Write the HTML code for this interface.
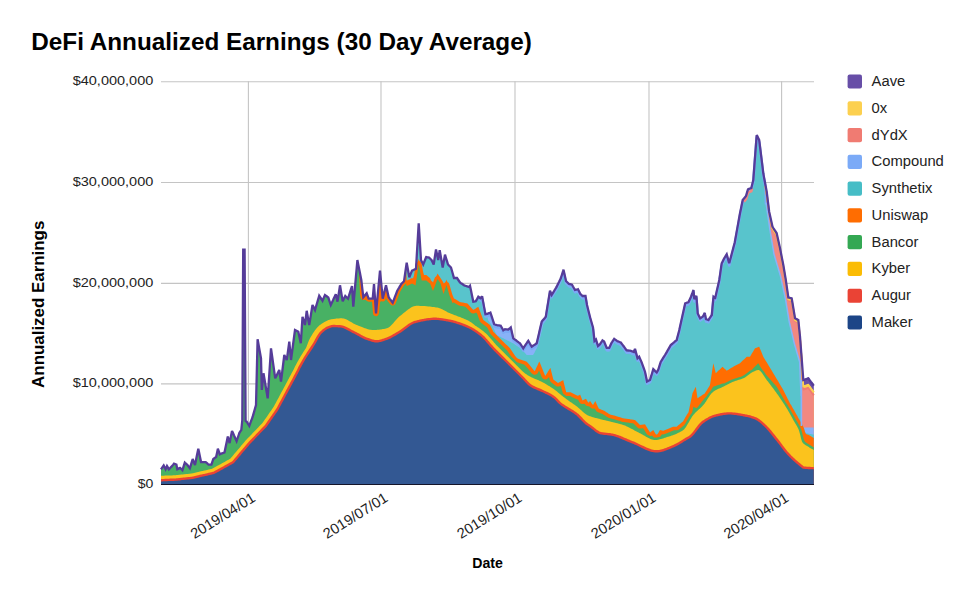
<!DOCTYPE html>
<html><head><meta charset="utf-8"><style>
html,body{margin:0;padding:0;background:#fff;width:973px;height:600px;overflow:hidden}
svg{display:block}
text{font-family:"Liberation Sans",sans-serif}
.ax{font-size:13.5px;fill:#222}
.xl{font-size:14.6px;fill:#222}
.leg{font-size:13.8px;fill:#222}
.title{font-size:24px;font-weight:bold;fill:#000}
.axt{font-size:14px;font-weight:bold;fill:#000}
.axt2{font-size:16.4px;font-weight:bold;fill:#000}
</style></head><body>
<svg width="973" height="600" viewBox="0 0 973 600">
<line x1="161" y1="81.7" x2="814" y2="81.7" stroke="#c4c4c4" stroke-width="1.1"/>
<line x1="161" y1="182.5" x2="814" y2="182.5" stroke="#c4c4c4" stroke-width="1.1"/>
<line x1="161" y1="283.4" x2="814" y2="283.4" stroke="#c4c4c4" stroke-width="1.1"/>
<line x1="161" y1="383.9" x2="814" y2="383.9" stroke="#c4c4c4" stroke-width="1.1"/>
<line x1="248.4" y1="81.2" x2="248.4" y2="484" stroke="#c4c4c4" stroke-width="1.1"/>
<line x1="381.0" y1="81.2" x2="381.0" y2="484" stroke="#c4c4c4" stroke-width="1.1"/>
<line x1="515.0" y1="81.2" x2="515.0" y2="484" stroke="#c4c4c4" stroke-width="1.1"/>
<line x1="649.0" y1="81.2" x2="649.0" y2="484" stroke="#c4c4c4" stroke-width="1.1"/>
<line x1="781.6" y1="81.2" x2="781.6" y2="484" stroke="#c4c4c4" stroke-width="1.1"/>
<polygon points="161.0,484.0 161.0,469.3 162.0,467.9 163.0,466.5 163.7,465.5 164.0,466.1 165.0,468.1 165.6,469.3 166.0,468.4 167.0,466.0 168.0,467.7 168.9,469.3 169.0,469.2 170.0,468.2 171.0,467.1 172.0,466.1 172.1,466.0 173.0,464.9 174.0,463.6 175.0,464.0 175.9,464.4 176.0,464.4 176.4,464.6 177.0,467.7 177.3,469.3 178.0,468.9 179.0,468.4 180.0,467.9 180.1,467.9 181.0,468.8 182.0,469.8 182.4,470.2 183.0,468.3 184.0,465.2 184.8,462.7 185.0,462.9 186.0,463.7 187.0,464.5 187.1,464.6 188.0,465.8 189.0,467.1 189.9,468.3 190.0,468.0 191.0,464.6 192.0,461.3 192.7,459.0 193.0,459.8 194.0,462.4 195.0,465.0 196.0,460.1 197.0,455.1 198.0,450.2 198.3,448.7 199.0,452.1 200.0,456.9 201.0,461.7 201.1,462.2 202.0,462.2 203.0,462.2 204.0,462.2 205.0,462.2 205.8,462.2 206.0,462.4 207.0,463.2 208.0,464.1 208.6,464.6 209.0,464.6 210.0,464.6 211.0,464.6 211.4,464.6 212.0,462.8 213.0,459.9 213.3,459.0 214.0,458.5 214.2,458.4 215.0,457.8 216.0,457.2 216.1,457.1 217.0,452.9 217.9,448.7 218.0,449.0 219.0,451.9 219.8,454.3 220.0,454.2 221.0,453.8 222.0,453.4 223.0,453.0 224.0,452.6 224.5,452.4 225.0,450.0 226.0,445.2 227.0,440.4 227.8,436.5 228.0,437.2 229.0,440.9 229.6,443.1 230.0,441.1 231.0,436.0 232.0,430.9 233.0,433.1 233.8,434.9 234.0,435.4 235.0,437.6 236.0,439.9 236.6,441.2 237.0,440.0 238.0,437.0 239.0,434.0 239.4,432.8 240.0,431.9 241.0,430.4 241.3,430.0 242.0,423.0 242.3,420.0 243.0,287.5 243.2,249.6 244.0,249.6 244.6,249.6 245.0,318.2 245.6,421.0 246.0,421.3 246.7,421.7 247.0,422.2 248.0,423.8 249.0,425.3 249.3,425.8 250.0,423.9 251.0,421.2 252.0,418.6 252.7,416.7 253.0,415.6 254.0,412.1 255.0,408.5 256.0,405.0 257.0,363.9 257.6,339.2 258.0,341.4 259.0,347.1 260.0,352.7 261.0,358.3 261.8,390.0 262.0,388.0 263.0,378.2 263.5,373.3 264.0,376.3 265.0,382.2 266.0,388.2 266.7,392.3 267.0,394.1 267.7,398.3 268.0,393.8 269.0,378.6 270.0,363.5 271.0,348.3 272.0,355.4 272.5,359.0 273.0,362.6 274.0,369.7 275.0,376.9 275.2,378.3 276.0,376.7 277.0,374.7 278.0,372.6 278.3,372.0 279.0,370.6 279.3,370.0 280.0,374.8 281.0,381.7 282.0,373.6 283.0,365.5 284.0,357.4 284.3,355.0 285.0,356.4 286.0,358.4 286.8,360.0 287.0,358.5 288.0,351.2 289.0,343.9 289.3,341.7 290.0,349.2 291.0,360.0 291.7,354.8 292.0,352.5 293.0,345.0 294.0,337.5 295.0,330.0 296.0,330.5 297.0,331.0 298.0,331.5 298.3,331.7 299.0,334.9 300.0,339.6 300.8,343.3 301.0,340.2 301.7,329.2 302.0,324.5 302.5,316.7 303.0,318.4 304.0,321.7 305.0,325.0 306.0,316.6 306.7,310.8 307.0,312.5 308.0,318.2 309.0,323.9 309.2,325.0 310.0,320.2 311.0,314.1 312.0,308.0 312.5,305.0 313.0,306.0 314.0,308.0 314.7,309.4 315.0,310.0 316.0,306.6 317.0,303.2 318.0,299.9 319.0,296.5 319.2,295.8 320.0,297.0 321.0,298.5 321.7,299.6 322.0,300.0 322.5,300.8 323.0,299.6 324.0,297.3 325.0,295.0 326.0,295.8 327.0,296.5 328.0,297.3 328.3,297.5 328.7,298.7 329.0,299.6 330.0,302.6 330.8,305.0 331.0,304.6 331.7,303.1 332.0,302.4 333.0,300.2 333.3,299.6 334.0,298.1 335.0,295.9 335.8,294.2 336.0,295.1 337.0,299.5 337.5,301.7 338.0,298.4 339.0,291.9 340.0,285.3 341.0,291.2 341.7,295.4 342.0,297.2 342.7,301.3 343.0,300.7 344.0,298.6 345.0,296.6 345.3,296.0 346.0,296.7 347.0,297.7 348.0,298.7 349.0,295.5 350.0,292.4 351.0,289.2 352.0,286.0 353.0,301.9 353.3,306.7 354.0,298.7 355.0,287.3 356.0,275.9 356.7,268.0 357.0,264.6 357.4,260.0 358.0,263.1 359.0,268.2 360.0,273.3 361.0,278.5 361.3,280.0 362.0,286.1 363.0,294.7 363.3,297.3 364.0,296.5 365.0,295.3 366.0,294.1 366.7,293.3 367.0,294.1 368.0,296.8 368.7,298.7 369.0,298.7 370.0,298.7 371.0,298.7 372.0,298.7 372.7,298.7 373.0,295.3 373.3,291.9 374.0,284.0 375.0,298.6 376.0,313.3 376.7,305.8 377.0,302.6 378.0,292.0 379.0,281.4 380.0,270.7 381.0,281.1 382.0,291.4 382.7,298.7 383.0,297.5 384.0,293.4 385.0,289.4 386.0,285.3 386.7,288.4 387.0,289.7 388.0,294.2 388.7,297.3 389.0,297.7 390.0,299.1 391.0,300.4 392.0,301.8 392.7,302.7 393.0,301.9 394.0,299.3 395.0,296.7 396.0,294.1 397.0,291.5 397.3,290.7 398.0,289.5 399.0,287.9 400.0,286.2 401.0,284.5 401.3,284.0 402.0,283.3 403.0,282.3 404.0,281.3 405.0,274.4 406.0,267.5 406.7,262.7 407.0,264.4 408.0,270.0 409.0,275.6 409.3,277.3 410.0,275.6 411.0,273.1 412.0,270.7 413.0,270.2 414.0,269.7 415.0,269.2 415.5,268.9 416.0,268.7 416.7,256.9 417.0,251.8 418.0,235.0 418.7,223.2 419.0,228.0 420.0,244.0 421.0,260.0 421.7,261.4 422.0,262.0 423.0,264.1 423.2,264.5 424.0,262.5 425.0,260.0 426.0,257.5 426.2,257.0 427.0,257.2 428.0,257.4 429.0,257.7 429.2,257.7 430.0,258.5 431.0,259.5 431.5,260.0 432.0,261.0 433.0,263.1 433.7,264.5 434.0,262.5 435.0,256.0 436.0,249.5 436.7,252.8 437.0,254.3 437.5,256.7 438.0,259.0 438.2,260.0 439.0,254.8 439.7,250.2 440.0,251.9 440.5,254.8 441.0,257.7 442.0,263.5 442.7,267.5 443.0,265.8 443.5,263.0 444.0,260.3 445.0,254.7 446.0,258.0 446.5,259.6 447.0,261.2 448.0,264.5 448.3,264.8 449.0,265.5 449.5,266.0 450.0,266.5 451.0,267.5 452.0,271.0 452.5,272.8 453.0,274.5 453.3,275.6 454.0,278.0 455.0,278.0 456.0,278.0 457.0,278.0 458.0,279.5 459.0,281.0 460.0,282.5 461.0,283.2 462.0,283.8 463.0,284.5 464.0,285.2 464.5,285.5 465.0,285.7 466.0,286.0 466.7,286.2 467.0,286.3 467.5,286.5 468.0,286.7 469.0,287.0 470.0,285.8 471.0,290.6 471.7,294.0 472.0,295.4 473.0,300.3 473.3,301.7 474.0,301.6 475.0,301.4 475.8,301.2 476.0,300.9 477.0,299.1 478.0,297.2 478.3,296.7 479.0,297.2 480.0,298.0 480.4,298.3 481.0,297.6 482.0,296.4 482.1,296.2 483.0,301.1 483.3,302.8 484.0,306.6 485.0,312.0 485.4,314.2 486.0,314.1 487.0,313.9 487.5,313.8 488.0,313.5 489.0,313.1 490.0,312.7 490.4,312.5 491.0,314.3 492.0,317.4 493.0,320.5 493.3,321.4 494.0,323.6 494.2,324.2 495.0,324.5 496.0,324.8 496.7,325.0 497.0,325.1 498.0,325.3 499.0,325.4 500.0,325.6 500.8,325.8 501.0,326.2 502.0,328.0 503.0,329.8 503.3,330.4 504.0,329.9 505.0,329.2 506.0,329.3 506.7,329.4 507.0,329.4 508.0,329.6 508.3,329.6 509.0,329.0 510.0,328.2 510.8,327.5 511.0,328.4 512.0,332.8 512.5,335.0 513.0,337.1 513.3,338.3 514.0,338.8 515.0,339.6 516.0,340.3 516.7,340.8 517.0,341.1 518.0,341.8 519.0,342.6 520.0,343.3 521.0,344.8 521.7,345.9 522.0,346.3 523.0,347.8 523.3,348.3 524.0,347.2 525.0,345.7 526.0,344.2 526.7,343.2 527.0,342.7 528.0,341.2 528.3,340.8 529.0,342.0 530.0,343.8 531.0,345.5 531.7,346.7 532.0,346.5 533.0,345.8 534.0,345.1 534.7,344.7 535.0,344.5 536.0,343.8 536.7,343.3 537.0,342.0 538.0,337.7 539.0,333.4 539.3,332.1 540.0,329.0 541.0,324.7 541.7,321.7 542.0,321.3 543.0,320.1 544.0,318.9 545.0,317.7 545.2,317.4 545.8,316.7 546.0,315.5 547.0,309.3 548.0,303.1 549.0,297.0 550.0,290.8 550.4,291.8 551.0,293.3 551.7,295.0 552.0,294.5 553.0,292.8 553.3,292.3 554.0,291.2 555.0,289.5 556.0,287.9 556.7,286.7 557.0,286.1 558.0,284.0 559.0,282.0 559.2,281.6 560.0,279.9 560.8,278.3 561.0,277.7 562.0,274.5 563.0,271.3 563.2,270.7 563.5,269.7 564.0,272.0 565.0,276.5 566.0,281.0 566.2,281.2 567.0,282.0 568.0,283.0 569.0,284.0 570.0,284.2 570.8,284.4 571.0,284.5 572.0,284.7 573.0,286.5 574.0,288.2 575.0,290.0 576.0,289.7 576.6,289.6 577.0,289.5 577.8,289.3 578.0,289.2 579.0,291.2 580.0,293.3 580.1,293.5 580.2,293.7 581.0,294.5 582.0,295.5 582.5,296.0 583.0,296.0 584.0,296.0 584.8,296.0 585.0,296.0 585.5,296.0 586.0,299.0 587.0,305.0 588.0,309.0 588.3,310.2 589.0,313.0 590.0,317.0 590.1,317.4 591.0,320.5 592.0,324.0 593.0,327.5 594.0,336.5 594.5,341.0 595.0,340.5 595.3,340.2 596.0,339.5 597.0,342.8 598.0,346.0 598.8,345.3 599.0,345.1 600.0,344.2 601.0,342.7 602.0,341.2 602.5,340.4 603.0,340.8 604.0,341.5 604.2,341.7 604.6,342.7 605.0,343.7 606.0,346.2 606.7,347.9 607.0,347.9 608.0,347.9 609.0,347.9 609.2,347.9 610.0,346.2 611.0,344.0 611.7,342.5 612.0,342.1 613.0,340.6 614.0,339.1 614.2,338.8 615.0,339.4 616.0,340.1 617.0,340.9 617.5,341.2 618.0,341.4 619.0,341.8 620.0,342.2 620.8,342.5 621.0,342.8 622.0,344.1 623.0,345.4 623.3,345.8 624.0,346.7 625.0,348.1 626.0,349.5 626.7,350.4 627.0,350.4 628.0,350.5 629.0,350.6 630.0,350.7 630.8,350.8 631.0,350.9 631.7,351.2 632.0,351.3 633.0,351.8 633.8,352.1 634.0,351.4 635.0,348.8 636.0,352.6 637.0,356.4 637.5,358.3 638.0,357.8 639.0,356.9 639.2,356.7 640.0,358.6 641.0,360.9 641.7,362.5 642.0,363.3 643.0,366.1 644.0,368.9 645.0,371.7 646.0,376.6 647.0,381.5 648.0,381.0 649.0,380.5 650.0,380.0 651.0,376.7 652.0,373.5 653.0,370.2 653.3,369.2 654.0,369.9 655.0,370.9 656.0,371.8 656.7,372.5 657.0,372.0 658.0,370.1 658.3,369.6 659.0,367.4 660.0,364.2 660.8,361.7 661.0,361.4 662.0,359.8 663.0,358.2 663.3,357.7 664.0,356.6 665.0,355.0 666.0,353.3 667.0,351.6 668.0,349.8 668.3,349.3 669.0,348.1 670.0,346.4 670.8,345.0 671.0,344.8 672.0,344.0 673.0,343.1 673.3,342.9 674.0,342.3 675.0,341.4 676.0,340.6 676.7,340.0 677.0,338.8 678.0,335.0 679.0,331.2 679.3,330.0 680.0,326.8 681.0,322.3 682.0,317.8 683.0,313.3 683.3,311.9 684.0,308.7 685.0,304.2 685.2,303.3 686.0,303.0 686.7,302.8 687.0,302.6 688.0,302.3 688.3,302.2 688.5,302.1 689.0,301.0 690.0,298.9 691.0,296.7 692.0,294.0 692.5,292.7 693.0,291.3 693.3,290.5 693.5,290.0 694.0,295.8 694.3,299.2 695.0,298.1 695.8,296.8 696.0,296.4 696.4,295.8 696.7,299.8 697.0,303.9 697.5,310.6 697.7,313.3 698.0,313.9 699.0,315.9 700.0,317.9 700.2,318.3 701.0,317.8 702.0,317.1 702.7,316.7 703.0,316.1 703.3,315.6 703.8,314.7 704.0,314.3 704.8,312.9 705.0,314.2 706.0,319.2 707.0,319.5 708.0,319.8 708.5,320.0 709.0,319.2 710.0,317.7 711.0,316.2 711.8,315.0 712.0,312.8 713.0,302.1 713.3,298.9 713.5,296.7 714.0,297.1 715.0,297.8 715.2,297.9 715.8,295.3 716.0,294.4 716.6,291.8 717.0,290.0 718.0,285.7 719.0,281.3 719.3,280.0 720.0,275.1 721.0,268.2 721.7,263.3 722.0,262.7 722.5,261.7 723.0,260.7 723.3,260.1 724.0,258.7 724.2,258.3 725.0,257.0 726.0,255.3 726.7,254.2 727.0,255.3 728.0,258.9 729.0,262.6 729.2,263.3 729.4,262.6 730.0,260.3 731.0,256.6 732.0,252.8 733.0,249.1 733.3,247.9 734.0,245.3 734.7,242.7 735.0,241.0 736.0,235.5 737.0,229.9 738.0,224.4 739.0,218.8 740.0,213.3 741.0,208.4 742.0,203.4 742.7,200.0 743.0,199.6 743.3,199.3 744.0,198.4 745.0,197.2 746.0,196.0 746.7,193.7 747.0,192.7 748.0,189.3 749.0,188.9 750.0,188.5 751.0,188.1 751.3,188.0 752.0,185.2 753.0,181.2 753.3,180.0 754.0,170.7 755.0,157.5 756.0,144.3 756.7,135.0 757.0,135.6 758.0,137.6 758.3,138.2 759.0,139.6 759.2,140.0 760.0,146.5 761.0,154.6 762.0,162.7 763.0,170.9 763.3,173.3 764.0,177.1 764.2,178.2 765.0,182.5 765.5,185.2 766.0,187.9 766.7,191.7 767.0,194.1 768.0,202.3 769.0,210.4 769.2,212.0 769.5,213.3 770.0,215.6 771.0,220.0 772.0,224.5 772.5,226.7 773.0,227.5 773.3,228.0 774.0,229.1 775.0,230.6 775.2,230.9 776.0,232.2 776.7,233.3 777.0,234.7 778.0,239.2 779.0,243.8 780.0,248.3 780.5,250.8 781.0,253.4 782.0,258.4 783.0,263.5 783.3,265.0 784.0,269.2 785.0,275.2 785.5,278.2 785.8,280.0 786.0,281.4 786.7,286.3 787.0,288.4 787.5,291.9 788.0,295.4 788.3,297.5 789.0,297.7 789.2,297.7 790.0,297.9 791.0,298.1 791.7,298.3 792.0,300.1 793.0,306.2 793.3,308.0 794.0,312.2 794.5,315.3 795.0,318.3 796.0,318.8 796.7,319.2 797.0,319.3 797.5,319.6 798.0,319.8 798.3,320.0 798.8,324.9 799.0,326.9 799.7,333.8 800.0,336.7 800.5,343.3 801.0,349.8 801.3,353.8 801.5,356.4 802.0,362.9 802.5,369.5 803.0,376.1 803.3,380.0 804.0,379.8 805.0,379.5 806.0,379.2 806.7,379.0 807.0,378.9 807.5,378.6 808.0,378.4 808.3,378.3 808.8,379.0 809.0,379.3 810.0,380.6 811.0,382.0 812.0,383.3 813.0,384.7 813.8,385.8 813.8,484.0" fill="#674ea7"/>
<polygon points="161.0,484.0 161.0,469.3 162.0,467.9 163.0,466.5 163.7,465.5 164.0,466.1 165.0,468.1 165.6,469.3 166.0,468.4 167.0,466.0 168.0,467.7 168.9,469.3 169.0,469.2 170.0,468.2 171.0,467.1 172.0,466.1 172.1,466.0 173.0,464.9 174.0,463.6 175.0,464.0 175.9,464.4 176.0,464.4 176.4,464.6 177.0,467.7 177.3,469.3 178.0,468.9 179.0,468.4 180.0,467.9 180.1,467.9 181.0,468.8 182.0,469.8 182.4,470.2 183.0,468.3 184.0,465.2 184.8,462.7 185.0,462.9 186.0,463.7 187.0,464.5 187.1,464.6 188.0,465.8 189.0,467.1 189.9,468.3 190.0,468.0 191.0,464.6 192.0,461.3 192.7,459.0 193.0,459.8 194.0,462.4 195.0,465.0 196.0,460.1 197.0,455.1 198.0,450.2 198.3,448.7 199.0,452.1 200.0,456.9 201.0,461.7 201.1,462.2 202.0,462.2 203.0,462.2 204.0,462.2 205.0,462.2 205.8,462.2 206.0,462.4 207.0,463.2 208.0,464.1 208.6,464.6 209.0,464.6 210.0,464.6 211.0,464.6 211.4,464.6 212.0,462.8 213.0,459.9 213.3,459.0 214.0,458.5 214.2,458.4 215.0,457.8 216.0,457.2 216.1,457.1 217.0,452.9 217.9,448.7 218.0,449.0 219.0,451.9 219.8,454.3 220.0,454.2 221.0,453.8 222.0,453.4 223.0,453.0 224.0,452.6 224.5,452.4 225.0,450.0 226.0,445.2 227.0,440.4 227.8,436.5 228.0,437.2 229.0,440.9 229.6,443.1 230.0,441.1 231.0,436.0 232.0,430.9 233.0,433.1 233.8,434.9 234.0,435.4 235.0,437.6 236.0,439.9 236.6,441.2 237.0,440.0 238.0,437.0 239.0,434.0 239.4,432.8 240.0,431.9 241.0,430.4 241.3,430.0 242.0,423.0 242.3,420.0 243.0,287.5 243.2,249.6 244.0,249.6 244.6,249.6 245.0,318.2 245.6,421.0 246.0,421.3 246.7,421.7 247.0,422.2 248.0,423.8 249.0,425.3 249.3,425.8 250.0,423.9 251.0,421.2 252.0,418.6 252.7,416.7 253.0,415.6 254.0,412.1 255.0,408.5 256.0,405.0 257.0,363.9 257.6,339.2 258.0,341.4 259.0,347.1 260.0,352.7 261.0,358.3 261.8,390.0 262.0,388.0 263.0,378.2 263.5,373.3 264.0,376.3 265.0,382.2 266.0,388.2 266.7,392.3 267.0,394.1 267.7,398.3 268.0,393.8 269.0,378.6 270.0,363.5 271.0,348.3 272.0,355.4 272.5,359.0 273.0,362.6 274.0,369.7 275.0,376.9 275.2,378.3 276.0,376.7 277.0,374.7 278.0,372.6 278.3,372.0 279.0,370.6 279.3,370.0 280.0,374.8 281.0,381.7 282.0,373.6 283.0,365.5 284.0,357.4 284.3,355.0 285.0,356.4 286.0,358.4 286.8,360.0 287.0,358.5 288.0,351.2 289.0,343.9 289.3,341.7 290.0,349.2 291.0,360.0 291.7,354.8 292.0,352.5 293.0,345.0 294.0,337.5 295.0,330.0 296.0,330.5 297.0,331.0 298.0,331.5 298.3,331.7 299.0,334.9 300.0,339.6 300.8,343.3 301.0,340.2 301.7,329.2 302.0,324.5 302.5,316.7 303.0,318.4 304.0,321.7 305.0,325.0 306.0,316.6 306.7,310.8 307.0,312.5 308.0,318.2 309.0,323.9 309.2,325.0 310.0,320.2 311.0,314.1 312.0,308.0 312.5,305.0 313.0,306.0 314.0,308.0 314.7,309.4 315.0,310.0 316.0,306.6 317.0,303.2 318.0,299.9 319.0,296.5 319.2,295.8 320.0,297.0 321.0,298.5 321.7,299.6 322.0,300.0 322.5,300.8 323.0,299.6 324.0,297.3 325.0,295.0 326.0,295.8 327.0,296.5 328.0,297.3 328.3,297.5 328.7,298.7 329.0,299.6 330.0,302.6 330.8,305.0 331.0,304.6 331.7,303.1 332.0,302.4 333.0,300.2 333.3,299.6 334.0,298.1 335.0,295.9 335.8,294.2 336.0,295.1 337.0,299.5 337.5,301.7 338.0,298.4 339.0,291.9 340.0,285.3 341.0,291.2 341.7,295.4 342.0,297.2 342.7,301.3 343.0,300.7 344.0,298.6 345.0,296.6 345.3,296.0 346.0,296.7 347.0,297.7 348.0,298.7 349.0,295.5 350.0,292.4 351.0,289.2 352.0,286.0 353.0,301.9 353.3,306.7 354.0,298.7 355.0,287.3 356.0,275.9 356.7,268.0 357.0,264.6 357.4,260.0 358.0,263.1 359.0,268.2 360.0,274.1 361.0,279.3 361.3,280.8 362.0,286.9 363.0,295.5 363.3,298.1 364.0,297.3 365.0,296.1 366.0,294.9 366.7,294.1 367.0,294.9 368.0,297.6 368.7,299.5 369.0,299.5 370.0,299.5 371.0,299.5 372.0,299.5 372.7,299.5 373.0,296.1 373.3,292.7 374.0,284.8 375.0,299.4 376.0,314.1 376.7,306.6 377.0,303.4 378.0,292.8 379.0,282.2 380.0,271.5 381.0,281.9 382.0,292.2 382.7,299.5 383.0,298.3 384.0,294.2 385.0,290.2 386.0,286.1 386.7,289.2 387.0,290.5 388.0,295.0 388.7,298.1 389.0,298.5 390.0,299.9 391.0,301.2 392.0,302.6 392.7,303.5 393.0,302.7 394.0,300.1 395.0,296.7 396.0,294.1 397.0,291.5 397.3,290.7 398.0,289.5 399.0,287.9 400.0,286.2 401.0,284.5 401.3,284.0 402.0,283.3 403.0,282.3 404.0,281.3 405.0,274.4 406.0,267.5 406.7,262.7 407.0,264.4 408.0,270.0 409.0,275.6 409.3,277.3 410.0,275.6 411.0,273.1 412.0,270.7 413.0,270.2 414.0,269.7 415.0,268.7 415.5,265.3 416.0,263.1 416.7,256.9 417.0,251.8 418.0,235.0 418.7,223.2 419.0,228.0 420.0,244.0 421.0,260.0 421.7,261.4 422.0,262.0 423.0,264.1 423.2,264.5 424.0,262.5 425.0,260.0 426.0,257.5 426.2,257.0 427.0,257.2 428.0,257.4 429.0,257.7 429.2,257.7 430.0,258.5 431.0,259.5 431.5,260.0 432.0,261.0 433.0,263.1 433.7,264.5 434.0,262.5 435.0,256.0 436.0,249.5 436.7,252.8 437.0,254.3 437.5,256.7 438.0,259.0 438.2,260.0 439.0,254.8 439.7,250.2 440.0,251.9 440.5,254.8 441.0,257.7 442.0,263.5 442.7,267.5 443.0,265.8 443.5,263.0 444.0,260.3 445.0,254.7 446.0,258.0 446.5,259.6 447.0,261.2 448.0,264.5 448.3,264.8 449.0,265.5 449.5,266.0 450.0,266.5 451.0,267.5 452.0,271.0 452.5,272.8 453.0,274.5 453.3,275.6 454.0,278.0 455.0,278.0 456.0,278.0 457.0,278.0 458.0,279.5 459.0,281.0 460.0,282.5 461.0,283.2 462.0,283.8 463.0,284.5 464.0,285.2 464.5,285.5 465.0,285.7 466.0,286.0 466.7,286.2 467.0,286.3 467.5,286.5 468.0,286.7 469.0,287.0 470.0,285.8 471.0,290.6 471.7,294.0 472.0,295.4 473.0,300.3 473.3,301.7 474.0,301.6 475.0,301.4 475.8,301.2 476.0,300.9 477.0,299.1 478.0,297.2 478.3,296.7 479.0,297.2 480.0,298.0 480.4,298.3 481.0,297.6 482.0,296.4 482.1,296.2 483.0,301.1 483.3,302.8 484.0,306.6 485.0,312.0 485.4,314.2 486.0,314.1 487.0,313.9 487.5,313.8 488.0,313.5 489.0,313.1 490.0,312.7 490.4,312.5 491.0,314.3 492.0,317.4 493.0,320.5 493.3,321.4 494.0,323.6 494.2,324.2 495.0,324.5 496.0,324.8 496.7,325.0 497.0,325.1 498.0,325.3 499.0,325.4 500.0,325.6 500.8,325.8 501.0,326.2 502.0,328.0 503.0,329.8 503.3,330.4 504.0,329.9 505.0,329.2 506.0,329.3 506.7,329.4 507.0,329.4 508.0,329.6 508.3,329.6 509.0,329.0 510.0,328.2 510.8,327.5 511.0,328.4 512.0,332.8 512.5,335.0 513.0,337.1 513.3,338.3 514.0,338.8 515.0,339.6 516.0,340.3 516.7,340.8 517.0,341.1 518.0,341.8 519.0,342.6 520.0,343.3 521.0,344.8 521.7,345.9 522.0,346.3 523.0,347.8 523.3,348.3 524.0,347.2 525.0,345.7 526.0,344.2 526.7,343.2 527.0,342.7 528.0,341.2 528.3,340.8 529.0,342.0 530.0,343.8 531.0,345.5 531.7,346.7 532.0,346.5 533.0,345.8 534.0,345.1 534.7,344.7 535.0,344.5 536.0,343.8 536.7,343.3 537.0,342.0 538.0,337.7 539.0,333.4 539.3,332.1 540.0,329.0 541.0,324.7 541.7,321.7 542.0,321.3 543.0,320.1 544.0,318.9 545.0,317.7 545.2,317.4 545.8,316.7 546.0,315.5 547.0,309.3 548.0,303.1 549.0,297.0 550.0,290.8 550.4,291.8 551.0,293.3 551.7,295.0 552.0,294.5 553.0,292.8 553.3,292.3 554.0,291.2 555.0,289.5 556.0,287.9 556.7,286.7 557.0,286.1 558.0,284.0 559.0,282.0 559.2,281.6 560.0,279.9 560.8,278.3 561.0,277.7 562.0,274.5 563.0,271.3 563.2,270.7 563.5,269.7 564.0,272.0 565.0,276.5 566.0,281.0 566.2,281.2 567.0,282.0 568.0,283.0 569.0,284.0 570.0,284.2 570.8,284.4 571.0,284.5 572.0,284.7 573.0,286.5 574.0,288.2 575.0,290.0 576.0,289.7 576.6,289.6 577.0,289.5 577.8,289.3 578.0,289.2 579.0,291.2 580.0,293.3 580.1,293.5 580.2,293.7 581.0,294.5 582.0,295.5 582.5,296.0 583.0,296.0 584.0,296.0 584.8,296.0 585.0,296.0 585.5,296.0 586.0,299.0 587.0,305.0 588.0,309.0 588.3,310.2 589.0,313.0 590.0,317.0 590.1,317.4 591.0,320.5 592.0,324.0 593.0,327.5 594.0,336.5 594.5,341.0 595.0,340.5 595.3,340.2 596.0,339.5 597.0,342.8 598.0,346.0 598.8,345.3 599.0,345.1 600.0,344.2 601.0,342.7 602.0,341.2 602.5,340.4 603.0,340.8 604.0,341.5 604.2,341.7 604.6,342.7 605.0,343.7 606.0,346.2 606.7,347.9 607.0,347.9 608.0,347.9 609.0,347.9 609.2,347.9 610.0,346.2 611.0,344.0 611.7,342.5 612.0,342.1 613.0,340.6 614.0,339.1 614.2,338.8 615.0,339.4 616.0,340.1 617.0,340.9 617.5,341.2 618.0,341.4 619.0,341.8 620.0,342.2 620.8,342.5 621.0,342.8 622.0,344.1 623.0,345.4 623.3,345.8 624.0,346.7 625.0,348.1 626.0,349.5 626.7,350.4 627.0,350.4 628.0,350.5 629.0,350.6 630.0,350.7 630.8,350.8 631.0,350.9 631.7,351.2 632.0,351.3 633.0,351.8 633.8,352.1 634.0,351.4 635.0,348.8 636.0,352.6 637.0,356.4 637.5,358.3 638.0,357.8 639.0,356.9 639.2,356.7 640.0,358.6 641.0,360.9 641.7,362.5 642.0,363.3 643.0,366.1 644.0,368.9 645.0,371.7 646.0,376.6 647.0,381.5 648.0,381.0 649.0,380.5 650.0,380.0 651.0,376.7 652.0,373.5 653.0,370.2 653.3,369.2 654.0,369.9 655.0,370.9 656.0,371.8 656.7,372.5 657.0,372.0 658.0,370.1 658.3,369.6 659.0,367.4 660.0,364.2 660.8,361.7 661.0,361.4 662.0,359.8 663.0,358.2 663.3,357.7 664.0,356.6 665.0,355.0 666.0,353.3 667.0,351.6 668.0,349.8 668.3,349.3 669.0,348.1 670.0,346.4 670.8,345.0 671.0,344.8 672.0,344.0 673.0,343.1 673.3,342.9 674.0,342.3 675.0,341.4 676.0,340.6 676.7,340.0 677.0,338.8 678.0,335.0 679.0,331.2 679.3,330.0 680.0,326.8 681.0,322.3 682.0,317.8 683.0,313.3 683.3,311.9 684.0,308.7 685.0,304.2 685.2,303.3 686.0,303.0 686.7,302.8 687.0,302.6 688.0,302.3 688.3,302.2 688.5,302.1 689.0,301.0 690.0,298.9 691.0,296.7 692.0,294.0 692.5,292.7 693.0,291.3 693.3,290.5 693.5,290.0 694.0,295.8 694.3,299.2 695.0,298.1 695.8,296.8 696.0,296.4 696.4,295.8 696.7,299.8 697.0,303.9 697.5,310.6 697.7,313.3 698.0,313.9 699.0,315.9 700.0,317.9 700.2,318.3 701.0,317.8 702.0,317.1 702.7,316.7 703.0,316.1 703.3,315.6 703.8,314.7 704.0,314.3 704.8,312.9 705.0,314.2 706.0,319.2 707.0,319.5 708.0,319.8 708.5,320.0 709.0,319.2 710.0,317.7 711.0,316.2 711.8,315.0 712.0,312.8 713.0,302.1 713.3,298.9 713.5,296.7 714.0,297.1 715.0,297.8 715.2,297.9 715.8,295.3 716.0,294.4 716.6,291.8 717.0,290.0 718.0,285.7 719.0,281.3 719.3,280.0 720.0,275.1 721.0,268.2 721.7,263.3 722.0,262.7 722.5,261.7 723.0,260.7 723.3,260.1 724.0,258.7 724.2,258.3 725.0,257.0 726.0,255.3 726.7,254.2 727.0,255.3 728.0,258.9 729.0,262.6 729.2,263.3 729.4,262.6 730.0,260.3 731.0,256.6 732.0,252.8 733.0,249.1 733.3,247.9 734.0,245.3 734.7,242.7 735.0,241.0 736.0,235.5 737.0,229.9 738.0,224.4 739.0,218.8 740.0,213.3 741.0,208.4 742.0,203.4 742.7,200.0 743.0,199.6 743.3,199.3 744.0,198.4 745.0,197.2 746.0,196.0 746.7,193.7 747.0,192.7 748.0,189.3 749.0,188.9 750.0,188.5 751.0,188.1 751.3,188.0 752.0,185.2 753.0,181.2 753.3,180.0 754.0,170.7 755.0,157.5 756.0,144.3 756.7,135.0 757.0,135.6 758.0,137.6 758.3,138.2 759.0,139.6 759.2,140.0 760.0,146.5 761.0,154.6 762.0,162.7 763.0,170.9 763.3,173.3 764.0,177.1 764.2,178.2 765.0,182.5 765.5,185.2 766.0,188.7 766.7,192.5 767.0,194.9 768.0,203.1 769.0,211.2 769.2,212.8 769.5,214.1 770.0,216.4 771.0,220.8 772.0,225.3 772.5,227.5 773.0,228.3 773.3,228.8 774.0,229.9 775.0,231.4 775.2,231.7 776.0,233.0 776.7,234.1 777.0,235.5 778.0,240.0 779.0,244.6 780.0,249.1 780.5,251.6 781.0,254.2 782.0,259.2 783.0,264.3 783.3,265.8 784.0,270.0 785.0,276.0 785.5,279.0 785.8,280.8 786.0,282.2 786.7,287.1 787.0,289.2 787.5,292.7 788.0,296.2 788.3,298.3 789.0,298.5 789.2,298.5 790.0,298.7 791.0,298.9 791.7,299.1 792.0,300.9 793.0,307.0 793.3,308.8 794.0,313.0 794.5,316.1 795.0,319.1 796.0,319.6 796.7,320.0 797.0,320.1 797.5,320.4 798.0,320.6 798.3,320.8 798.8,325.7 799.0,327.7 799.7,334.6 800.0,337.5 800.5,344.1 801.0,350.6 801.3,354.6 801.5,357.2 802.0,368.4 802.5,375.0 803.0,381.6 803.3,385.5 804.0,385.3 805.0,385.0 806.0,384.7 806.7,384.5 807.0,384.4 807.5,384.1 808.0,383.9 808.3,383.8 808.8,384.5 809.0,384.8 810.0,386.1 811.0,387.5 812.0,388.8 813.0,390.2 813.8,391.3 813.8,484.0" fill="#fcd04f"/>
<polygon points="161.0,484.0 161.0,469.3 162.0,467.9 163.0,466.5 163.7,465.5 164.0,466.1 165.0,468.1 165.6,469.3 166.0,468.4 167.0,466.0 168.0,467.7 168.9,469.3 169.0,469.2 170.0,468.2 171.0,467.1 172.0,466.1 172.1,466.0 173.0,464.9 174.0,463.6 175.0,464.0 175.9,464.4 176.0,464.4 176.4,464.6 177.0,467.7 177.3,469.3 178.0,468.9 179.0,468.4 180.0,467.9 180.1,467.9 181.0,468.8 182.0,469.8 182.4,470.2 183.0,468.3 184.0,465.2 184.8,462.7 185.0,462.9 186.0,463.7 187.0,464.5 187.1,464.6 188.0,465.8 189.0,467.1 189.9,468.3 190.0,468.0 191.0,464.6 192.0,461.3 192.7,459.0 193.0,459.8 194.0,462.4 195.0,465.0 196.0,460.1 197.0,455.1 198.0,450.2 198.3,448.7 199.0,452.1 200.0,456.9 201.0,461.7 201.1,462.2 202.0,462.2 203.0,462.2 204.0,462.2 205.0,462.2 205.8,462.2 206.0,462.4 207.0,463.2 208.0,464.1 208.6,464.6 209.0,464.6 210.0,464.6 211.0,464.6 211.4,464.6 212.0,462.8 213.0,459.9 213.3,459.0 214.0,458.5 214.2,458.4 215.0,457.8 216.0,457.2 216.1,457.1 217.0,452.9 217.9,448.7 218.0,449.0 219.0,451.9 219.8,454.3 220.0,454.2 221.0,453.8 222.0,453.4 223.0,453.0 224.0,452.6 224.5,452.4 225.0,450.0 226.0,445.2 227.0,440.4 227.8,436.5 228.0,437.2 229.0,440.9 229.6,443.1 230.0,441.1 231.0,436.0 232.0,430.9 233.0,433.1 233.8,434.9 234.0,435.4 235.0,437.6 236.0,439.9 236.6,441.2 237.0,440.0 238.0,437.0 239.0,434.0 239.4,432.8 240.0,431.9 241.0,430.4 241.3,430.0 242.0,423.0 242.3,420.0 243.0,287.5 243.2,249.6 244.0,249.6 244.6,249.6 245.0,318.2 245.6,421.0 246.0,421.3 246.7,421.7 247.0,422.2 248.0,423.8 249.0,425.3 249.3,425.8 250.0,423.9 251.0,421.2 252.0,418.6 252.7,416.7 253.0,415.6 254.0,412.1 255.0,408.5 256.0,405.0 257.0,363.9 257.6,339.2 258.0,341.4 259.0,347.1 260.0,352.7 261.0,358.3 261.8,390.0 262.0,388.0 263.0,378.2 263.5,373.3 264.0,376.3 265.0,382.2 266.0,388.2 266.7,392.3 267.0,394.1 267.7,398.3 268.0,393.8 269.0,378.6 270.0,363.5 271.0,348.3 272.0,355.4 272.5,359.0 273.0,362.6 274.0,369.7 275.0,376.9 275.2,378.3 276.0,376.7 277.0,374.7 278.0,372.6 278.3,372.0 279.0,370.6 279.3,370.0 280.0,374.8 281.0,381.7 282.0,373.6 283.0,365.5 284.0,357.4 284.3,355.0 285.0,356.4 286.0,358.4 286.8,360.0 287.0,358.5 288.0,351.2 289.0,343.9 289.3,341.7 290.0,349.2 291.0,360.0 291.7,354.8 292.0,352.5 293.0,345.0 294.0,337.5 295.0,330.0 296.0,330.5 297.0,331.0 298.0,331.5 298.3,331.7 299.0,334.9 300.0,339.6 300.8,343.3 301.0,340.2 301.7,329.2 302.0,324.5 302.5,316.7 303.0,318.4 304.0,321.7 305.0,325.0 306.0,316.6 306.7,310.8 307.0,312.5 308.0,318.2 309.0,323.9 309.2,325.0 310.0,320.2 311.0,314.1 312.0,308.0 312.5,305.0 313.0,306.0 314.0,308.0 314.7,309.4 315.0,310.0 316.0,306.6 317.0,303.2 318.0,299.9 319.0,296.5 319.2,295.8 320.0,297.0 321.0,298.5 321.7,299.6 322.0,300.0 322.5,300.8 323.0,299.6 324.0,297.3 325.0,295.0 326.0,295.8 327.0,296.5 328.0,297.3 328.3,297.5 328.7,298.7 329.0,299.6 330.0,302.6 330.8,305.0 331.0,304.6 331.7,303.1 332.0,302.4 333.0,300.2 333.3,299.6 334.0,298.1 335.0,295.9 335.8,294.2 336.0,295.1 337.0,299.5 337.5,301.7 338.0,298.4 339.0,291.9 340.0,285.3 341.0,291.2 341.7,295.4 342.0,297.2 342.7,301.3 343.0,300.7 344.0,298.6 345.0,296.6 345.3,296.0 346.0,296.7 347.0,297.7 348.0,298.7 349.0,295.5 350.0,292.4 351.0,289.2 352.0,286.0 353.0,301.9 353.3,306.7 354.0,298.7 355.0,287.3 356.0,275.9 356.7,268.0 357.0,264.6 357.4,260.0 358.0,263.1 359.0,268.2 360.0,274.1 361.0,279.3 361.3,280.8 362.0,286.9 363.0,295.5 363.3,298.1 364.0,297.3 365.0,296.1 366.0,294.9 366.7,294.1 367.0,294.9 368.0,297.6 368.7,299.5 369.0,299.5 370.0,299.5 371.0,299.5 372.0,299.5 372.7,299.5 373.0,296.1 373.3,292.7 374.0,284.8 375.0,299.4 376.0,314.1 376.7,306.6 377.0,303.4 378.0,292.8 379.0,282.2 380.0,271.5 381.0,281.9 382.0,292.2 382.7,299.5 383.0,298.3 384.0,294.2 385.0,290.2 386.0,286.1 386.7,289.2 387.0,290.5 388.0,295.0 388.7,298.1 389.0,298.5 390.0,299.9 391.0,301.2 392.0,302.6 392.7,303.5 393.0,302.7 394.0,300.1 395.0,296.7 396.0,294.1 397.0,291.5 397.3,290.7 398.0,289.5 399.0,287.9 400.0,286.2 401.0,284.5 401.3,284.0 402.0,283.3 403.0,282.3 404.0,281.3 405.0,274.4 406.0,267.5 406.7,262.7 407.0,264.4 408.0,270.0 409.0,275.6 409.3,277.3 410.0,275.6 411.0,273.1 412.0,270.7 413.0,270.2 414.0,269.7 415.0,268.7 415.5,265.3 416.0,263.1 416.7,256.9 417.0,251.8 418.0,235.0 418.7,223.2 419.0,228.0 420.0,244.0 421.0,260.0 421.7,261.4 422.0,262.0 423.0,264.1 423.2,264.5 424.0,262.5 425.0,260.0 426.0,257.5 426.2,257.0 427.0,257.2 428.0,257.4 429.0,257.7 429.2,257.7 430.0,258.5 431.0,259.5 431.5,260.0 432.0,261.0 433.0,263.1 433.7,264.5 434.0,262.5 435.0,256.0 436.0,249.5 436.7,252.8 437.0,254.3 437.5,256.7 438.0,259.0 438.2,260.0 439.0,254.8 439.7,250.2 440.0,251.9 440.5,254.8 441.0,257.7 442.0,263.5 442.7,267.5 443.0,265.8 443.5,263.0 444.0,260.3 445.0,254.7 446.0,258.0 446.5,259.6 447.0,261.2 448.0,264.5 448.3,264.8 449.0,265.5 449.5,266.0 450.0,266.5 451.0,267.5 452.0,271.0 452.5,272.8 453.0,274.5 453.3,275.6 454.0,278.0 455.0,278.0 456.0,278.0 457.0,278.0 458.0,279.5 459.0,281.0 460.0,282.5 461.0,283.2 462.0,283.8 463.0,284.5 464.0,285.2 464.5,285.5 465.0,285.7 466.0,286.0 466.7,286.2 467.0,286.3 467.5,286.5 468.0,286.7 469.0,287.0 470.0,285.8 471.0,290.6 471.7,294.0 472.0,295.4 473.0,300.3 473.3,301.7 474.0,301.6 475.0,301.4 475.8,301.2 476.0,300.9 477.0,299.1 478.0,297.2 478.3,296.7 479.0,297.2 480.0,298.0 480.4,298.3 481.0,297.6 482.0,296.4 482.1,296.2 483.0,301.1 483.3,302.8 484.0,306.6 485.0,312.0 485.4,314.2 486.0,314.1 487.0,313.9 487.5,313.8 488.0,313.5 489.0,313.1 490.0,312.7 490.4,312.5 491.0,314.3 492.0,317.4 493.0,320.5 493.3,321.4 494.0,323.6 494.2,324.2 495.0,324.5 496.0,324.8 496.7,325.0 497.0,325.1 498.0,325.3 499.0,325.4 500.0,325.6 500.8,325.8 501.0,326.2 502.0,328.0 503.0,329.8 503.3,330.4 504.0,329.9 505.0,329.2 506.0,329.3 506.7,329.4 507.0,329.4 508.0,329.6 508.3,329.6 509.0,329.0 510.0,328.2 510.8,327.5 511.0,328.4 512.0,332.8 512.5,335.0 513.0,337.1 513.3,338.3 514.0,338.8 515.0,339.6 516.0,340.3 516.7,340.8 517.0,341.1 518.0,341.8 519.0,342.6 520.0,343.3 521.0,344.8 521.7,345.9 522.0,346.3 523.0,347.8 523.3,348.3 524.0,347.2 525.0,345.7 526.0,344.2 526.7,343.2 527.0,342.7 528.0,341.2 528.3,340.8 529.0,342.0 530.0,343.8 531.0,345.5 531.7,346.7 532.0,346.5 533.0,345.8 534.0,345.1 534.7,344.7 535.0,344.5 536.0,343.8 536.7,343.3 537.0,342.0 538.0,337.7 539.0,333.4 539.3,332.1 540.0,329.0 541.0,324.7 541.7,321.7 542.0,321.3 543.0,320.1 544.0,318.9 545.0,317.7 545.2,317.4 545.8,316.7 546.0,315.5 547.0,309.3 548.0,303.1 549.0,297.0 550.0,290.8 550.4,291.8 551.0,293.3 551.7,295.0 552.0,294.5 553.0,292.8 553.3,292.3 554.0,291.2 555.0,289.5 556.0,287.9 556.7,286.7 557.0,286.1 558.0,284.0 559.0,282.0 559.2,281.6 560.0,279.9 560.8,278.3 561.0,277.7 562.0,274.5 563.0,271.3 563.2,270.7 563.5,269.7 564.0,272.0 565.0,276.5 566.0,281.0 566.2,281.2 567.0,282.0 568.0,283.0 569.0,284.0 570.0,284.2 570.8,284.4 571.0,284.5 572.0,284.7 573.0,286.5 574.0,288.2 575.0,290.0 576.0,289.7 576.6,289.6 577.0,289.5 577.8,289.3 578.0,289.2 579.0,291.2 580.0,293.3 580.1,293.5 580.2,293.7 581.0,294.5 582.0,295.5 582.5,296.0 583.0,296.0 584.0,296.0 584.8,296.0 585.0,296.0 585.5,296.0 586.0,299.0 587.0,305.0 588.0,309.0 588.3,310.2 589.0,313.0 590.0,317.0 590.1,317.4 591.0,320.5 592.0,324.0 593.0,327.5 594.0,336.5 594.5,341.0 595.0,340.5 595.3,340.2 596.0,339.5 597.0,342.8 598.0,346.0 598.8,345.3 599.0,345.1 600.0,344.2 601.0,342.7 602.0,341.2 602.5,340.4 603.0,340.8 604.0,341.5 604.2,341.7 604.6,342.7 605.0,343.7 606.0,346.2 606.7,347.9 607.0,347.9 608.0,347.9 609.0,347.9 609.2,347.9 610.0,346.2 611.0,344.0 611.7,342.5 612.0,342.1 613.0,340.6 614.0,339.1 614.2,338.8 615.0,339.4 616.0,340.1 617.0,340.9 617.5,341.2 618.0,341.4 619.0,341.8 620.0,342.2 620.8,342.5 621.0,342.8 622.0,344.1 623.0,345.4 623.3,345.8 624.0,346.7 625.0,348.1 626.0,349.5 626.7,350.4 627.0,350.4 628.0,350.5 629.0,350.6 630.0,350.7 630.8,350.8 631.0,350.9 631.7,351.2 632.0,351.3 633.0,351.8 633.8,352.1 634.0,351.4 635.0,348.8 636.0,352.6 637.0,356.4 637.5,358.3 638.0,357.8 639.0,356.9 639.2,356.7 640.0,358.6 641.0,360.9 641.7,362.5 642.0,363.3 643.0,366.1 644.0,368.9 645.0,371.7 646.0,376.6 647.0,381.5 648.0,381.0 649.0,380.5 650.0,380.0 651.0,376.7 652.0,373.5 653.0,370.2 653.3,369.2 654.0,369.9 655.0,370.9 656.0,371.8 656.7,372.5 657.0,372.0 658.0,370.1 658.3,369.6 659.0,367.4 660.0,364.2 660.8,361.7 661.0,361.4 662.0,359.8 663.0,358.2 663.3,357.7 664.0,356.6 665.0,355.0 666.0,353.3 667.0,351.6 668.0,349.8 668.3,349.3 669.0,348.1 670.0,346.4 670.8,345.0 671.0,344.8 672.0,344.0 673.0,343.1 673.3,342.9 674.0,342.3 675.0,341.4 676.0,340.6 676.7,340.0 677.0,338.8 678.0,335.0 679.0,331.2 679.3,330.0 680.0,326.8 681.0,322.3 682.0,317.8 683.0,313.3 683.3,311.9 684.0,308.7 685.0,304.2 685.2,303.3 686.0,303.0 686.7,302.8 687.0,302.6 688.0,302.3 688.3,302.2 688.5,302.1 689.0,301.0 690.0,298.9 691.0,296.7 692.0,294.0 692.5,292.7 693.0,291.3 693.3,290.5 693.5,290.0 694.0,295.8 694.3,299.2 695.0,298.1 695.8,296.8 696.0,296.4 696.4,295.8 696.7,299.8 697.0,303.9 697.5,310.6 697.7,313.3 698.0,313.9 699.0,315.9 700.0,317.9 700.2,318.3 701.0,317.8 702.0,317.1 702.7,316.7 703.0,316.1 703.3,315.6 703.8,314.7 704.0,314.3 704.8,312.9 705.0,314.2 706.0,319.2 707.0,319.5 708.0,319.8 708.5,320.0 709.0,319.2 710.0,317.7 711.0,316.2 711.8,315.0 712.0,312.8 713.0,302.1 713.3,298.9 713.5,296.7 714.0,297.1 715.0,297.8 715.2,297.9 715.8,295.3 716.0,294.4 716.6,291.8 717.0,290.0 718.0,285.7 719.0,281.3 719.3,280.0 720.0,275.1 721.0,268.2 721.7,263.3 722.0,262.7 722.5,261.7 723.0,260.7 723.3,260.1 724.0,258.7 724.2,258.3 725.0,257.0 726.0,255.3 726.7,254.2 727.0,255.3 728.0,258.9 729.0,262.6 729.2,263.3 729.4,262.6 730.0,260.3 731.0,256.6 732.0,252.8 733.0,249.1 733.3,247.9 734.0,245.3 734.7,242.7 735.0,241.0 736.0,235.5 737.0,229.9 738.0,224.4 739.0,218.8 740.0,213.3 741.0,208.4 742.0,203.4 742.7,200.0 743.0,199.6 743.3,199.3 744.0,198.4 745.0,197.2 746.0,196.0 746.7,193.7 747.0,192.7 748.0,189.3 749.0,188.9 750.0,188.5 751.0,188.1 751.3,188.0 752.0,185.2 753.0,181.2 753.3,180.0 754.0,170.7 755.0,157.5 756.0,144.3 756.7,135.0 757.0,135.6 758.0,137.6 758.3,138.2 759.0,139.6 759.2,140.0 760.0,146.5 761.0,154.6 762.0,162.7 763.0,170.9 763.3,173.3 764.0,177.1 764.2,178.2 765.0,182.5 765.5,185.2 766.0,189.5 766.7,193.3 767.0,195.7 768.0,203.9 769.0,212.0 769.2,213.6 769.5,214.9 770.0,217.2 771.0,221.6 772.0,226.1 772.5,228.3 773.0,229.1 773.3,229.6 774.0,230.7 775.0,232.2 775.2,232.5 776.0,233.8 776.7,234.9 777.0,236.3 778.0,240.8 779.0,245.4 780.0,249.9 780.5,252.4 781.0,255.0 782.0,260.0 783.0,265.1 783.3,266.6 784.0,270.8 785.0,276.8 785.5,279.8 785.8,281.6 786.0,283.0 786.7,287.9 787.0,290.0 787.5,293.5 788.0,297.0 788.3,299.1 789.0,299.3 789.2,299.3 790.0,299.5 791.0,299.7 791.7,299.9 792.0,301.7 793.0,307.8 793.3,309.6 794.0,313.8 794.5,316.9 795.0,319.9 796.0,320.4 796.7,320.8 797.0,320.9 797.5,321.2 798.0,321.4 798.3,321.6 798.8,326.5 799.0,328.5 799.7,335.4 800.0,338.3 800.5,344.9 801.0,351.4 801.3,355.4 801.5,358.0 802.0,371.4 802.5,378.0 803.0,384.6 803.3,388.5 804.0,388.3 805.0,388.0 806.0,387.7 806.7,387.5 807.0,387.4 807.5,387.1 808.0,386.9 808.3,386.8 808.8,387.5 809.0,387.8 810.0,389.1 811.0,390.5 812.0,391.8 813.0,393.2 813.8,394.3 813.8,484.0" fill="#f28880"/>
<polygon points="161.0,484.0 161.0,469.3 162.0,467.9 163.0,466.5 163.7,465.5 164.0,466.1 165.0,468.1 165.6,469.3 166.0,468.4 167.0,466.0 168.0,467.7 168.9,469.3 169.0,469.2 170.0,468.2 171.0,467.1 172.0,466.1 172.1,466.0 173.0,464.9 174.0,463.6 175.0,464.0 175.9,464.4 176.0,464.4 176.4,464.6 177.0,467.7 177.3,469.3 178.0,468.9 179.0,468.4 180.0,467.9 180.1,467.9 181.0,468.8 182.0,469.8 182.4,470.2 183.0,468.3 184.0,465.2 184.8,462.7 185.0,462.9 186.0,463.7 187.0,464.5 187.1,464.6 188.0,465.8 189.0,467.1 189.9,468.3 190.0,468.0 191.0,464.6 192.0,461.3 192.7,459.0 193.0,459.8 194.0,462.4 195.0,465.0 196.0,460.1 197.0,455.1 198.0,450.2 198.3,448.7 199.0,452.1 200.0,456.9 201.0,461.7 201.1,462.2 202.0,462.2 203.0,462.2 204.0,462.2 205.0,462.2 205.8,462.2 206.0,462.4 207.0,463.2 208.0,464.1 208.6,464.6 209.0,464.6 210.0,464.6 211.0,464.6 211.4,464.6 212.0,462.8 213.0,459.9 213.3,459.0 214.0,458.5 214.2,458.4 215.0,457.8 216.0,457.2 216.1,457.1 217.0,452.9 217.9,448.7 218.0,449.0 219.0,451.9 219.8,454.3 220.0,454.2 221.0,453.8 222.0,453.4 223.0,453.0 224.0,452.6 224.5,452.4 225.0,450.0 226.0,445.2 227.0,440.4 227.8,436.5 228.0,437.2 229.0,440.9 229.6,443.1 230.0,441.1 231.0,436.0 232.0,430.9 233.0,433.1 233.8,434.9 234.0,435.4 235.0,437.6 236.0,439.9 236.6,441.2 237.0,440.0 238.0,437.0 239.0,434.0 239.4,432.8 240.0,431.9 241.0,430.4 241.3,430.0 242.0,423.0 242.3,420.0 243.0,287.5 243.2,249.6 244.0,249.6 244.6,249.6 245.0,318.2 245.6,421.0 246.0,421.3 246.7,421.7 247.0,422.2 248.0,423.8 249.0,425.3 249.3,425.8 250.0,423.9 251.0,421.2 252.0,418.6 252.7,416.7 253.0,415.6 254.0,412.1 255.0,408.5 256.0,405.0 257.0,363.9 257.6,339.2 258.0,341.4 259.0,347.1 260.0,352.7 261.0,358.3 261.8,390.0 262.0,388.0 263.0,378.2 263.5,373.3 264.0,376.3 265.0,382.2 266.0,388.2 266.7,392.3 267.0,394.1 267.7,398.3 268.0,393.8 269.0,378.6 270.0,363.5 271.0,348.3 272.0,355.4 272.5,359.0 273.0,362.6 274.0,369.7 275.0,376.9 275.2,378.3 276.0,376.7 277.0,374.7 278.0,372.6 278.3,372.0 279.0,370.6 279.3,370.0 280.0,374.8 281.0,381.7 282.0,373.6 283.0,365.5 284.0,357.4 284.3,355.0 285.0,356.4 286.0,358.4 286.8,360.0 287.0,358.5 288.0,351.2 289.0,343.9 289.3,341.7 290.0,349.2 291.0,360.0 291.7,354.8 292.0,352.5 293.0,345.0 294.0,337.5 295.0,330.0 296.0,330.5 297.0,331.0 298.0,331.5 298.3,331.7 299.0,334.9 300.0,339.6 300.8,343.3 301.0,340.2 301.7,329.2 302.0,324.5 302.5,316.7 303.0,318.4 304.0,321.7 305.0,325.0 306.0,316.6 306.7,310.8 307.0,312.5 308.0,318.2 309.0,323.9 309.2,325.0 310.0,320.2 311.0,314.1 312.0,308.0 312.5,305.0 313.0,306.0 314.0,308.0 314.7,309.4 315.0,310.0 316.0,306.6 317.0,303.2 318.0,299.9 319.0,296.5 319.2,295.8 320.0,297.0 321.0,298.5 321.7,299.6 322.0,300.0 322.5,300.8 323.0,299.6 324.0,297.3 325.0,295.0 326.0,295.8 327.0,296.5 328.0,297.3 328.3,297.5 328.7,298.7 329.0,299.6 330.0,302.6 330.8,305.0 331.0,304.6 331.7,303.1 332.0,302.4 333.0,300.2 333.3,299.6 334.0,298.1 335.0,295.9 335.8,294.2 336.0,295.1 337.0,299.5 337.5,301.7 338.0,298.4 339.0,291.9 340.0,285.3 341.0,291.2 341.7,295.4 342.0,297.2 342.7,301.3 343.0,300.7 344.0,298.6 345.0,296.6 345.3,296.0 346.0,296.7 347.0,297.7 348.0,298.7 349.0,295.5 350.0,292.4 351.0,289.2 352.0,286.0 353.0,301.9 353.3,306.7 354.0,298.7 355.0,287.3 356.0,275.9 356.7,268.0 357.0,264.6 357.4,260.0 358.0,263.1 359.0,268.2 360.0,274.1 361.0,279.3 361.3,280.8 362.0,286.9 363.0,295.5 363.3,298.1 364.0,297.3 365.0,296.1 366.0,294.9 366.7,294.1 367.0,294.9 368.0,297.6 368.7,299.5 369.0,299.5 370.0,299.5 371.0,299.5 372.0,299.5 372.7,299.5 373.0,296.1 373.3,292.7 374.0,284.8 375.0,299.4 376.0,314.1 376.7,306.6 377.0,303.4 378.0,292.8 379.0,282.2 380.0,271.5 381.0,281.9 382.0,292.2 382.7,299.5 383.0,298.3 384.0,294.2 385.0,290.2 386.0,286.1 386.7,289.2 387.0,290.5 388.0,295.0 388.7,298.1 389.0,298.5 390.0,299.9 391.0,301.2 392.0,302.6 392.7,303.5 393.0,302.7 394.0,300.1 395.0,296.7 396.0,294.1 397.0,291.5 397.3,290.7 398.0,289.5 399.0,287.9 400.0,286.2 401.0,284.5 401.3,284.0 402.0,283.3 403.0,282.3 404.0,281.3 405.0,274.4 406.0,267.5 406.7,262.7 407.0,264.4 408.0,270.0 409.0,275.6 409.3,277.3 410.0,275.6 411.0,273.1 412.0,270.7 413.0,270.2 414.0,269.7 415.0,268.7 415.5,265.3 416.0,263.1 416.7,256.9 417.0,251.8 418.0,235.0 418.7,223.2 419.0,228.0 420.0,244.0 421.0,260.0 421.7,261.4 422.0,262.0 423.0,264.1 423.2,264.5 424.0,262.5 425.0,260.0 426.0,257.5 426.2,257.0 427.0,257.2 428.0,257.4 429.0,257.7 429.2,257.7 430.0,258.5 431.0,259.5 431.5,260.0 432.0,261.0 433.0,263.1 433.7,264.5 434.0,262.5 435.0,256.0 436.0,249.5 436.7,252.8 437.0,254.3 437.5,256.7 438.0,259.0 438.2,260.0 439.0,254.8 439.7,250.2 440.0,251.9 440.5,254.8 441.0,257.7 442.0,263.5 442.7,267.5 443.0,265.8 443.5,263.0 444.0,260.3 445.0,254.7 446.0,258.0 446.5,259.6 447.0,261.2 448.0,264.5 448.3,264.8 449.0,265.5 449.5,266.0 450.0,266.5 451.0,267.5 452.0,271.0 452.5,272.8 453.0,274.5 453.3,275.6 454.0,278.0 455.0,278.0 456.0,278.0 457.0,278.0 458.0,279.5 459.0,281.0 460.0,282.5 461.0,283.2 462.0,283.8 463.0,284.5 464.0,285.2 464.5,285.5 465.0,285.7 466.0,286.0 466.7,286.2 467.0,286.3 467.5,286.5 468.0,286.7 469.0,287.0 470.0,285.8 471.0,290.6 471.7,294.0 472.0,295.4 473.0,300.3 473.3,301.7 474.0,301.6 475.0,301.4 475.8,301.2 476.0,300.9 477.0,299.1 478.0,297.2 478.3,296.7 479.0,297.2 480.0,298.0 480.4,298.3 481.0,297.6 482.0,296.4 482.1,296.2 483.0,301.1 483.3,302.8 484.0,306.6 485.0,312.0 485.4,314.2 486.0,314.1 487.0,313.9 487.5,313.8 488.0,313.5 489.0,313.1 490.0,312.7 490.4,312.5 491.0,314.3 492.0,317.4 493.0,320.5 493.3,321.4 494.0,323.6 494.2,324.2 495.0,324.5 496.0,324.8 496.7,325.0 497.0,325.1 498.0,325.3 499.0,325.4 500.0,325.6 500.8,325.8 501.0,326.2 502.0,328.0 503.0,329.8 503.3,330.4 504.0,329.9 505.0,329.2 506.0,329.3 506.7,329.4 507.0,329.4 508.0,329.6 508.3,329.6 509.0,329.0 510.0,328.2 510.8,327.5 511.0,328.4 512.0,332.8 512.5,335.0 513.0,337.1 513.3,338.3 514.0,338.8 515.0,339.6 516.0,340.3 516.7,340.8 517.0,341.1 518.0,341.8 519.0,342.6 520.0,343.3 521.0,344.8 521.7,345.9 522.0,346.3 523.0,347.8 523.3,348.3 524.0,347.2 525.0,345.7 526.0,344.2 526.7,343.2 527.0,342.7 528.0,341.2 528.3,340.8 529.0,342.0 530.0,343.8 531.0,345.5 531.7,346.7 532.0,346.5 533.0,345.8 534.0,345.1 534.7,344.7 535.0,344.5 536.0,343.8 536.7,343.3 537.0,342.0 538.0,337.7 539.0,333.4 539.3,332.1 540.0,329.0 541.0,324.7 541.7,321.7 542.0,321.3 543.0,320.1 544.0,318.9 545.0,317.7 545.2,317.4 545.8,316.7 546.0,315.5 547.0,309.3 548.0,303.1 549.0,297.0 550.0,290.8 550.4,291.8 551.0,293.3 551.7,295.0 552.0,294.5 553.0,292.8 553.3,292.3 554.0,291.2 555.0,289.5 556.0,287.9 556.7,286.7 557.0,286.1 558.0,284.0 559.0,282.0 559.2,281.6 560.0,279.9 560.8,278.3 561.0,277.7 562.0,274.5 563.0,271.3 563.2,270.7 563.5,269.7 564.0,272.0 565.0,276.5 566.0,281.0 566.2,281.2 567.0,282.0 568.0,283.0 569.0,284.0 570.0,284.2 570.8,284.4 571.0,284.5 572.0,284.7 573.0,286.5 574.0,288.2 575.0,290.0 576.0,289.7 576.6,289.6 577.0,289.5 577.8,289.3 578.0,289.2 579.0,291.2 580.0,293.3 580.1,293.5 580.2,293.7 581.0,294.5 582.0,295.5 582.5,296.0 583.0,296.0 584.0,296.0 584.8,296.0 585.0,296.0 585.5,296.0 586.0,299.0 587.0,305.0 588.0,309.0 588.3,310.2 589.0,313.0 590.0,317.0 590.1,317.4 591.0,320.5 592.0,324.0 593.0,327.5 594.0,336.5 594.5,341.0 595.0,340.5 595.3,340.2 596.0,339.5 597.0,342.8 598.0,346.0 598.8,345.3 599.0,345.1 600.0,344.2 601.0,342.7 602.0,341.2 602.5,340.4 603.0,340.8 604.0,341.5 604.2,341.7 604.6,342.7 605.0,343.7 606.0,346.2 606.7,347.9 607.0,347.9 608.0,347.9 609.0,347.9 609.2,347.9 610.0,346.2 611.0,344.0 611.7,342.5 612.0,342.1 613.0,340.6 614.0,339.1 614.2,338.8 615.0,339.4 616.0,340.1 617.0,340.9 617.5,341.2 618.0,341.4 619.0,341.8 620.0,342.2 620.8,342.5 621.0,342.8 622.0,344.1 623.0,345.4 623.3,345.8 624.0,346.7 625.0,348.1 626.0,349.5 626.7,350.4 627.0,350.4 628.0,350.5 629.0,350.6 630.0,350.7 630.8,350.8 631.0,350.9 631.7,351.2 632.0,351.3 633.0,351.8 633.8,352.1 634.0,351.4 635.0,348.8 636.0,352.6 637.0,356.4 637.5,358.3 638.0,357.8 639.0,356.9 639.2,356.7 640.0,358.6 641.0,360.9 641.7,362.5 642.0,363.3 643.0,366.1 644.0,368.9 645.0,371.7 646.0,376.6 647.0,381.5 648.0,381.0 649.0,380.5 650.0,380.0 651.0,376.7 652.0,373.5 653.0,370.2 653.3,369.2 654.0,369.9 655.0,370.9 656.0,371.8 656.7,372.5 657.0,372.0 658.0,370.1 658.3,369.6 659.0,367.4 660.0,364.2 660.8,361.7 661.0,361.4 662.0,359.8 663.0,358.2 663.3,357.7 664.0,356.6 665.0,355.0 666.0,353.3 667.0,351.6 668.0,349.8 668.3,349.3 669.0,348.1 670.0,346.4 670.8,345.0 671.0,344.8 672.0,344.0 673.0,343.1 673.3,342.9 674.0,342.3 675.0,341.4 676.0,340.6 676.7,340.0 677.0,338.8 678.0,335.0 679.0,331.2 679.3,330.0 680.0,326.8 681.0,322.3 682.0,317.8 683.0,313.3 683.3,311.9 684.0,308.7 685.0,304.2 685.2,303.3 686.0,303.0 686.7,302.8 687.0,302.6 688.0,302.3 688.3,302.2 688.5,302.1 689.0,301.0 690.0,298.9 691.0,296.7 692.0,294.0 692.5,292.7 693.0,291.3 693.3,290.5 693.5,290.0 694.0,295.8 694.3,299.2 695.0,298.1 695.8,296.8 696.0,296.4 696.4,295.8 696.7,299.8 697.0,303.9 697.5,310.6 697.7,313.3 698.0,313.9 699.0,315.9 700.0,317.9 700.2,318.3 701.0,317.8 702.0,317.1 702.7,316.7 703.0,316.1 703.3,315.6 703.8,314.7 704.0,314.3 704.8,312.9 705.0,314.2 706.0,319.2 707.0,319.5 708.0,319.8 708.5,320.0 709.0,319.2 710.0,317.7 711.0,316.2 711.8,315.0 712.0,312.8 713.0,302.1 713.3,298.9 713.5,296.7 714.0,297.1 715.0,297.8 715.2,297.9 715.8,295.3 716.0,294.4 716.6,291.8 717.0,290.0 718.0,285.7 719.0,281.3 719.3,280.0 720.0,275.1 721.0,268.2 721.7,263.3 722.0,262.7 722.5,261.7 723.0,260.7 723.3,260.1 724.0,258.7 724.2,258.3 725.0,257.0 726.0,255.3 726.7,254.2 727.0,255.3 728.0,258.9 729.0,262.6 729.2,263.3 729.4,262.6 730.0,260.3 731.0,256.6 732.0,252.8 733.0,249.1 733.3,247.9 734.0,245.3 734.7,242.7 735.0,241.0 736.0,235.5 737.0,229.9 738.0,224.4 739.0,218.8 740.0,213.3 741.0,208.4 742.0,203.4 742.7,200.0 743.0,199.6 743.3,199.3 744.0,198.4 745.0,197.2 746.0,196.0 746.7,193.7 747.0,192.7 748.0,189.3 749.0,188.9 750.0,188.5 751.0,188.1 751.3,188.0 752.0,185.2 753.0,181.2 753.3,180.0 754.0,170.7 755.0,157.5 756.0,144.3 756.7,135.0 757.0,135.6 758.0,137.6 758.3,138.2 759.0,139.6 759.2,140.0 760.0,146.5 761.0,154.6 762.0,162.7 763.0,170.9 763.3,173.3 764.0,177.1 764.2,178.2 765.0,182.5 765.5,185.2 766.0,202.3 766.7,207.2 767.0,209.3 768.0,216.3 769.0,223.3 769.2,224.7 769.5,226.8 770.0,229.8 771.0,235.8 772.0,241.8 772.5,244.8 773.0,247.8 773.3,249.6 774.0,253.8 775.0,257.2 775.2,257.9 776.0,260.6 776.7,262.9 777.0,264.0 778.0,267.3 779.0,270.7 780.0,274.1 780.5,275.8 781.0,278.1 782.0,282.7 783.0,287.3 783.3,288.7 784.0,291.9 785.0,296.5 785.5,298.8 785.8,300.6 786.0,301.8 786.7,306.1 787.0,307.9 787.5,311.0 788.0,314.0 788.3,315.8 789.0,320.1 789.2,321.3 790.0,324.7 791.0,328.9 791.7,331.9 792.0,333.2 793.0,337.4 793.3,338.7 794.0,341.7 794.5,343.8 795.0,345.5 796.0,349.0 796.7,351.4 797.0,352.5 797.5,354.2 798.0,355.9 798.3,357.0 798.8,358.7 799.0,359.4 799.7,361.8 800.0,369.7 800.5,382.8 801.0,390.8 801.3,395.6 801.5,398.8 802.0,424.2 802.5,425.2 803.0,426.2 803.3,426.8 804.0,427.5 805.0,427.5 806.0,427.5 806.7,427.5 807.0,427.5 807.5,427.5 808.0,427.5 808.3,427.5 808.8,427.5 809.0,427.5 810.0,427.5 811.0,427.5 812.0,427.5 813.0,427.5 813.8,427.5 813.8,484.0" fill="#88b2f8"/>
<polygon points="161.0,484.0 161.0,469.3 162.0,467.9 163.0,466.5 163.7,465.5 164.0,466.1 165.0,468.1 165.6,469.3 166.0,468.4 167.0,466.0 168.0,467.7 168.9,469.3 169.0,469.2 170.0,468.2 171.0,467.1 172.0,466.1 172.1,466.0 173.0,464.9 174.0,463.6 175.0,464.0 175.9,464.4 176.0,464.4 176.4,464.6 177.0,467.7 177.3,469.3 178.0,468.9 179.0,468.4 180.0,467.9 180.1,467.9 181.0,468.8 182.0,469.8 182.4,470.2 183.0,468.3 184.0,465.2 184.8,462.7 185.0,462.9 186.0,463.7 187.0,464.5 187.1,464.6 188.0,465.8 189.0,467.1 189.9,468.3 190.0,468.0 191.0,464.6 192.0,461.3 192.7,459.0 193.0,459.8 194.0,462.4 195.0,465.0 196.0,460.1 197.0,455.1 198.0,450.2 198.3,448.7 199.0,452.1 200.0,456.9 201.0,461.7 201.1,462.2 202.0,462.2 203.0,462.2 204.0,462.2 205.0,462.2 205.8,462.2 206.0,462.4 207.0,463.2 208.0,464.1 208.6,464.6 209.0,464.6 210.0,464.6 211.0,464.6 211.4,464.6 212.0,462.8 213.0,459.9 213.3,459.0 214.0,458.5 214.2,458.4 215.0,457.8 216.0,457.2 216.1,457.1 217.0,452.9 217.9,448.7 218.0,449.0 219.0,451.9 219.8,454.3 220.0,454.2 221.0,453.8 222.0,453.4 223.0,453.0 224.0,452.6 224.5,452.4 225.0,450.0 226.0,445.2 227.0,440.4 227.8,436.5 228.0,437.2 229.0,440.9 229.6,443.1 230.0,441.1 231.0,436.0 232.0,430.9 233.0,433.1 233.8,434.9 234.0,435.4 235.0,437.6 236.0,439.9 236.6,441.2 237.0,440.0 238.0,437.0 239.0,434.0 239.4,432.8 240.0,431.9 241.0,430.4 241.3,430.0 242.0,423.0 242.3,420.0 243.0,287.5 243.2,249.6 244.0,249.6 244.6,249.6 245.0,318.2 245.6,421.0 246.0,421.3 246.7,421.7 247.0,422.2 248.0,423.8 249.0,425.3 249.3,425.8 250.0,423.9 251.0,421.2 252.0,418.6 252.7,416.7 253.0,415.6 254.0,412.1 255.0,408.5 256.0,405.0 257.0,363.9 257.6,339.2 258.0,341.4 259.0,347.1 260.0,352.7 261.0,358.3 261.8,390.0 262.0,388.0 263.0,378.2 263.5,373.3 264.0,376.3 265.0,382.2 266.0,388.2 266.7,392.3 267.0,394.1 267.7,398.3 268.0,393.8 269.0,378.6 270.0,363.5 271.0,348.3 272.0,355.4 272.5,359.0 273.0,362.6 274.0,369.7 275.0,376.9 275.2,378.3 276.0,376.7 277.0,374.7 278.0,372.6 278.3,372.0 279.0,370.6 279.3,370.0 280.0,374.8 281.0,381.7 282.0,373.6 283.0,365.5 284.0,357.4 284.3,355.0 285.0,356.4 286.0,358.4 286.8,360.0 287.0,358.5 288.0,351.2 289.0,343.9 289.3,341.7 290.0,349.2 291.0,360.0 291.7,354.8 292.0,352.5 293.0,345.0 294.0,337.5 295.0,330.0 296.0,330.5 297.0,331.0 298.0,331.5 298.3,331.7 299.0,334.9 300.0,339.6 300.8,343.3 301.0,340.2 301.7,329.2 302.0,324.5 302.5,316.7 303.0,318.4 304.0,321.7 305.0,325.0 306.0,316.6 306.7,310.8 307.0,312.5 308.0,318.2 309.0,323.9 309.2,325.0 310.0,320.2 311.0,314.1 312.0,308.0 312.5,305.0 313.0,306.0 314.0,308.0 314.7,309.4 315.0,310.0 316.0,306.6 317.0,303.2 318.0,299.9 319.0,296.5 319.2,295.8 320.0,297.0 321.0,298.5 321.7,299.6 322.0,300.0 322.5,300.8 323.0,299.6 324.0,297.3 325.0,295.0 326.0,295.8 327.0,296.5 328.0,297.3 328.3,297.5 328.7,298.7 329.0,299.6 330.0,302.6 330.8,305.0 331.0,304.6 331.7,303.1 332.0,302.4 333.0,300.2 333.3,299.6 334.0,298.1 335.0,295.9 335.8,294.2 336.0,295.1 337.0,299.5 337.5,301.7 338.0,298.4 339.0,291.9 340.0,285.3 341.0,291.2 341.7,295.4 342.0,297.2 342.7,301.3 343.0,300.7 344.0,298.6 345.0,296.6 345.3,296.0 346.0,296.7 347.0,297.7 348.0,298.7 349.0,295.5 350.0,292.4 351.0,289.2 352.0,286.0 353.0,301.9 353.3,306.7 354.0,298.7 355.0,287.3 356.0,275.9 356.7,268.0 357.0,264.6 357.4,260.0 358.0,263.1 359.0,268.2 360.0,274.1 361.0,279.3 361.3,280.8 362.0,286.9 363.0,295.5 363.3,298.1 364.0,297.3 365.0,296.1 366.0,294.9 366.7,294.1 367.0,294.9 368.0,297.6 368.7,299.5 369.0,299.5 370.0,299.5 371.0,299.5 372.0,299.5 372.7,299.5 373.0,296.1 373.3,292.7 374.0,284.8 375.0,299.4 376.0,314.1 376.7,306.6 377.0,303.4 378.0,292.8 379.0,282.2 380.0,271.5 381.0,281.9 382.0,292.2 382.7,299.5 383.0,298.3 384.0,294.2 385.0,290.2 386.0,286.1 386.7,289.2 387.0,290.5 388.0,295.0 388.7,298.1 389.0,298.5 390.0,299.9 391.0,301.2 392.0,302.6 392.7,303.5 393.0,302.7 394.0,300.1 395.0,296.7 396.0,294.1 397.0,291.5 397.3,290.7 398.0,289.5 399.0,287.9 400.0,286.2 401.0,284.5 401.3,284.0 402.0,283.3 403.0,282.3 404.0,281.3 405.0,274.4 406.0,267.5 406.7,262.7 407.0,264.4 408.0,270.0 409.0,275.6 409.3,277.3 410.0,275.6 411.0,273.1 412.0,270.7 413.0,270.2 414.0,269.7 415.0,268.7 415.5,265.3 416.0,263.1 416.7,256.9 417.0,251.8 418.0,235.0 418.7,223.2 419.0,228.0 420.0,244.0 421.0,260.0 421.7,261.4 422.0,262.0 423.0,264.1 423.2,264.5 424.0,262.5 425.0,260.0 426.0,257.5 426.2,257.0 427.0,257.2 428.0,257.4 429.0,257.7 429.2,257.7 430.0,258.5 431.0,259.5 431.5,260.0 432.0,261.0 433.0,263.1 433.7,264.5 434.0,262.5 435.0,256.0 436.0,249.5 436.7,252.8 437.0,254.3 437.5,256.7 438.0,259.0 438.2,260.0 439.0,254.8 439.7,250.2 440.0,251.9 440.5,254.8 441.0,257.7 442.0,263.5 442.7,267.5 443.0,265.8 443.5,263.0 444.0,260.3 445.0,254.7 446.0,258.0 446.5,259.6 447.0,261.2 448.0,264.5 448.3,264.8 449.0,265.5 449.5,266.0 450.0,266.5 451.0,267.5 452.0,271.0 452.5,272.8 453.0,274.5 453.3,275.6 454.0,278.0 455.0,278.0 456.0,278.0 457.0,278.0 458.0,279.5 459.0,281.0 460.0,282.5 461.0,283.2 462.0,283.8 463.0,284.5 464.0,285.2 464.5,285.5 465.0,285.7 466.0,286.0 466.7,286.2 467.0,286.3 467.5,286.5 468.0,286.7 469.0,287.0 470.0,285.8 471.0,290.6 471.7,294.0 472.0,295.4 473.0,300.3 473.3,301.7 474.0,301.6 475.0,301.4 475.8,301.2 476.0,300.9 477.0,299.1 478.0,297.2 478.3,296.7 479.0,297.2 480.0,301.3 480.4,301.6 481.0,300.9 482.0,299.7 482.1,299.6 483.0,304.4 483.3,306.1 484.0,309.9 485.0,315.3 485.4,317.5 486.0,317.4 487.0,317.2 487.5,317.1 488.0,320.0 489.0,321.3 490.0,322.7 490.4,323.2 491.0,324.0 492.0,325.3 493.0,327.1 493.3,327.7 494.0,329.2 494.2,329.6 495.0,331.4 496.0,333.5 496.7,335.0 497.0,335.2 498.0,335.7 499.0,336.2 500.0,336.7 500.8,337.1 501.0,337.2 502.0,337.7 503.0,338.2 503.3,338.3 504.0,338.7 505.0,339.2 506.0,339.7 506.7,340.0 507.0,340.2 508.0,340.7 508.3,340.8 509.0,341.2 510.0,341.7 510.8,342.1 511.0,342.2 512.0,342.7 512.5,342.9 513.0,343.2 513.3,343.3 514.0,343.8 515.0,344.5 516.0,345.2 516.7,345.7 517.0,345.9 518.0,346.6 519.0,347.3 520.0,348.0 521.0,348.7 521.7,349.2 522.0,349.5 523.0,350.7 523.3,351.1 524.0,351.9 525.0,353.0 526.0,354.2 526.7,355.0 527.0,355.0 528.0,355.0 528.3,355.0 529.0,355.0 530.0,355.0 531.0,355.0 531.7,355.0 532.0,355.0 533.0,355.0 534.0,353.6 534.7,352.2 535.0,351.6 536.0,349.6 536.7,348.2 537.0,347.6 538.0,345.6 539.0,342.1 539.3,340.8 540.0,337.9 541.0,333.8 541.7,330.9 542.0,329.6 543.0,325.4 544.0,322.2 545.0,321.0 545.2,320.7 545.8,320.0 546.0,318.8 547.0,312.6 548.0,306.4 549.0,300.3 550.0,294.1 550.4,295.1 551.0,296.6 551.7,298.3 552.0,297.8 553.0,296.1 553.3,295.6 554.0,294.5 555.0,292.8 556.0,291.2 556.7,290.0 557.0,289.4 558.0,287.3 559.0,285.3 559.2,284.9 560.0,283.2 560.8,281.6 561.0,281.0 562.0,277.8 563.0,274.6 563.2,274.0 563.5,273.0 564.0,275.3 565.0,279.8 566.0,284.3 566.2,284.5 567.0,285.3 568.0,286.3 569.0,287.3 570.0,287.5 570.8,287.7 571.0,287.8 572.0,288.0 573.0,289.8 574.0,291.5 575.0,293.3 576.0,293.0 576.6,292.9 577.0,292.8 577.8,292.6 578.0,292.5 579.0,294.5 580.0,296.6 580.1,296.8 580.2,297.0 581.0,297.8 582.0,298.8 582.5,299.3 583.0,299.3 584.0,299.3 584.8,299.3 585.0,299.3 585.5,299.3 586.0,302.3 587.0,308.3 588.0,312.3 588.3,313.5 589.0,316.3 590.0,320.3 590.1,320.7 591.0,323.8 592.0,327.3 593.0,330.8 594.0,339.8 594.5,344.3 595.0,343.8 595.3,343.5 596.0,342.8 597.0,346.1 598.0,349.3 598.8,348.6 599.0,348.4 600.0,347.5 601.0,346.0 602.0,344.5 602.5,343.7 603.0,344.1 604.0,344.8 604.2,345.0 604.6,346.0 605.0,347.0 606.0,349.5 606.7,351.2 607.0,351.2 608.0,351.2 609.0,351.2 609.2,351.2 610.0,349.5 611.0,347.3 611.7,345.8 612.0,345.4 613.0,343.9 614.0,342.4 614.2,342.1 615.0,342.7 616.0,343.4 617.0,344.2 617.5,344.6 618.0,344.7 619.0,345.1 620.0,345.5 620.8,345.8 621.0,346.1 622.0,347.4 623.0,348.7 623.3,349.1 624.0,350.0 625.0,351.4 626.0,352.8 626.7,353.7 627.0,353.7 628.0,353.8 629.0,353.9 630.0,354.0 630.8,354.1 631.0,354.2 631.7,354.5 632.0,354.6 633.0,355.1 633.8,355.4 634.0,354.7 635.0,352.1 636.0,355.9 637.0,359.7 637.5,361.6 638.0,361.1 639.0,360.2 639.2,360.0 640.0,361.9 641.0,364.2 641.7,365.8 642.0,366.6 643.0,369.4 644.0,372.2 645.0,375.0 646.0,379.9 647.0,384.8 648.0,384.3 649.0,383.8 650.0,383.3 651.0,380.0 652.0,376.8 653.0,373.5 653.3,372.5 654.0,373.2 655.0,374.2 656.0,375.1 656.7,375.8 657.0,375.3 658.0,373.4 658.3,372.9 659.0,370.7 660.0,367.5 660.8,365.0 661.0,364.7 662.0,363.1 663.0,361.5 663.3,361.0 664.0,359.9 665.0,358.3 666.0,356.6 667.0,354.9 668.0,353.1 668.3,352.6 669.0,351.4 670.0,349.7 670.8,348.3 671.0,348.1 672.0,347.3 673.0,346.4 673.3,346.2 674.0,345.6 675.0,344.7 676.0,343.9 676.7,343.3 677.0,342.1 678.0,338.3 679.0,334.5 679.3,333.3 680.0,330.1 681.0,325.6 682.0,321.1 683.0,316.6 683.3,315.2 684.0,312.0 685.0,307.5 685.2,306.6 686.0,306.3 686.7,306.1 687.0,305.9 688.0,305.6 688.3,305.5 688.5,305.4 689.0,304.3 690.0,302.2 691.0,300.0 692.0,297.3 692.5,296.0 693.0,294.6 693.3,293.8 693.5,293.3 694.0,299.1 694.3,302.5 695.0,301.4 695.8,300.1 696.0,299.7 696.4,299.1 696.7,303.1 697.0,307.2 697.5,313.9 697.7,316.6 698.0,317.2 699.0,319.2 700.0,321.2 700.2,321.6 701.0,321.1 702.0,320.4 702.7,320.0 703.0,319.4 703.3,318.9 703.8,318.0 704.0,317.6 704.8,316.2 705.0,317.5 706.0,322.5 707.0,322.8 708.0,323.1 708.5,323.3 709.0,322.5 710.0,321.0 711.0,319.5 711.8,318.3 712.0,316.1 713.0,305.4 713.3,302.2 713.5,300.0 714.0,300.4 715.0,301.1 715.2,301.2 715.8,298.6 716.0,297.7 716.6,295.1 717.0,293.3 718.0,289.0 719.0,284.6 719.3,283.3 720.0,278.4 721.0,271.5 721.7,266.6 722.0,266.0 722.5,265.0 723.0,264.0 723.3,263.4 724.0,262.0 724.2,261.6 725.0,260.3 726.0,258.6 726.7,257.5 727.0,258.6 728.0,262.2 729.0,265.9 729.2,266.6 729.4,265.9 730.0,263.6 731.0,259.9 732.0,256.1 733.0,252.4 733.3,251.2 734.0,248.6 734.7,246.0 735.0,244.3 736.0,238.8 737.0,233.2 738.0,227.7 739.0,222.1 740.0,216.6 741.0,211.7 742.0,206.7 742.7,203.3 743.0,202.9 743.3,202.6 744.0,201.7 745.0,200.5 746.0,199.3 746.7,197.0 747.0,196.0 748.0,192.6 749.0,192.2 750.0,191.8 751.0,191.4 751.3,191.3 752.0,188.5 753.0,184.5 753.3,183.3 754.0,174.0 755.0,160.8 756.0,147.6 756.7,138.3 757.0,138.9 758.0,140.9 758.3,141.5 759.0,142.9 759.2,143.3 760.0,149.8 761.0,157.9 762.0,166.0 763.0,174.2 763.3,176.6 764.0,180.4 764.2,181.5 765.0,185.8 765.5,188.5 766.0,203.5 766.7,208.4 767.0,210.5 768.0,217.5 769.0,224.5 769.2,225.9 769.5,228.0 770.0,231.0 771.0,237.0 772.0,243.0 772.5,246.0 773.0,249.0 773.3,250.8 774.0,255.0 775.0,258.4 775.2,259.1 776.0,261.8 776.7,264.1 777.0,265.2 778.0,268.5 779.0,271.9 780.0,275.3 780.5,277.0 781.0,279.3 782.0,283.9 783.0,288.5 783.3,289.9 784.0,293.1 785.0,297.7 785.5,300.0 785.8,301.8 786.0,303.0 786.7,307.3 787.0,309.1 787.5,312.2 788.0,315.2 788.3,317.0 789.0,321.3 789.2,322.5 790.0,325.9 791.0,330.1 791.7,333.1 792.0,334.4 793.0,338.6 793.3,339.9 794.0,342.9 794.5,345.0 795.0,346.7 796.0,350.2 796.7,352.6 797.0,353.7 797.5,355.4 798.0,357.1 798.3,358.2 798.8,359.9 799.0,360.6 799.7,363.0 800.0,370.9 800.5,384.0 801.0,392.0 801.3,396.8 801.5,400.0 802.0,424.2 802.5,425.2 803.0,426.2 803.3,426.8 804.0,428.5 805.0,432.1 806.0,433.2 806.7,433.3 807.0,433.3 807.5,433.4 808.0,433.5 808.3,433.6 808.8,433.7 809.0,433.7 810.0,433.9 811.0,434.0 812.0,434.2 813.0,434.4 813.8,434.5 813.8,484.0" fill="#58c4cc"/>
<polygon points="161.0,484.0 161.0,469.3 162.0,467.9 163.0,466.5 163.7,465.5 164.0,466.1 165.0,468.1 165.6,469.3 166.0,468.4 167.0,466.0 168.0,467.7 168.9,469.3 169.0,469.2 170.0,468.2 171.0,467.1 172.0,466.1 172.1,466.0 173.0,464.9 174.0,463.6 175.0,464.0 175.9,464.4 176.0,464.4 176.4,464.6 177.0,467.7 177.3,469.3 178.0,468.9 179.0,468.4 180.0,467.9 180.1,467.9 181.0,468.8 182.0,469.8 182.4,470.2 183.0,468.3 184.0,465.2 184.8,462.7 185.0,462.9 186.0,463.7 187.0,464.5 187.1,464.6 188.0,465.8 189.0,467.1 189.9,468.3 190.0,468.0 191.0,464.6 192.0,461.3 192.7,459.0 193.0,459.8 194.0,462.4 195.0,465.0 196.0,460.1 197.0,455.1 198.0,450.2 198.3,448.7 199.0,452.1 200.0,456.9 201.0,461.7 201.1,462.2 202.0,462.2 203.0,462.2 204.0,462.2 205.0,462.2 205.8,462.2 206.0,462.4 207.0,463.2 208.0,464.1 208.6,464.6 209.0,464.6 210.0,464.6 211.0,464.6 211.4,464.6 212.0,462.8 213.0,459.9 213.3,459.0 214.0,458.5 214.2,458.4 215.0,457.8 216.0,457.2 216.1,457.1 217.0,452.9 217.9,448.7 218.0,449.0 219.0,451.9 219.8,454.3 220.0,454.2 221.0,453.8 222.0,453.4 223.0,453.0 224.0,452.6 224.5,452.4 225.0,450.0 226.0,445.2 227.0,440.4 227.8,436.5 228.0,437.2 229.0,440.9 229.6,443.1 230.0,441.1 231.0,436.0 232.0,430.9 233.0,433.1 233.8,434.9 234.0,435.4 235.0,437.6 236.0,439.9 236.6,441.2 237.0,440.0 238.0,437.0 239.0,434.0 239.4,432.8 240.0,431.9 241.0,430.4 241.3,430.0 242.0,423.0 242.3,420.0 243.0,287.5 243.2,249.6 244.0,249.6 244.6,249.6 245.0,318.2 245.6,421.0 246.0,421.3 246.7,421.7 247.0,422.2 248.0,423.8 249.0,425.3 249.3,425.8 250.0,423.9 251.0,421.2 252.0,418.6 252.7,416.7 253.0,415.6 254.0,412.1 255.0,408.5 256.0,405.0 257.0,363.9 257.6,339.2 258.0,341.4 259.0,347.1 260.0,352.7 261.0,358.3 261.8,390.0 262.0,388.0 263.0,378.2 263.5,373.3 264.0,376.3 265.0,382.2 266.0,388.2 266.7,392.3 267.0,394.1 267.7,398.3 268.0,393.8 269.0,378.6 270.0,363.5 271.0,348.3 272.0,355.4 272.5,359.0 273.0,362.6 274.0,369.7 275.0,376.9 275.2,378.3 276.0,376.7 277.0,374.7 278.0,372.6 278.3,372.0 279.0,370.6 279.3,370.0 280.0,374.8 281.0,381.7 282.0,373.6 283.0,365.5 284.0,357.4 284.3,355.0 285.0,356.4 286.0,358.4 286.8,360.0 287.0,358.5 288.0,351.2 289.0,343.9 289.3,341.7 290.0,349.2 291.0,360.0 291.7,354.8 292.0,352.5 293.0,345.0 294.0,337.5 295.0,330.0 296.0,330.5 297.0,331.0 298.0,331.5 298.3,331.7 299.0,334.9 300.0,339.6 300.8,343.3 301.0,340.2 301.7,329.2 302.0,324.5 302.5,316.7 303.0,318.4 304.0,321.7 305.0,325.0 306.0,316.6 306.7,310.8 307.0,312.5 308.0,318.2 309.0,323.9 309.2,325.0 310.0,320.2 311.0,314.1 312.0,308.0 312.5,305.0 313.0,306.0 314.0,308.0 314.7,309.4 315.0,310.0 316.0,306.6 317.0,303.2 318.0,299.9 319.0,296.5 319.2,295.8 320.0,297.0 321.0,298.5 321.7,299.6 322.0,300.0 322.5,300.8 323.0,299.6 324.0,297.3 325.0,295.0 326.0,295.8 327.0,296.5 328.0,297.3 328.3,297.5 328.7,298.7 329.0,299.6 330.0,302.6 330.8,305.0 331.0,304.6 331.7,303.1 332.0,302.4 333.0,300.2 333.3,299.6 334.0,298.1 335.0,295.9 335.8,294.2 336.0,295.1 337.0,299.5 337.5,301.7 338.0,298.4 339.0,291.9 340.0,285.3 341.0,291.2 341.7,295.4 342.0,297.2 342.7,301.3 343.0,300.7 344.0,298.6 345.0,296.6 345.3,296.0 346.0,296.7 347.0,297.7 348.0,298.7 349.0,295.5 350.0,292.4 351.0,289.2 352.0,286.0 353.0,301.9 353.3,306.7 354.0,298.7 355.0,287.3 356.0,275.9 356.7,268.0 357.0,264.6 357.4,260.0 358.0,263.1 359.0,268.2 360.0,274.1 361.0,279.3 361.3,280.8 362.0,286.9 363.0,295.5 363.3,298.1 364.0,297.3 365.0,296.1 366.0,294.9 366.7,294.1 367.0,294.9 368.0,297.6 368.7,299.5 369.0,299.5 370.0,299.5 371.0,299.5 372.0,299.5 372.7,299.5 373.0,296.1 373.3,292.7 374.0,284.8 375.0,299.4 376.0,314.1 376.7,306.6 377.0,303.4 378.0,292.8 379.0,282.2 380.0,271.5 381.0,281.9 382.0,292.2 382.7,299.5 383.0,298.3 384.0,294.2 385.0,290.2 386.0,286.1 386.7,289.2 387.0,290.5 388.0,295.0 388.7,298.1 389.0,298.5 390.0,299.9 391.0,301.2 392.0,302.6 392.7,303.5 393.0,302.7 394.0,300.1 395.0,297.5 396.0,294.9 397.0,292.3 397.3,291.5 398.0,290.3 399.0,288.7 400.0,287.0 401.0,285.3 401.3,284.8 402.0,284.1 403.0,283.1 404.0,282.1 405.0,275.2 406.0,268.3 406.7,280.6 407.0,280.5 408.0,280.0 409.0,279.5 409.3,279.4 410.0,279.0 411.0,278.5 412.0,278.0 413.0,278.6 414.0,275.4 415.0,268.7 415.5,265.3 416.0,263.1 416.7,262.1 417.0,261.8 418.0,261.4 418.7,258.5 419.0,260.2 420.0,261.5 421.0,262.3 421.7,264.0 422.0,265.7 423.0,271.2 423.2,272.2 424.0,275.0 425.0,275.0 426.0,275.0 426.2,275.0 427.0,275.6 428.0,276.4 429.0,277.2 429.2,277.4 430.0,278.0 431.0,280.5 431.5,280.9 432.0,281.3 433.0,282.5 433.7,280.6 434.0,279.8 435.0,277.3 436.0,276.4 436.7,275.6 437.0,274.8 437.5,273.5 438.0,274.2 438.2,274.5 439.0,275.8 439.7,276.8 440.0,277.2 440.5,278.0 441.0,278.8 442.0,280.3 442.7,281.4 443.0,281.8 443.5,283.2 444.0,283.3 445.0,282.4 446.0,281.0 446.5,279.5 447.0,281.2 448.0,282.4 448.3,282.6 449.0,283.3 449.5,284.7 450.0,286.4 451.0,289.9 452.0,293.4 452.5,294.9 453.0,296.2 453.3,296.9 454.0,298.4 455.0,299.0 456.0,299.6 457.0,300.2 458.0,300.8 459.0,301.4 460.0,302.0 461.0,302.2 462.0,302.4 463.0,302.6 464.0,302.8 464.5,302.9 465.0,303.0 466.0,303.2 466.7,303.3 467.0,303.4 467.5,303.5 468.0,304.1 469.0,305.2 470.0,306.3 471.0,307.4 471.7,308.2 472.0,308.5 473.0,309.7 473.3,310.0 474.0,309.5 475.0,308.9 475.8,308.4 476.0,308.2 477.0,307.6 478.0,306.9 478.3,306.7 479.0,308.6 480.0,311.2 480.4,312.3 481.0,313.9 482.0,316.5 482.1,316.8 483.0,319.2 483.3,320.0 484.0,320.5 485.0,321.3 485.4,321.6 486.0,322.0 487.0,322.8 487.5,323.1 488.0,323.5 489.0,324.3 490.0,325.0 490.4,325.8 491.0,327.0 492.0,329.1 493.0,331.1 493.3,331.7 494.0,332.4 494.2,332.6 495.0,333.4 496.0,334.4 496.7,335.1 497.0,335.4 498.0,336.4 499.0,337.4 500.0,338.4 500.8,339.2 501.0,339.4 502.0,340.4 503.0,341.4 503.3,341.7 504.0,342.4 505.0,343.4 506.0,344.4 506.7,345.0 507.0,345.3 508.0,346.3 508.3,346.6 509.0,347.3 510.0,348.3 510.8,349.5 511.0,349.8 512.0,351.3 512.5,352.0 513.0,352.8 513.3,353.2 514.0,354.3 515.0,355.8 516.0,357.1 516.7,357.7 517.0,358.0 518.0,358.7 519.0,359.1 520.0,359.4 521.0,359.8 521.7,360.0 522.0,360.1 523.0,360.4 523.3,360.5 524.0,360.8 525.0,361.1 526.0,361.5 526.7,361.7 527.0,362.0 528.0,363.2 528.3,363.5 529.0,364.3 530.0,365.5 531.0,366.7 531.7,367.6 532.0,368.0 533.0,369.2 534.0,370.4 534.7,371.3 535.0,370.7 536.0,368.5 536.7,367.0 537.0,366.4 538.0,364.2 539.0,362.0 539.3,361.4 540.0,363.1 541.0,365.6 541.7,367.3 542.0,368.1 543.0,370.6 544.0,373.0 545.0,375.5 545.2,376.0 545.8,375.1 546.0,374.7 547.0,373.2 548.0,371.6 549.0,370.0 550.0,368.4 550.4,367.8 551.0,370.2 551.7,373.0 552.0,374.3 553.0,378.3 553.3,379.5 554.0,380.0 555.0,380.8 556.0,381.5 556.7,382.0 557.0,382.3 558.0,383.0 559.0,382.4 559.2,382.3 560.0,381.9 560.8,381.4 561.0,381.3 562.0,380.8 563.0,380.2 563.2,380.1 563.5,381.3 564.0,383.4 565.0,387.4 566.0,391.5 566.2,392.2 567.0,392.3 568.0,392.3 569.0,392.3 570.0,392.3 570.8,392.3 571.0,392.4 572.0,392.9 573.0,393.4 574.0,393.9 575.0,394.4 576.0,394.9 576.6,395.2 577.0,395.4 577.8,395.8 578.0,395.7 579.0,395.2 580.0,394.7 580.1,394.6 580.2,394.8 581.0,396.8 582.0,399.3 582.5,400.5 583.0,400.2 584.0,399.7 584.8,399.3 585.0,399.2 585.5,399.0 586.0,398.7 587.0,400.5 588.0,402.3 588.3,402.8 589.0,402.1 590.0,401.1 590.1,401.0 591.0,402.3 592.0,403.7 593.0,405.1 594.0,403.3 594.5,402.4 595.0,401.5 595.3,401.0 596.0,402.5 597.0,404.7 598.0,406.9 598.8,408.6 599.0,408.7 600.0,409.1 601.0,409.5 602.0,409.9 602.5,410.1 603.0,410.3 604.0,410.8 604.2,410.8 604.6,411.0 605.0,411.3 606.0,411.9 606.7,412.4 607.0,412.6 608.0,413.2 609.0,413.9 609.2,414.0 610.0,414.5 611.0,414.8 611.7,414.9 612.0,415.0 613.0,415.3 614.0,415.5 614.2,415.6 615.0,415.8 616.0,416.1 617.0,416.4 617.5,416.6 618.0,416.7 619.0,417.0 620.0,417.3 620.8,417.5 621.0,417.6 622.0,417.9 623.0,418.2 623.3,418.3 624.0,418.4 625.0,418.5 626.0,418.7 626.7,418.8 627.0,418.8 628.0,419.0 629.0,419.1 630.0,419.3 630.8,419.4 631.0,419.4 631.7,419.5 632.0,419.6 633.0,419.7 633.8,419.8 634.0,419.9 635.0,420.0 636.0,421.0 637.0,422.0 637.5,422.5 638.0,423.0 639.0,424.0 639.2,424.2 640.0,425.0 641.0,424.8 641.7,424.7 642.0,424.7 643.0,424.5 644.0,424.4 645.0,424.2 646.0,425.9 647.0,427.5 648.0,429.2 649.0,430.8 650.0,432.5 651.0,431.7 652.0,431.0 653.0,430.2 653.3,430.0 654.0,431.2 655.0,432.9 656.0,434.5 656.7,434.5 657.0,434.4 658.0,433.5 658.3,433.0 659.0,431.8 660.0,430.0 660.8,430.2 661.0,430.2 662.0,430.5 663.0,430.7 663.3,430.8 664.0,430.5 665.0,430.1 666.0,429.7 667.0,429.3 668.0,428.9 668.3,428.8 669.0,428.5 670.0,428.1 670.8,427.7 671.0,427.6 672.0,427.2 673.0,426.8 673.3,426.7 674.0,426.7 675.0,426.7 676.0,426.7 676.7,426.7 677.0,426.4 678.0,425.6 679.0,424.8 679.3,424.5 680.0,423.9 681.0,423.1 682.0,422.2 683.0,421.4 683.3,421.0 684.0,419.8 685.0,418.0 685.2,417.6 686.0,416.2 686.7,415.1 687.0,414.6 688.0,413.1 688.3,412.7 688.5,412.3 689.0,410.0 690.0,405.2 691.0,400.4 692.0,395.7 692.5,393.3 693.0,392.3 693.3,391.7 693.5,391.3 694.0,390.3 694.3,389.7 695.0,388.3 695.8,386.7 696.0,388.1 696.4,390.8 696.7,392.8 697.0,394.9 697.5,398.3 697.7,398.2 698.0,398.0 699.0,397.3 700.0,396.6 700.2,396.5 701.0,396.0 702.0,395.3 702.7,394.8 703.0,394.6 703.3,394.4 703.8,394.1 704.0,394.0 704.8,393.4 705.0,393.1 706.0,391.6 707.0,390.0 708.0,388.3 708.5,387.5 709.0,386.7 710.0,385.0 711.0,378.4 711.8,373.2 712.0,371.8 713.0,365.3 713.3,363.3 713.5,364.1 714.0,366.1 715.0,370.1 715.2,370.9 715.8,373.3 716.0,373.1 716.6,372.5 717.0,372.1 718.0,371.1 719.0,370.1 719.3,369.9 720.0,369.2 721.0,368.2 721.7,367.5 722.0,367.2 722.5,366.7 723.0,367.2 723.3,367.5 724.0,368.2 724.2,368.4 725.0,369.1 726.0,370.1 726.7,370.8 727.0,370.6 728.0,370.0 729.0,369.4 729.2,369.2 729.4,369.1 730.0,368.8 731.0,368.1 732.0,367.5 733.0,366.9 733.3,366.7 734.0,366.3 734.7,366.0 735.0,365.8 736.0,365.3 737.0,364.8 738.0,364.3 739.0,363.8 740.0,363.3 741.0,362.3 742.0,361.3 742.7,360.6 743.0,360.3 743.3,360.0 744.0,359.4 745.0,358.4 746.0,357.4 746.7,356.7 747.0,356.7 748.0,356.7 749.0,356.7 750.0,356.7 751.0,355.0 751.3,354.5 752.0,353.3 753.0,351.7 753.3,351.2 754.0,350.0 755.0,348.3 756.0,347.9 756.7,347.7 757.0,347.5 758.0,347.2 758.3,347.0 759.0,346.8 759.2,346.7 760.0,348.7 761.0,351.1 762.0,353.5 763.0,356.0 763.3,356.7 764.0,357.9 764.2,358.2 765.0,359.5 765.5,360.4 766.0,361.2 766.7,362.3 767.0,362.8 768.0,364.5 769.0,366.2 769.2,366.5 769.5,367.0 770.0,367.8 771.0,369.5 772.0,371.1 772.5,372.0 773.0,372.8 773.3,373.3 774.0,374.5 775.0,376.1 775.2,376.5 776.0,377.8 776.7,379.0 777.0,379.5 778.0,381.1 779.0,382.8 780.0,384.5 780.5,385.3 781.0,386.2 782.0,387.8 783.0,389.5 783.3,390.0 784.0,391.4 785.0,393.4 785.5,394.4 785.8,395.0 786.0,395.4 786.7,396.8 787.0,397.4 787.5,398.4 788.0,399.4 788.3,400.0 789.0,401.4 789.2,401.8 790.0,403.4 791.0,405.0 791.7,406.1 792.0,406.7 793.0,408.4 793.3,408.9 794.0,410.1 794.5,411.0 795.0,411.9 796.0,413.8 796.7,415.0 797.0,415.6 797.5,416.3 798.0,417.4 798.3,417.9 798.8,418.7 799.0,419.1 799.7,420.2 800.0,420.7 800.5,421.5 801.0,422.4 801.3,422.9 801.5,423.3 802.0,424.2 802.5,425.2 803.0,426.2 803.3,426.8 804.0,428.5 805.0,432.1 806.0,434.1 806.7,434.3 807.0,434.4 807.5,434.6 808.0,434.7 808.3,434.8 808.8,435.0 809.0,435.1 810.0,435.7 811.0,436.3 812.0,436.9 813.0,437.5 813.8,438.0 813.8,484.0" fill="#ff6d01"/>
<polygon points="161.0,484.0 161.0,469.3 162.0,467.9 163.0,466.5 163.7,465.5 164.0,466.1 165.0,468.1 165.6,469.3 166.0,468.4 167.0,466.0 168.0,467.7 168.9,469.3 169.0,469.2 170.0,468.2 171.0,467.1 172.0,466.1 172.1,466.0 173.0,464.9 174.0,463.6 175.0,464.0 175.9,464.4 176.0,464.4 176.4,464.6 177.0,467.7 177.3,469.3 178.0,468.9 179.0,468.4 180.0,467.9 180.1,467.9 181.0,468.8 182.0,469.8 182.4,470.2 183.0,468.3 184.0,465.2 184.8,462.7 185.0,462.9 186.0,463.7 187.0,464.5 187.1,464.6 188.0,465.8 189.0,467.1 189.9,468.3 190.0,468.0 191.0,464.6 192.0,461.3 192.7,459.0 193.0,459.8 194.0,462.4 195.0,465.0 196.0,460.1 197.0,455.1 198.0,450.2 198.3,448.7 199.0,452.1 200.0,456.9 201.0,461.7 201.1,462.2 202.0,462.2 203.0,462.2 204.0,462.2 205.0,462.2 205.8,462.2 206.0,462.4 207.0,463.2 208.0,464.1 208.6,464.6 209.0,464.6 210.0,464.6 211.0,464.6 211.4,464.6 212.0,462.8 213.0,459.9 213.3,459.0 214.0,458.5 214.2,458.4 215.0,457.8 216.0,457.2 216.1,457.1 217.0,452.9 217.9,448.7 218.0,449.0 219.0,451.9 219.8,454.3 220.0,454.2 221.0,453.8 222.0,453.4 223.0,453.0 224.0,452.6 224.5,452.4 225.0,450.0 226.0,445.2 227.0,440.4 227.8,436.5 228.0,437.2 229.0,440.9 229.6,443.1 230.0,441.1 231.0,436.0 232.0,430.9 233.0,433.1 233.8,434.9 234.0,435.4 235.0,437.6 236.0,439.9 236.6,441.2 237.0,440.0 238.0,437.0 239.0,434.0 239.4,432.8 240.0,431.9 241.0,430.4 241.3,430.0 242.0,423.0 242.3,420.0 243.0,287.5 243.2,249.6 244.0,249.6 244.6,249.6 245.0,318.2 245.6,421.0 246.0,421.3 246.7,421.7 247.0,422.2 248.0,423.8 249.0,425.3 249.3,425.8 250.0,423.9 251.0,421.2 252.0,418.6 252.7,416.7 253.0,415.6 254.0,412.1 255.0,408.5 256.0,405.0 257.0,363.9 257.6,339.2 258.0,341.4 259.0,347.1 260.0,352.7 261.0,358.3 261.8,390.0 262.0,388.0 263.0,378.2 263.5,373.3 264.0,376.3 265.0,382.2 266.0,388.2 266.7,392.3 267.0,394.1 267.7,398.3 268.0,393.8 269.0,378.6 270.0,363.5 271.0,348.3 272.0,355.4 272.5,359.0 273.0,362.6 274.0,369.7 275.0,376.9 275.2,378.3 276.0,376.7 277.0,374.7 278.0,372.6 278.3,372.0 279.0,370.6 279.3,370.0 280.0,374.8 281.0,381.7 282.0,373.6 283.0,365.5 284.0,357.4 284.3,355.0 285.0,356.4 286.0,358.4 286.8,360.0 287.0,358.5 288.0,351.2 289.0,343.9 289.3,341.7 290.0,349.2 291.0,360.0 291.7,354.8 292.0,352.5 293.0,345.0 294.0,337.5 295.0,330.0 296.0,330.5 297.0,331.0 298.0,331.5 298.3,331.7 299.0,334.9 300.0,339.6 300.8,343.3 301.0,340.2 301.7,329.2 302.0,324.5 302.5,316.7 303.0,318.4 304.0,321.7 305.0,325.0 306.0,316.6 306.7,310.8 307.0,312.5 308.0,318.2 309.0,323.9 309.2,325.0 310.0,320.2 311.0,314.1 312.0,308.0 312.5,305.0 313.0,306.0 314.0,308.0 314.7,309.4 315.0,310.0 316.0,306.6 317.0,303.2 318.0,299.9 319.0,296.5 319.2,295.8 320.0,297.0 321.0,298.5 321.7,299.6 322.0,300.0 322.5,300.8 323.0,299.6 324.0,297.3 325.0,295.0 326.0,295.8 327.0,296.5 328.0,297.3 328.3,297.5 328.7,298.7 329.0,299.6 330.0,302.6 330.8,305.0 331.0,304.6 331.7,303.1 332.0,302.4 333.0,300.2 333.3,299.6 334.0,298.1 335.0,295.9 335.8,294.2 336.0,295.1 337.0,299.5 337.5,301.7 338.0,298.4 339.0,291.9 340.0,285.3 341.0,291.2 341.7,295.4 342.0,297.2 342.7,301.3 343.0,300.7 344.0,298.6 345.0,296.6 345.3,296.0 346.0,296.7 347.0,297.7 348.0,298.7 349.0,295.5 350.0,292.4 351.0,289.2 352.0,286.0 353.0,301.9 353.3,306.7 354.0,298.7 355.0,287.3 356.0,275.9 356.7,268.0 357.0,264.6 357.4,260.0 358.0,263.1 359.0,268.2 360.0,294.7 361.0,298.9 361.3,299.1 362.0,299.7 363.0,300.0 363.3,300.1 364.0,300.0 365.0,299.7 366.0,299.9 366.7,300.9 367.0,301.1 368.0,301.6 368.7,301.7 369.0,301.7 370.0,301.7 371.0,301.7 372.0,301.7 372.7,308.9 373.0,313.3 373.3,314.6 374.0,315.5 375.0,316.1 376.0,316.3 376.7,316.2 377.0,316.1 378.0,315.5 379.0,313.3 380.0,302.6 381.0,300.9 382.0,301.4 382.7,301.5 383.0,301.5 384.0,301.2 385.0,300.5 386.0,298.6 386.7,299.6 387.0,300.0 388.0,301.4 388.7,302.3 389.0,302.7 390.0,304.1 391.0,305.0 392.0,305.5 392.7,305.6 393.0,305.6 394.0,305.3 395.0,304.6 396.0,302.5 397.0,299.9 397.3,299.1 398.0,297.2 399.0,294.6 400.0,292.0 401.0,290.3 401.3,289.8 402.0,288.7 403.0,287.0 404.0,285.5 405.0,284.5 406.0,283.5 406.7,286.1 407.0,286.0 408.0,285.5 409.0,285.0 409.3,284.9 410.0,284.5 411.0,284.0 412.0,283.5 413.0,284.1 414.0,284.6 415.0,285.2 415.5,285.5 416.0,282.1 416.7,277.4 417.0,275.4 418.0,268.7 418.7,264.0 419.0,265.7 420.0,271.2 421.0,276.7 421.7,280.5 422.0,280.5 423.0,280.5 423.2,280.5 424.0,280.5 425.0,280.5 426.0,280.5 426.2,280.5 427.0,281.1 428.0,281.9 429.0,282.7 429.2,282.9 430.0,283.5 431.0,286.0 431.5,287.2 432.0,288.5 433.0,291.0 433.7,289.1 434.0,288.3 435.0,285.7 436.0,283.0 436.7,281.1 437.0,280.3 437.5,279.0 438.0,279.8 438.2,280.0 439.0,281.2 439.7,282.3 440.0,282.8 440.5,283.5 441.0,285.2 442.0,288.8 442.7,291.2 443.0,292.2 443.5,294.0 444.0,292.5 445.0,289.5 446.0,286.5 446.5,285.0 447.0,286.8 448.0,290.2 448.3,291.3 449.0,293.8 449.5,295.5 450.0,296.8 451.0,299.2 452.0,301.8 452.5,303.0 453.0,303.3 453.3,302.2 454.0,302.6 455.0,303.2 456.0,303.8 457.0,304.4 458.0,305.0 459.0,305.5 460.0,305.7 461.0,305.9 462.0,306.1 463.0,306.3 464.0,306.5 464.5,306.6 465.0,306.7 466.0,307.2 466.7,308.0 467.0,308.3 467.5,308.9 468.0,309.5 469.0,310.6 470.0,311.7 471.0,312.8 471.7,313.2 472.0,313.3 473.0,313.5 473.3,313.5 474.0,313.5 475.0,313.1 475.8,312.7 476.0,312.5 477.0,313.4 478.0,316.1 478.3,316.9 479.0,318.8 480.0,321.4 480.4,322.1 481.0,322.7 482.0,323.5 482.1,323.6 483.0,324.3 483.3,324.5 484.0,325.0 485.0,325.8 485.4,326.1 486.0,326.5 487.0,327.3 487.5,328.1 488.0,329.1 489.0,331.1 490.0,333.1 490.4,333.8 491.0,334.5 492.0,335.5 493.0,336.5 493.3,336.8 494.0,337.5 494.2,337.7 495.0,338.5 496.0,339.5 496.7,340.2 497.0,340.5 498.0,341.5 499.0,342.5 500.0,343.5 500.8,344.3 501.0,344.5 502.0,345.5 503.0,346.5 503.3,346.8 504.0,347.4 505.0,348.4 506.0,349.4 506.7,350.1 507.0,350.4 508.0,351.8 508.3,352.2 509.0,353.3 510.0,354.8 510.8,356.0 511.0,356.3 512.0,357.3 512.5,357.8 513.0,358.3 513.3,358.6 514.0,359.3 515.0,360.3 516.0,361.3 516.7,362.0 517.0,362.2 518.0,362.5 519.0,362.9 520.0,363.2 521.0,363.6 521.7,363.8 522.0,363.9 523.0,364.2 523.3,364.3 524.0,364.6 525.0,365.2 526.0,366.4 526.7,367.2 527.0,367.5 528.0,368.7 528.3,369.1 529.0,370.0 530.0,371.2 531.0,372.5 531.7,373.3 532.0,373.6 533.0,374.3 534.0,374.7 534.7,374.8 535.0,374.8 536.0,374.6 536.7,374.2 537.0,374.0 538.0,372.7 539.0,370.6 539.3,371.0 540.0,372.7 541.0,375.2 541.7,376.9 542.0,377.5 543.0,378.7 544.0,379.3 545.0,379.5 545.2,379.5 545.8,379.5 546.0,379.4 547.0,379.1 548.0,378.2 549.0,377.1 550.0,380.8 550.4,381.5 551.0,382.2 551.7,382.8 552.0,383.0 553.0,383.8 553.3,384.0 554.0,384.5 555.0,385.3 556.0,386.0 556.7,386.4 557.0,386.5 558.0,386.6 559.0,386.5 559.2,386.4 560.0,386.0 560.8,385.7 561.0,386.2 562.0,390.3 563.0,393.4 563.2,393.6 563.5,393.9 564.0,394.3 565.0,395.1 566.0,395.8 566.2,395.9 567.0,395.9 568.0,395.9 569.0,395.9 570.0,395.9 570.8,396.3 571.0,396.4 572.0,396.9 573.0,397.4 574.0,397.9 575.0,398.4 576.0,398.9 576.6,399.2 577.0,399.3 577.8,399.4 578.0,399.4 579.0,401.4 580.0,403.1 580.1,403.2 580.2,403.3 581.0,403.8 582.0,404.1 582.5,404.1 583.0,404.1 584.0,403.8 584.8,403.9 585.0,404.3 585.5,405.0 586.0,405.5 587.0,406.1 588.0,406.3 588.3,406.3 589.0,406.2 590.0,407.1 590.1,407.2 591.0,408.1 592.0,408.6 593.0,408.7 594.0,408.6 594.5,408.4 595.0,409.0 595.3,409.6 596.0,410.8 597.0,411.7 598.0,412.2 598.8,412.5 599.0,412.6 600.0,413.0 601.0,413.4 602.0,413.8 602.5,414.0 603.0,414.3 604.0,414.9 604.2,415.0 604.6,415.3 605.0,415.5 606.0,416.2 606.7,416.7 607.0,416.8 608.0,417.5 609.0,418.0 609.2,418.0 610.0,418.2 611.0,418.5 611.7,418.7 612.0,418.7 613.0,419.0 614.0,419.3 614.2,419.3 615.0,419.6 616.0,419.9 617.0,420.2 617.5,420.3 618.0,420.5 619.0,420.8 620.0,421.1 620.8,421.3 621.0,421.4 622.0,421.7 623.0,421.9 623.3,421.9 624.0,422.0 625.0,422.2 626.0,422.3 626.7,422.4 627.0,422.5 628.0,422.6 629.0,422.8 630.0,422.9 630.8,423.0 631.0,423.1 631.7,423.2 632.0,423.2 633.0,423.3 633.8,423.8 634.0,424.1 635.0,425.1 636.0,426.1 637.0,427.1 637.5,427.6 638.0,428.0 639.0,428.5 639.2,428.5 640.0,428.6 641.0,428.5 641.7,428.4 642.0,428.3 643.0,428.2 644.0,429.5 645.0,431.2 646.0,432.8 647.0,434.5 648.0,435.1 649.0,435.6 650.0,436.1 651.0,436.0 652.0,435.5 653.0,436.6 653.3,437.1 654.0,437.5 655.0,437.6 656.0,437.6 656.7,437.5 657.0,437.5 658.0,437.3 658.3,437.2 659.0,437.1 660.0,436.8 660.8,435.9 661.0,435.5 662.0,434.2 663.0,434.4 663.3,434.4 664.0,434.3 665.0,434.0 666.0,433.6 667.0,433.2 668.0,432.8 668.3,432.6 669.0,432.4 670.0,431.9 670.8,431.6 671.0,431.5 672.0,431.1 673.0,430.7 673.3,430.6 674.0,430.3 675.0,430.3 676.0,430.3 676.7,430.3 677.0,430.3 678.0,430.0 679.0,429.5 679.3,429.2 680.0,428.6 681.0,427.8 682.0,426.9 683.0,426.1 683.3,425.9 684.0,425.3 685.0,424.0 685.2,423.7 686.0,422.3 686.7,421.1 687.0,420.5 688.0,418.8 688.3,418.2 688.5,417.9 689.0,417.0 690.0,415.4 691.0,414.0 692.0,412.8 692.5,410.8 693.0,408.4 693.3,407.0 693.5,406.8 694.0,407.0 694.3,407.2 695.0,407.5 695.8,407.9 696.0,408.0 696.4,408.2 696.7,408.1 697.0,407.9 697.5,407.3 697.7,407.0 698.0,406.7 699.0,405.4 700.0,404.1 700.2,403.9 701.0,402.9 702.0,401.6 702.7,400.8 703.0,400.4 703.3,400.0 703.8,399.3 704.0,399.1 704.8,398.1 705.0,397.7 706.0,397.0 707.0,395.4 708.0,394.0 708.5,393.3 709.0,392.7 710.0,391.5 711.0,390.3 711.8,389.0 712.0,388.6 713.0,387.1 713.3,386.7 713.5,386.6 714.0,386.5 715.0,386.1 715.2,386.1 715.8,385.9 716.0,385.8 716.6,385.6 717.0,385.4 718.0,385.1 719.0,384.8 719.3,384.7 720.0,384.4 721.0,384.1 721.7,383.8 722.0,383.7 722.5,383.6 723.0,383.4 723.3,383.3 724.0,383.6 724.2,383.5 725.0,383.1 726.0,382.6 726.7,382.2 727.0,382.1 728.0,381.5 729.0,381.0 729.2,380.9 729.4,380.8 730.0,380.5 731.0,380.1 732.0,379.6 733.0,379.2 733.3,379.1 734.0,378.9 734.7,378.6 735.0,378.5 736.0,378.2 737.0,377.9 738.0,377.6 739.0,377.3 740.0,377.0 741.0,376.7 742.0,376.3 742.7,375.9 743.0,375.8 743.3,375.6 744.0,375.2 745.0,374.5 746.0,373.7 746.7,373.2 747.0,373.0 748.0,372.2 749.0,371.5 750.0,370.8 751.0,370.2 751.3,370.0 752.0,369.7 753.0,368.6 753.3,368.3 754.0,367.6 755.0,366.6 756.0,365.6 756.7,364.9 757.0,364.6 758.0,363.6 758.3,363.3 759.0,364.5 759.2,364.8 760.0,366.2 761.0,367.8 762.0,369.3 763.0,370.4 763.3,370.8 764.0,371.6 764.2,371.9 765.0,373.1 765.5,373.9 766.0,374.7 766.7,375.5 767.0,375.8 768.0,377.0 769.0,378.1 769.2,378.3 769.5,378.6 770.0,379.2 771.0,380.3 772.0,381.4 772.5,382.0 773.0,382.6 773.3,382.9 774.0,383.7 775.0,384.8 775.2,385.0 776.0,385.9 776.7,386.7 777.0,387.2 778.0,389.0 779.0,390.7 780.0,392.5 780.5,393.4 781.0,394.2 782.0,396.0 783.0,397.7 783.3,398.3 784.0,399.5 785.0,401.1 785.5,401.9 785.8,402.4 786.0,402.7 786.7,403.8 787.0,404.2 787.5,405.0 788.0,405.8 788.3,406.3 789.0,407.5 789.2,407.8 790.0,409.2 791.0,410.9 791.7,412.2 792.0,412.7 793.0,414.5 793.3,415.0 794.0,416.3 794.5,417.2 795.0,418.1 796.0,419.9 796.7,421.0 797.0,421.5 797.5,422.3 798.0,423.2 798.3,423.7 798.8,424.5 799.0,424.9 799.7,426.2 800.0,426.9 800.5,427.9 801.0,429.0 801.3,429.9 801.5,430.5 802.0,432.3 802.5,434.3 803.0,436.3 803.3,437.6 804.0,440.0 805.0,441.7 806.0,442.5 806.7,443.0 807.0,443.2 807.5,443.5 808.0,443.8 808.3,444.0 808.8,444.3 809.0,444.4 810.0,445.1 811.0,445.7 812.0,446.3 813.0,446.9 813.8,447.3 813.8,484.0" fill="#48b164"/>
<polygon points="161.0,484.0 161.0,475.8 162.0,475.8 163.0,475.7 163.7,475.7 164.0,475.7 165.0,475.6 165.6,475.6 166.0,475.6 167.0,475.6 168.0,475.5 168.9,475.5 169.0,475.5 170.0,475.4 171.0,475.4 172.0,475.4 172.1,475.4 173.0,475.3 174.0,475.3 175.0,475.2 175.9,475.2 176.0,475.2 176.4,475.1 177.0,475.1 177.3,475.0 178.0,474.9 179.0,474.8 180.0,474.7 180.1,474.7 181.0,474.6 182.0,474.5 182.4,474.5 183.0,474.4 184.0,474.3 184.8,474.2 185.0,474.2 186.0,474.1 187.0,474.0 187.1,474.0 188.0,473.9 189.0,473.8 189.9,473.7 190.0,473.7 191.0,473.6 192.0,473.4 192.7,473.3 193.0,473.2 194.0,472.9 195.0,472.7 196.0,472.5 197.0,472.3 198.0,472.0 198.3,471.9 199.0,471.8 200.0,471.6 201.0,471.3 201.1,471.3 202.0,471.1 203.0,470.9 204.0,470.6 205.0,470.4 205.8,470.2 206.0,470.2 207.0,469.9 208.0,469.7 208.6,469.6 209.0,469.5 210.0,469.2 211.0,469.0 211.4,468.9 212.0,468.8 213.0,468.3 213.3,468.1 214.0,467.7 214.2,467.6 215.0,467.2 216.0,466.6 216.1,466.6 217.0,466.1 217.9,465.6 218.0,465.5 219.0,465.0 219.8,464.5 220.0,464.4 221.0,463.9 222.0,463.3 223.0,462.8 224.0,462.2 224.5,461.9 225.0,461.7 226.0,461.1 227.0,460.6 227.8,460.1 228.0,460.0 229.0,459.5 229.6,459.1 230.0,458.9 231.0,457.8 232.0,456.7 233.0,455.5 233.8,454.5 234.0,454.3 235.0,453.1 236.0,451.9 236.6,451.2 237.0,450.7 238.0,449.5 239.0,448.4 239.4,447.9 240.0,447.2 241.0,446.0 241.3,445.6 242.0,444.8 242.3,444.4 243.0,443.6 243.2,443.4 244.0,442.4 244.6,441.7 245.0,441.2 245.6,440.5 246.0,440.1 246.7,439.4 247.0,439.0 248.0,438.0 249.0,437.0 249.3,436.7 250.0,435.9 251.0,434.9 252.0,433.9 252.7,433.1 253.0,432.8 254.0,431.8 255.0,430.8 256.0,429.7 257.0,428.7 257.6,428.1 258.0,427.7 259.0,426.6 260.0,425.6 261.0,424.5 261.8,423.7 262.0,423.5 263.0,422.2 263.5,421.5 264.0,420.8 265.0,419.3 266.0,417.9 266.7,416.9 267.0,416.5 267.7,415.5 268.0,415.0 269.0,413.6 270.0,412.1 271.0,410.7 272.0,409.3 272.5,408.5 273.0,407.8 274.0,406.2 275.0,404.3 275.2,404.0 276.0,402.5 277.0,400.6 278.0,398.7 278.3,398.2 279.0,396.9 279.3,396.3 280.0,395.0 281.0,393.1 282.0,391.3 283.0,389.4 284.0,387.5 284.3,387.0 285.0,385.7 286.0,383.8 286.8,382.3 287.0,381.9 288.0,380.1 289.0,378.2 289.3,377.6 290.0,376.3 291.0,374.4 291.7,373.1 292.0,372.5 293.0,370.7 294.0,368.7 295.0,366.6 296.0,364.7 297.0,362.8 298.0,361.0 298.3,360.4 299.0,359.2 300.0,357.5 300.8,356.1 301.0,355.8 301.7,354.7 302.0,354.2 302.5,353.4 303.0,352.6 304.0,351.1 305.0,349.6 306.0,348.1 306.7,346.3 307.0,345.4 308.0,342.7 309.0,340.3 309.2,339.9 310.0,338.3 311.0,336.6 312.0,334.9 312.5,334.1 313.0,333.3 314.0,331.8 314.7,330.8 315.0,330.3 316.0,329.0 317.0,327.8 318.0,326.7 319.0,325.8 319.2,325.6 320.0,325.0 321.0,324.3 321.7,323.8 322.0,323.6 322.5,323.3 323.0,322.9 324.0,322.3 325.0,321.7 326.0,321.2 327.0,320.7 328.0,320.2 328.3,320.1 328.7,320.0 329.0,319.9 330.0,319.6 330.8,319.4 331.0,319.3 331.7,319.2 332.0,319.2 333.0,319.0 333.3,319.0 334.0,318.9 335.0,318.7 335.8,318.7 336.0,318.6 337.0,318.5 337.5,318.5 338.0,318.4 339.0,318.4 340.0,318.3 341.0,318.3 341.7,318.3 342.0,318.3 342.7,318.4 343.0,318.4 344.0,318.6 345.0,318.9 345.3,319.0 346.0,319.3 347.0,319.8 348.0,320.3 349.0,320.9 350.0,321.4 351.0,322.0 352.0,322.6 353.0,323.2 353.3,323.4 354.0,323.8 355.0,324.3 356.0,324.7 356.7,325.0 357.0,325.1 357.4,325.3 358.0,325.5 359.0,325.9 360.0,326.3 361.0,326.7 361.3,326.8 362.0,327.1 363.0,327.5 363.3,327.6 364.0,327.9 365.0,328.2 366.0,328.6 366.7,328.8 367.0,328.9 368.0,329.2 368.7,329.4 369.0,329.5 370.0,329.7 371.0,329.8 372.0,329.9 372.7,330.0 373.0,330.0 373.3,330.0 374.0,330.0 375.0,330.0 376.0,329.9 376.7,329.9 377.0,329.8 378.0,329.8 379.0,329.7 380.0,329.5 381.0,329.4 382.0,329.2 382.7,329.1 383.0,329.1 384.0,328.9 385.0,328.7 386.0,328.5 386.7,328.3 387.0,328.2 388.0,327.8 388.7,327.4 389.0,327.2 390.0,326.4 391.0,325.5 392.0,324.5 392.7,323.7 393.0,323.4 394.0,322.3 395.0,321.1 396.0,319.9 397.0,318.8 397.3,318.5 398.0,317.8 399.0,316.8 400.0,316.0 401.0,315.2 401.3,315.0 402.0,314.4 403.0,313.6 404.0,312.8 405.0,312.0 406.0,311.2 406.7,310.6 407.0,310.4 408.0,309.6 409.0,308.9 409.3,308.7 410.0,308.2 411.0,307.6 412.0,307.1 413.0,306.6 414.0,306.2 415.0,306.0 415.5,305.9 416.0,305.8 416.7,305.8 417.0,305.8 418.0,305.8 418.7,305.8 419.0,305.8 420.0,305.9 421.0,305.9 421.7,305.9 422.0,305.9 423.0,306.0 423.2,306.0 424.0,306.1 425.0,306.1 426.0,306.2 426.2,306.2 427.0,306.3 428.0,306.4 429.0,306.5 429.2,306.5 430.0,306.6 431.0,306.7 431.5,306.8 432.0,306.9 433.0,307.0 433.7,307.1 434.0,307.1 435.0,307.3 436.0,307.4 436.7,307.5 437.0,307.5 437.5,307.6 438.0,307.8 438.2,307.8 439.0,308.1 439.7,308.3 440.0,308.4 440.5,308.6 441.0,308.8 442.0,309.3 442.7,309.6 443.0,309.8 443.5,310.0 444.0,310.3 445.0,310.8 446.0,311.3 446.5,311.6 447.0,311.9 448.0,312.4 448.3,312.5 449.0,312.9 449.5,313.1 450.0,313.3 451.0,313.7 452.0,314.1 452.5,314.3 453.0,314.5 453.3,314.6 454.0,314.9 455.0,315.3 456.0,315.6 457.0,316.0 458.0,316.4 459.0,316.7 460.0,317.1 461.0,317.5 462.0,317.9 463.0,318.3 464.0,318.7 464.5,318.9 465.0,319.2 466.0,319.6 466.7,320.0 467.0,320.1 467.5,320.3 468.0,320.6 469.0,321.1 470.0,321.7 471.0,322.3 471.7,322.8 472.0,323.0 473.0,323.7 473.3,324.0 474.0,324.5 475.0,325.4 475.8,326.0 476.0,326.1 477.0,326.7 478.0,327.4 478.3,327.6 479.0,328.1 480.0,328.8 480.4,329.1 481.0,329.5 482.0,330.3 482.1,330.3 483.0,331.0 483.3,331.3 484.0,331.8 485.0,332.7 485.4,333.1 486.0,333.6 487.0,334.6 487.5,335.1 488.0,335.6 489.0,336.7 490.0,337.8 490.4,338.3 491.0,339.0 492.0,340.1 493.0,341.3 493.3,341.6 494.0,342.4 494.2,342.7 495.0,343.6 496.0,344.7 496.7,345.4 497.0,345.8 498.0,346.8 499.0,347.8 500.0,348.8 500.8,349.6 501.0,349.8 502.0,350.8 503.0,351.8 503.3,352.1 504.0,352.8 505.0,353.8 506.0,354.7 506.7,355.4 507.0,355.7 508.0,356.7 508.3,357.0 509.0,357.7 510.0,358.7 510.8,359.5 511.0,359.7 512.0,360.7 512.5,361.2 513.0,361.7 513.3,362.0 514.0,362.7 515.0,363.7 516.0,364.7 516.7,365.4 517.0,365.7 518.0,366.7 519.0,367.7 520.0,368.7 521.0,369.7 521.7,370.4 522.0,370.7 523.0,371.7 523.3,372.0 524.0,372.6 525.0,373.4 526.0,374.1 526.7,374.6 527.0,374.8 528.0,375.4 528.3,375.6 529.0,376.0 530.0,376.6 531.0,377.1 531.7,377.5 532.0,377.6 533.0,378.1 534.0,378.5 534.7,378.8 535.0,378.9 536.0,379.3 536.7,379.6 537.0,379.7 538.0,380.1 539.0,380.5 539.3,380.7 540.0,381.0 541.0,381.5 541.7,381.8 542.0,382.0 543.0,382.5 544.0,383.0 545.0,383.6 545.2,383.7 545.8,384.0 546.0,384.2 547.0,384.7 548.0,385.4 549.0,386.0 550.0,386.6 550.4,386.9 551.0,387.3 551.7,387.7 552.0,387.9 553.0,388.6 553.3,388.8 554.0,389.3 555.0,390.0 556.0,390.8 556.7,391.3 557.0,391.6 558.0,392.4 559.0,393.2 559.2,393.4 560.0,394.1 560.8,394.7 561.0,394.9 562.0,395.7 563.0,396.5 563.2,396.7 563.5,396.9 564.0,397.3 565.0,398.1 566.0,398.8 566.2,399.0 567.0,399.6 568.0,400.3 569.0,401.0 570.0,401.7 570.8,402.2 571.0,402.3 572.0,403.0 573.0,403.7 574.0,404.4 575.0,405.1 576.0,405.9 576.6,406.3 577.0,406.6 577.8,407.2 578.0,407.4 579.0,408.3 580.0,409.2 580.1,409.3 580.2,409.4 581.0,410.1 582.0,411.0 582.5,411.5 583.0,411.9 584.0,412.8 584.8,413.4 585.0,413.6 585.5,413.9 586.0,414.3 587.0,414.9 588.0,415.5 588.3,415.6 589.0,415.9 590.0,416.3 590.1,416.3 591.0,416.6 592.0,417.0 593.0,417.3 594.0,417.6 594.5,417.7 595.0,417.8 595.3,417.9 596.0,418.1 597.0,418.3 598.0,418.6 598.8,418.8 599.0,418.8 600.0,419.1 601.0,419.4 602.0,419.6 602.5,419.7 603.0,419.9 604.0,420.1 604.2,420.1 604.6,420.2 605.0,420.3 606.0,420.5 606.7,420.7 607.0,420.8 608.0,421.0 609.0,421.3 609.2,421.3 610.0,421.5 611.0,421.7 611.7,421.9 612.0,422.0 613.0,422.2 614.0,422.5 614.2,422.5 615.0,422.7 616.0,422.9 617.0,423.2 617.5,423.3 618.0,423.4 619.0,423.7 620.0,424.0 620.8,424.2 621.0,424.3 622.0,424.6 623.0,424.9 623.3,425.0 624.0,425.2 625.0,425.6 626.0,426.1 626.7,426.4 627.0,426.5 628.0,427.0 629.0,427.5 630.0,428.0 630.8,428.4 631.0,428.5 631.7,428.9 632.0,429.1 633.0,429.6 633.8,430.0 634.0,430.2 635.0,430.7 636.0,431.3 637.0,431.8 637.5,432.1 638.0,432.3 639.0,432.8 639.2,432.9 640.0,433.3 641.0,433.8 641.7,434.2 642.0,434.3 643.0,434.9 644.0,435.5 645.0,436.1 646.0,436.7 647.0,437.3 648.0,437.8 649.0,438.3 650.0,438.8 651.0,439.2 652.0,439.5 653.0,439.8 653.3,439.8 654.0,439.9 655.0,440.0 656.0,440.0 656.7,439.9 657.0,439.9 658.0,439.7 658.3,439.7 659.0,439.6 660.0,439.3 660.8,439.1 661.0,439.1 662.0,438.8 663.0,438.5 663.3,438.4 664.0,438.1 665.0,437.8 666.0,437.5 667.0,437.1 668.0,436.8 668.3,436.7 669.0,436.5 670.0,436.2 670.8,435.9 671.0,435.8 672.0,435.5 673.0,435.2 673.3,435.1 674.0,434.8 675.0,434.4 676.0,434.0 676.7,433.7 677.0,433.6 678.0,433.1 679.0,432.6 679.3,432.5 680.0,432.1 681.0,431.5 682.0,430.9 683.0,430.2 683.3,430.0 684.0,429.4 685.0,428.3 685.2,428.0 686.0,426.9 686.7,425.8 687.0,425.3 688.0,423.6 688.3,423.1 688.5,422.8 689.0,421.9 690.0,420.1 691.0,418.4 692.0,416.8 692.5,416.0 693.0,415.4 693.3,415.0 693.5,414.8 694.0,414.2 694.3,413.9 695.0,413.1 695.8,412.3 696.0,412.1 696.4,411.7 696.7,411.4 697.0,411.1 697.5,410.7 697.7,410.5 698.0,410.2 699.0,409.3 700.0,408.4 700.2,408.2 701.0,407.4 702.0,406.4 702.7,405.7 703.0,405.3 703.3,405.0 703.8,404.4 704.0,404.2 704.8,403.2 705.0,402.8 706.0,401.4 707.0,399.8 708.0,398.3 708.5,397.5 709.0,396.8 710.0,395.3 711.0,394.0 711.8,393.1 712.0,392.9 713.0,391.9 713.3,391.7 713.5,391.6 714.0,391.2 715.0,390.6 715.2,390.5 715.8,390.1 716.0,390.0 716.6,389.7 717.0,389.5 718.0,389.1 719.0,388.6 719.3,388.5 720.0,388.2 721.0,387.8 721.7,387.5 722.0,387.3 722.5,387.1 723.0,386.8 723.3,386.7 724.0,386.3 724.2,386.2 725.0,385.8 726.0,385.3 726.7,384.9 727.0,384.8 728.0,384.2 729.0,383.7 729.2,383.6 729.4,383.5 730.0,383.2 731.0,382.7 732.0,382.3 733.0,381.8 733.3,381.7 734.0,381.4 734.7,381.2 735.0,381.1 736.0,380.7 737.0,380.4 738.0,380.1 739.0,379.8 740.0,379.5 741.0,379.2 742.0,378.8 742.7,378.6 743.0,378.4 743.3,378.3 744.0,378.0 745.0,377.4 746.0,376.7 746.7,376.2 747.0,376.0 748.0,375.2 749.0,374.4 750.0,373.7 751.0,373.0 751.3,372.8 752.0,372.4 753.0,371.8 753.3,371.7 754.0,371.4 755.0,370.9 756.0,370.5 756.7,370.3 757.0,370.2 758.0,370.0 758.3,370.0 759.0,370.1 759.2,370.2 760.0,370.7 761.0,371.7 762.0,373.0 763.0,374.4 763.3,374.9 764.0,376.0 764.2,376.3 765.0,377.6 765.5,378.3 766.0,379.1 766.7,380.0 767.0,380.4 768.0,381.6 769.0,382.9 769.2,383.2 769.5,383.6 770.0,384.2 771.0,385.5 772.0,386.9 772.5,387.5 773.0,388.2 773.3,388.6 774.0,389.6 775.0,390.9 775.2,391.2 776.0,392.3 776.7,393.3 777.0,393.7 778.0,395.1 779.0,396.6 780.0,398.0 780.5,398.7 781.0,399.5 782.0,401.0 783.0,402.5 783.3,402.9 784.0,404.0 785.0,405.6 785.5,406.4 785.8,406.8 786.0,407.2 786.7,408.3 787.0,408.8 787.5,409.6 788.0,410.5 788.3,411.0 789.0,412.2 789.2,412.6 790.0,414.0 791.0,415.8 791.7,417.1 792.0,417.6 793.0,419.5 793.3,420.0 794.0,421.2 794.5,422.0 795.0,422.9 796.0,424.5 796.7,425.7 797.0,426.2 797.5,427.2 798.0,428.2 798.3,428.8 798.8,430.0 799.0,430.5 799.7,432.9 800.0,434.1 800.5,436.1 801.0,438.2 801.3,439.3 801.5,440.0 802.0,441.5 802.5,442.5 803.0,443.1 803.3,443.4 804.0,444.1 805.0,444.8 806.0,445.4 806.7,445.8 807.0,446.0 807.5,446.3 808.0,446.6 808.3,446.8 808.8,447.1 809.0,447.3 810.0,447.9 811.0,448.5 812.0,449.1 813.0,449.6 813.8,450.0 813.8,484.0" fill="#fbc31d"/>
<polygon points="161.0,484.0 161.0,479.0 162.0,479.0 163.0,478.9 163.7,478.9 164.0,478.9 165.0,478.8 165.6,478.8 166.0,478.8 167.0,478.8 168.0,478.7 168.9,478.7 169.0,478.7 170.0,478.6 171.0,478.6 172.0,478.6 172.1,478.6 173.0,478.5 174.0,478.5 175.0,478.4 175.9,478.4 176.0,478.4 176.4,478.3 177.0,478.3 177.3,478.2 178.0,478.2 179.0,478.1 180.0,477.9 180.1,477.9 181.0,477.8 182.0,477.7 182.4,477.7 183.0,477.6 184.0,477.5 184.8,477.4 185.0,477.4 186.0,477.3 187.0,477.2 187.1,477.2 188.0,477.1 189.0,477.0 189.9,476.9 190.0,476.9 191.0,476.8 192.0,476.7 192.7,476.5 193.0,476.5 194.0,476.2 195.0,476.0 196.0,475.8 197.0,475.5 198.0,475.3 198.3,475.2 199.0,475.1 200.0,474.8 201.0,474.6 201.1,474.6 202.0,474.4 203.0,474.1 204.0,473.9 205.0,473.7 205.8,473.5 206.0,473.4 207.0,473.2 208.0,473.0 208.6,472.8 209.0,472.7 210.0,472.5 211.0,472.3 211.4,472.2 212.0,472.0 213.0,471.8 213.3,471.7 214.0,471.4 214.2,471.3 215.0,470.8 216.0,470.3 216.1,470.2 217.0,469.7 217.9,469.2 218.0,469.2 219.0,468.6 219.8,468.2 220.0,468.1 221.0,467.5 222.0,467.0 223.0,466.4 224.0,465.9 224.5,465.6 225.0,465.3 226.0,464.8 227.0,464.2 227.8,463.8 228.0,463.7 229.0,463.1 229.6,462.8 230.0,462.6 231.0,462.0 232.0,461.5 233.0,460.4 233.8,459.5 234.0,459.2 235.0,458.1 236.0,456.9 236.6,456.2 237.0,455.7 238.0,454.5 239.0,453.3 239.4,452.8 240.0,452.1 241.0,451.0 241.3,450.6 242.0,449.8 242.3,449.4 243.0,448.6 243.2,448.3 244.0,447.4 244.6,446.7 245.0,446.2 245.6,445.5 246.0,445.0 246.7,444.2 247.0,443.8 248.0,442.7 249.0,441.6 249.3,441.3 250.0,440.5 251.0,439.5 252.0,438.5 252.7,437.7 253.0,437.4 254.0,436.4 255.0,435.4 256.0,434.3 257.0,433.3 257.6,432.7 258.0,432.3 259.0,431.2 260.0,430.2 261.0,429.1 261.8,428.3 262.0,428.1 263.0,427.1 263.5,426.6 264.0,426.0 265.0,424.9 266.0,423.5 266.7,422.5 267.0,422.1 267.7,421.1 268.0,420.6 269.0,419.2 270.0,417.7 271.0,416.3 272.0,414.9 272.5,414.1 273.0,413.4 274.0,412.0 275.0,410.5 275.2,410.3 276.0,409.1 277.0,407.4 278.0,405.5 278.3,404.9 279.0,403.6 279.3,403.1 280.0,401.8 281.0,399.9 282.0,398.0 283.0,396.2 284.0,394.3 284.3,393.7 285.0,392.4 286.0,390.6 286.8,389.1 287.0,388.7 288.0,386.8 289.0,385.0 289.3,384.4 290.0,383.1 291.0,381.2 291.7,379.9 292.0,379.4 293.0,377.5 294.0,375.6 295.0,373.7 296.0,371.8 297.0,369.9 298.0,367.7 298.3,367.1 299.0,365.8 300.0,364.0 300.8,362.5 301.0,362.2 301.7,360.9 302.0,360.4 302.5,359.5 303.0,358.7 304.0,357.0 305.0,355.4 306.0,353.9 306.7,352.8 307.0,352.3 308.0,350.8 309.0,349.3 309.2,349.0 310.0,347.8 311.0,346.3 312.0,344.8 312.5,344.0 313.0,343.2 314.0,341.5 314.7,340.2 315.0,339.6 316.0,337.8 317.0,336.0 318.0,334.4 319.0,333.0 319.2,332.7 320.0,331.8 321.0,330.9 321.7,330.2 322.0,330.0 322.5,329.5 323.0,329.1 324.0,328.4 325.0,327.7 326.0,327.1 327.0,326.6 328.0,326.2 328.3,326.1 328.7,325.9 329.0,325.8 330.0,325.4 330.8,325.2 331.0,325.1 331.7,325.0 332.0,324.9 333.0,324.8 333.3,324.8 334.0,324.8 335.0,324.8 335.8,324.9 336.0,324.9 337.0,324.9 337.5,324.9 338.0,325.0 339.0,325.0 340.0,325.1 341.0,325.2 341.7,325.3 342.0,325.4 342.7,325.5 343.0,325.6 344.0,326.0 345.0,326.3 345.3,326.5 346.0,326.8 347.0,327.2 348.0,327.8 349.0,328.3 350.0,328.8 351.0,329.4 352.0,329.9 353.0,330.5 353.3,330.6 354.0,331.0 355.0,331.5 356.0,332.0 356.7,332.3 357.0,332.5 357.4,332.7 358.0,333.0 359.0,333.6 360.0,334.1 361.0,334.7 361.3,334.9 362.0,335.2 363.0,335.8 363.3,335.9 364.0,336.3 365.0,336.7 366.0,337.2 366.7,337.5 367.0,337.6 368.0,337.9 368.7,338.1 369.0,338.2 370.0,338.6 371.0,338.9 372.0,339.2 372.7,339.5 373.0,339.5 373.3,339.6 374.0,339.8 375.0,340.0 376.0,340.1 376.7,340.1 377.0,340.1 378.0,340.0 379.0,339.9 380.0,339.6 381.0,339.4 382.0,339.1 382.7,338.8 383.0,338.7 384.0,338.4 385.0,338.0 386.0,337.7 386.7,337.5 387.0,337.3 388.0,336.9 388.7,336.6 389.0,336.5 390.0,336.0 391.0,335.5 392.0,334.9 392.7,334.5 393.0,334.3 394.0,333.8 395.0,333.2 396.0,332.6 397.0,332.0 397.3,331.8 398.0,331.4 399.0,330.8 400.0,330.2 401.0,329.5 401.3,329.3 402.0,328.8 403.0,328.0 404.0,327.2 405.0,326.5 406.0,325.7 406.7,325.2 407.0,325.0 408.0,324.2 409.0,323.6 409.3,323.4 410.0,322.9 411.0,322.4 412.0,321.9 413.0,321.4 414.0,321.1 415.0,320.8 415.5,320.7 416.0,320.6 416.7,320.4 417.0,320.3 418.0,320.0 418.7,319.9 419.0,319.8 420.0,319.6 421.0,319.3 421.7,319.2 422.0,319.1 423.0,318.9 423.2,318.9 424.0,318.7 425.0,318.5 426.0,318.4 426.2,318.3 427.0,318.2 428.0,318.1 429.0,318.0 429.2,317.9 430.0,317.9 431.0,317.8 431.5,317.7 432.0,317.7 433.0,317.6 433.7,317.6 434.0,317.6 435.0,317.6 436.0,317.6 436.7,317.6 437.0,317.7 437.5,317.7 438.0,317.7 438.2,317.7 439.0,317.8 439.7,317.9 440.0,317.9 440.5,318.0 441.0,318.0 442.0,318.2 442.7,318.3 443.0,318.3 443.5,318.4 444.0,318.5 445.0,318.7 446.0,318.8 446.5,318.9 447.0,319.0 448.0,319.2 448.3,319.3 449.0,319.4 449.5,319.5 450.0,319.6 451.0,319.8 452.0,320.0 452.5,320.1 453.0,320.3 453.3,320.3 454.0,320.5 455.0,320.8 456.0,321.1 457.0,321.4 458.0,321.7 459.0,322.0 460.0,322.3 461.0,322.7 462.0,323.0 463.0,323.4 464.0,323.8 464.5,324.0 465.0,324.2 466.0,324.6 466.7,324.9 467.0,325.0 467.5,325.2 468.0,325.4 469.0,325.9 470.0,326.4 471.0,326.9 471.7,327.3 472.0,327.5 473.0,328.0 473.3,328.2 474.0,328.6 475.0,329.3 475.8,329.8 476.0,329.9 477.0,330.6 478.0,331.3 478.3,331.5 479.0,332.0 480.0,332.8 480.4,333.1 481.0,333.5 482.0,334.3 482.1,334.4 483.0,335.2 483.3,335.5 484.0,336.1 485.0,337.1 485.4,337.5 486.0,338.2 487.0,339.3 487.5,339.8 488.0,340.4 489.0,341.5 490.0,342.7 490.4,343.2 491.0,343.9 492.0,345.0 493.0,346.1 493.3,346.5 494.0,347.2 494.2,347.5 495.0,348.3 496.0,349.3 496.7,350.0 497.0,350.3 498.0,351.3 499.0,352.3 500.0,353.3 500.8,354.1 501.0,354.3 502.0,355.3 503.0,356.3 503.3,356.6 504.0,357.3 505.0,358.3 506.0,359.2 506.7,359.9 507.0,360.2 508.0,361.2 508.3,361.5 509.0,362.2 510.0,363.2 510.8,364.0 511.0,364.2 512.0,365.2 512.5,365.7 513.0,366.2 513.3,366.5 514.0,367.2 515.0,368.2 516.0,369.2 516.7,369.9 517.0,370.2 518.0,371.2 519.0,372.2 520.0,373.2 521.0,374.2 521.7,374.9 522.0,375.2 523.0,376.2 523.3,376.5 524.0,377.2 525.0,378.3 526.0,379.4 526.7,380.1 527.0,380.5 528.0,381.5 528.3,381.8 529.0,382.6 530.0,383.5 531.0,384.3 531.7,384.7 532.0,384.9 533.0,385.5 534.0,386.0 534.7,386.3 535.0,386.5 536.0,386.9 536.7,387.2 537.0,387.4 538.0,387.8 539.0,388.2 539.3,388.3 540.0,388.6 541.0,389.0 541.7,389.3 542.0,389.5 543.0,390.0 544.0,390.4 545.0,390.9 545.2,391.0 545.8,391.3 546.0,391.4 547.0,391.8 548.0,392.3 549.0,392.8 550.0,393.3 550.4,393.5 551.0,393.8 551.7,394.2 552.0,394.4 553.0,395.0 553.3,395.2 554.0,395.7 555.0,396.4 556.0,397.3 556.7,397.9 557.0,398.2 558.0,399.3 559.0,400.4 559.2,400.6 560.0,401.5 560.8,402.2 561.0,402.4 562.0,403.2 563.0,403.9 563.2,404.0 563.5,404.2 564.0,404.6 565.0,405.2 566.0,405.9 566.2,406.0 567.0,406.5 568.0,407.1 569.0,407.7 570.0,408.3 570.8,408.7 571.0,408.9 572.0,409.5 573.0,410.1 574.0,410.7 575.0,411.4 576.0,412.1 576.6,412.6 577.0,412.9 577.8,413.5 578.0,413.6 579.0,414.5 580.0,415.5 580.1,415.6 580.2,415.7 581.0,416.5 582.0,417.6 582.5,418.1 583.0,418.7 584.0,419.7 584.8,420.5 585.0,420.7 585.5,421.2 586.0,421.7 587.0,422.5 588.0,423.2 588.3,423.4 589.0,423.9 590.0,424.6 590.1,424.7 591.0,425.3 592.0,426.0 593.0,426.7 594.0,427.5 594.5,427.9 595.0,428.4 595.3,428.6 596.0,429.2 597.0,429.9 598.0,430.6 598.8,431.1 599.0,431.2 600.0,431.7 601.0,432.0 602.0,432.2 602.5,432.2 603.0,432.3 604.0,432.4 604.2,432.5 604.6,432.5 605.0,432.6 606.0,432.7 606.7,432.7 607.0,432.8 608.0,432.9 609.0,433.0 609.2,433.0 610.0,433.1 611.0,433.2 611.7,433.4 612.0,433.4 613.0,433.6 614.0,433.9 614.2,433.9 615.0,434.1 616.0,434.4 617.0,434.7 617.5,434.9 618.0,435.1 619.0,435.4 620.0,435.8 620.8,436.1 621.0,436.2 622.0,436.6 623.0,437.0 623.3,437.2 624.0,437.5 625.0,437.9 626.0,438.3 626.7,438.6 627.0,438.8 628.0,439.2 629.0,439.6 630.0,440.1 630.8,440.4 631.0,440.5 631.7,440.7 632.0,440.9 633.0,441.2 633.8,441.5 634.0,441.6 635.0,442.0 636.0,442.5 637.0,442.9 637.5,443.2 638.0,443.4 639.0,443.9 639.2,444.0 640.0,444.4 641.0,444.9 641.7,445.2 642.0,445.4 643.0,445.8 644.0,446.3 645.0,446.8 646.0,447.2 647.0,447.7 648.0,448.1 649.0,448.5 650.0,448.8 651.0,449.2 652.0,449.4 653.0,449.7 653.3,449.7 654.0,449.9 655.0,450.0 656.0,450.1 656.7,450.1 657.0,450.1 658.0,450.0 658.3,450.0 659.0,449.9 660.0,449.7 660.8,449.6 661.0,449.5 662.0,449.3 663.0,449.0 663.3,448.9 664.0,448.6 665.0,448.3 666.0,447.9 667.0,447.5 668.0,447.1 668.3,447.0 669.0,446.7 670.0,446.3 670.8,445.9 671.0,445.8 672.0,445.4 673.0,445.0 673.3,444.9 674.0,444.6 675.0,444.1 676.0,443.6 676.7,443.2 677.0,443.0 678.0,442.5 679.0,441.9 679.3,441.7 680.0,441.3 681.0,440.7 682.0,440.0 683.0,439.4 683.3,439.2 684.0,438.8 685.0,438.2 685.2,438.1 686.0,437.6 686.7,437.2 687.0,437.1 688.0,436.5 688.3,436.3 688.5,436.2 689.0,435.9 690.0,435.1 691.0,434.2 692.0,433.1 692.5,432.5 693.0,431.9 693.3,431.5 693.5,431.2 694.0,430.6 694.3,430.2 695.0,429.2 695.8,428.1 696.0,427.9 696.4,427.3 696.7,426.9 697.0,426.5 697.5,425.9 697.7,425.6 698.0,425.3 699.0,424.1 700.0,423.0 700.2,422.7 701.0,422.0 702.0,421.1 702.7,420.6 703.0,420.4 703.3,420.2 703.8,419.9 704.0,419.8 704.8,419.3 705.0,419.1 706.0,418.5 707.0,417.9 708.0,417.4 708.5,417.1 709.0,416.8 710.0,416.3 711.0,415.9 711.8,415.5 712.0,415.5 713.0,415.1 713.3,415.0 713.5,414.9 714.0,414.7 715.0,414.4 715.2,414.4 715.8,414.2 716.0,414.2 716.6,414.0 717.0,413.9 718.0,413.7 719.0,413.5 719.3,413.4 720.0,413.3 721.0,413.1 721.7,413.0 722.0,412.9 722.5,412.8 723.0,412.8 723.3,412.7 724.0,412.6 724.2,412.6 725.0,412.5 726.0,412.4 726.7,412.3 727.0,412.3 728.0,412.2 729.0,412.2 729.2,412.2 729.4,412.2 730.0,412.2 731.0,412.2 732.0,412.3 733.0,412.4 733.3,412.4 734.0,412.5 734.7,412.5 735.0,412.6 736.0,412.7 737.0,412.8 738.0,413.0 739.0,413.2 740.0,413.3 741.0,413.5 742.0,413.7 742.7,413.8 743.0,413.9 743.3,413.9 744.0,414.1 745.0,414.2 746.0,414.4 746.7,414.6 747.0,414.6 748.0,414.9 749.0,415.1 750.0,415.3 751.0,415.6 751.3,415.7 752.0,415.9 753.0,416.2 753.3,416.3 754.0,416.6 755.0,416.9 756.0,417.3 756.7,417.6 757.0,417.8 758.0,418.3 758.3,418.5 759.0,419.0 759.2,419.1 760.0,419.7 761.0,420.5 762.0,421.3 763.0,422.2 763.3,422.4 764.0,423.1 764.2,423.3 765.0,424.0 765.5,424.4 766.0,424.9 766.7,425.6 767.0,425.9 768.0,426.9 769.0,428.0 769.2,428.2 769.5,428.6 770.0,429.2 771.0,430.3 772.0,431.6 772.5,432.2 773.0,432.8 773.3,433.2 774.0,434.1 775.0,435.3 775.2,435.6 776.0,436.6 776.7,437.5 777.0,437.8 778.0,439.1 779.0,440.3 780.0,441.6 780.5,442.3 781.0,443.0 782.0,444.3 783.0,445.7 783.3,446.1 784.0,447.0 785.0,448.3 785.5,448.9 785.8,449.3 786.0,449.6 786.7,450.4 787.0,450.8 787.5,451.4 788.0,452.0 788.3,452.3 789.0,453.1 789.2,453.3 790.0,454.1 791.0,455.2 791.7,455.9 792.0,456.2 793.0,457.1 793.3,457.4 794.0,458.1 794.5,458.5 795.0,459.0 796.0,459.9 796.7,460.5 797.0,460.8 797.5,461.2 798.0,461.6 798.3,461.9 798.8,462.3 799.0,462.5 799.7,463.0 800.0,463.3 800.5,463.7 801.0,464.1 801.3,464.4 801.5,464.5 802.0,464.9 802.5,465.3 803.0,465.8 803.3,466.1 804.0,466.4 805.0,466.5 806.0,466.6 806.7,466.7 807.0,466.7 807.5,466.7 808.0,466.7 808.3,466.8 808.8,466.8 809.0,466.8 810.0,466.8 811.0,466.9 812.0,466.9 813.0,466.9 813.8,466.9 813.8,484.0" fill="#ea4335"/>
<polygon points="161.0,484.0 161.0,481.4 162.0,481.4 163.0,481.3 163.7,481.3 164.0,481.3 165.0,481.2 165.6,481.2 166.0,481.2 167.0,481.2 168.0,481.1 168.9,481.1 169.0,481.1 170.0,481.0 171.0,481.0 172.0,481.0 172.1,481.0 173.0,480.9 174.0,480.9 175.0,480.8 175.9,480.8 176.0,480.8 176.4,480.7 177.0,480.7 177.3,480.7 178.0,480.6 179.0,480.5 180.0,480.4 180.1,480.4 181.0,480.3 182.0,480.1 182.4,480.1 183.0,480.0 184.0,479.9 184.8,479.8 185.0,479.8 186.0,479.7 187.0,479.6 187.1,479.6 188.0,479.5 189.0,479.4 189.9,479.3 190.0,479.3 191.0,479.2 192.0,479.1 192.7,479.0 193.0,478.9 194.0,478.7 195.0,478.5 196.0,478.2 197.0,478.0 198.0,477.8 198.3,477.7 199.0,477.5 200.0,477.3 201.0,477.1 201.1,477.0 202.0,476.8 203.0,476.6 204.0,476.4 205.0,476.1 205.8,476.0 206.0,475.9 207.0,475.7 208.0,475.4 208.6,475.3 209.0,475.2 210.0,475.0 211.0,474.7 211.4,474.7 212.0,474.5 213.0,474.3 213.3,474.2 214.0,474.0 214.2,474.0 215.0,473.6 216.0,473.0 216.1,473.0 217.0,472.5 217.9,472.0 218.0,471.9 219.0,471.4 219.8,470.9 220.0,470.8 221.0,470.3 222.0,469.7 223.0,469.2 224.0,468.6 224.5,468.3 225.0,468.0 226.0,467.5 227.0,466.9 227.8,466.5 228.0,466.4 229.0,465.8 229.6,465.5 230.0,465.3 231.0,464.7 232.0,464.2 233.0,463.6 233.8,463.2 234.0,463.0 235.0,461.8 236.0,460.6 236.6,459.9 237.0,459.4 238.0,458.2 239.0,457.0 239.4,456.6 240.0,455.9 241.0,454.7 241.3,454.3 242.0,453.5 242.3,453.1 243.0,452.3 243.2,452.1 244.0,451.1 244.6,450.4 245.0,449.9 245.6,449.2 246.0,448.7 246.7,447.9 247.0,447.6 248.0,446.4 249.0,445.2 249.3,444.8 250.0,444.0 251.0,443.0 252.0,441.9 252.7,441.2 253.0,440.9 254.0,439.9 255.0,438.8 256.0,437.8 257.0,436.7 257.6,436.1 258.0,435.7 259.0,434.7 260.0,433.6 261.0,432.6 261.8,431.8 262.0,431.6 263.0,430.5 263.5,430.0 264.0,429.5 265.0,428.5 266.0,427.4 266.7,426.7 267.0,426.3 267.7,425.3 268.0,424.8 269.0,423.4 270.0,421.9 271.0,420.5 272.0,419.1 272.5,418.4 273.0,417.6 274.0,416.2 275.0,414.8 275.2,414.5 276.0,413.3 277.0,411.9 278.0,410.4 278.3,410.0 279.0,408.7 279.3,408.1 280.0,406.8 281.0,405.0 282.0,403.1 283.0,401.2 284.0,399.4 284.3,398.8 285.0,397.5 286.0,395.6 286.8,394.1 287.0,393.8 288.0,391.9 289.0,390.0 289.3,389.5 290.0,388.2 291.0,386.3 291.7,385.0 292.0,384.4 293.0,382.6 294.0,380.7 295.0,378.8 296.0,376.9 297.0,375.0 298.0,373.2 298.3,372.6 299.0,371.3 300.0,369.0 300.8,367.5 301.0,367.2 301.7,365.9 302.0,365.3 302.5,364.4 303.0,363.5 304.0,361.7 305.0,360.0 306.0,358.3 306.7,357.2 307.0,356.7 308.0,355.2 309.0,353.7 309.2,353.4 310.0,352.2 311.0,350.7 312.0,349.2 312.5,348.4 313.0,347.7 314.0,346.1 314.7,345.0 315.0,344.5 316.0,342.8 317.0,340.9 318.0,339.1 319.0,337.3 319.2,337.0 320.0,335.7 321.0,334.3 321.7,333.5 322.0,333.2 322.5,332.7 323.0,332.3 324.0,331.4 325.0,330.6 326.0,329.9 327.0,329.3 328.0,328.8 328.3,328.7 328.7,328.5 329.0,328.4 330.0,328.0 330.8,327.7 331.0,327.6 331.7,327.4 332.0,327.3 333.0,327.2 333.3,327.2 334.0,327.2 335.0,327.2 335.8,327.3 336.0,327.3 337.0,327.3 337.5,327.3 338.0,327.4 339.0,327.4 340.0,327.5 341.0,327.6 341.7,327.8 342.0,327.8 342.7,328.0 343.0,328.1 344.0,328.5 345.0,328.9 345.3,329.1 346.0,329.4 347.0,329.9 348.0,330.5 349.0,331.0 350.0,331.6 351.0,332.1 352.0,332.7 353.0,333.2 353.3,333.3 354.0,333.6 355.0,334.1 356.0,334.7 356.7,335.0 357.0,335.2 357.4,335.4 358.0,335.8 359.0,336.3 360.0,336.9 361.0,337.4 361.3,337.6 362.0,338.0 363.0,338.5 363.3,338.6 364.0,338.9 365.0,339.4 366.0,339.8 366.7,340.0 367.0,340.1 368.0,340.4 368.7,340.7 369.0,340.8 370.0,341.1 371.0,341.4 372.0,341.7 372.7,341.9 373.0,342.0 373.3,342.1 374.0,342.2 375.0,342.4 376.0,342.5 376.7,342.5 377.0,342.5 378.0,342.4 379.0,342.3 380.0,342.1 381.0,341.9 382.0,341.6 382.7,341.4 383.0,341.3 384.0,340.9 385.0,340.6 386.0,340.2 386.7,340.0 387.0,339.9 388.0,339.5 388.7,339.2 389.0,339.1 390.0,338.7 391.0,338.2 392.0,337.6 392.7,337.3 393.0,337.1 394.0,336.5 395.0,336.0 396.0,335.4 397.0,334.8 397.3,334.6 398.0,334.2 399.0,333.6 400.0,333.0 401.0,332.4 401.3,332.2 402.0,331.7 403.0,331.0 404.0,330.3 405.0,329.5 406.0,328.7 406.7,328.2 407.0,328.0 408.0,327.2 409.0,326.5 409.3,326.3 410.0,325.8 411.0,325.1 412.0,324.6 413.0,324.0 414.0,323.6 415.0,323.3 415.5,323.2 416.0,323.0 416.7,322.8 417.0,322.8 418.0,322.5 418.7,322.3 419.0,322.3 420.0,322.0 421.0,321.8 421.7,321.6 422.0,321.6 423.0,321.4 423.2,321.3 424.0,321.2 425.0,321.0 426.0,320.8 426.2,320.8 427.0,320.6 428.0,320.5 429.0,320.4 429.2,320.3 430.0,320.3 431.0,320.2 431.5,320.1 432.0,320.1 433.0,320.0 433.7,320.0 434.0,320.0 435.0,320.0 436.0,320.0 436.7,320.0 437.0,320.1 437.5,320.1 438.0,320.1 438.2,320.1 439.0,320.2 439.7,320.3 440.0,320.3 440.5,320.4 441.0,320.5 442.0,320.6 442.7,320.7 443.0,320.8 443.5,320.8 444.0,320.9 445.0,321.1 446.0,321.3 446.5,321.4 447.0,321.5 448.0,321.6 448.3,321.7 449.0,321.8 449.5,321.9 450.0,322.0 451.0,322.2 452.0,322.5 452.5,322.6 453.0,322.7 453.3,322.8 454.0,323.0 455.0,323.3 456.0,323.6 457.0,323.9 458.0,324.2 459.0,324.5 460.0,324.9 461.0,325.2 462.0,325.6 463.0,326.0 464.0,326.4 464.5,326.6 465.0,326.8 466.0,327.2 466.7,327.5 467.0,327.6 467.5,327.9 468.0,328.1 469.0,328.6 470.0,329.1 471.0,329.6 471.7,330.0 472.0,330.2 473.0,330.8 473.3,331.0 474.0,331.5 475.0,332.1 475.8,332.7 476.0,332.8 477.0,333.5 478.0,334.3 478.3,334.5 479.0,335.0 480.0,335.8 480.4,336.1 481.0,336.6 482.0,337.5 482.1,337.6 483.0,338.5 483.3,338.8 484.0,339.6 485.0,340.6 485.4,341.1 486.0,341.8 487.0,342.9 487.5,343.5 488.0,344.1 489.0,345.2 490.0,346.4 490.4,346.8 491.0,347.5 492.0,348.6 493.0,349.7 493.3,350.0 494.0,350.7 494.2,350.9 495.0,351.7 496.0,352.7 496.7,353.4 497.0,353.7 498.0,354.7 499.0,355.7 500.0,356.7 500.8,357.5 501.0,357.7 502.0,358.7 503.0,359.6 503.3,359.9 504.0,360.6 505.0,361.6 506.0,362.6 506.7,363.3 507.0,363.6 508.0,364.6 508.3,364.9 509.0,365.6 510.0,366.6 510.8,367.4 511.0,367.6 512.0,368.6 512.5,369.1 513.0,369.6 513.3,369.9 514.0,370.6 515.0,371.6 516.0,372.6 516.7,373.3 517.0,373.6 518.0,374.6 519.0,375.6 520.0,376.6 521.0,377.6 521.7,378.3 522.0,378.6 523.0,379.6 523.3,380.0 524.0,380.7 525.0,381.8 526.0,382.9 526.7,383.6 527.0,384.0 528.0,384.9 528.3,385.2 529.0,385.8 530.0,386.5 531.0,387.1 531.7,387.5 532.0,387.7 533.0,388.2 534.0,388.7 534.7,389.0 535.0,389.1 536.0,389.5 536.7,389.8 537.0,389.9 538.0,390.4 539.0,390.8 539.3,390.9 540.0,391.2 541.0,391.7 541.7,392.0 542.0,392.1 543.0,392.6 544.0,393.1 545.0,393.6 545.2,393.7 545.8,393.9 546.0,394.0 547.0,394.5 548.0,395.0 549.0,395.5 550.0,396.0 550.4,396.3 551.0,396.6 551.7,397.0 552.0,397.2 553.0,397.9 553.3,398.1 554.0,398.7 555.0,399.6 556.0,400.7 556.7,401.5 557.0,401.8 558.0,402.9 559.0,403.8 559.2,404.0 560.0,404.6 560.8,405.3 561.0,405.4 562.0,406.1 563.0,406.8 563.2,406.9 563.5,407.1 564.0,407.5 565.0,408.1 566.0,408.7 566.2,408.8 567.0,409.3 568.0,409.9 569.0,410.5 570.0,411.1 570.8,411.5 571.0,411.7 572.0,412.3 573.0,412.9 574.0,413.6 575.0,414.4 576.0,415.1 576.6,415.6 577.0,415.9 577.8,416.7 578.0,416.9 579.0,417.9 580.0,418.9 580.1,419.0 580.2,419.2 581.0,420.0 582.0,421.1 582.5,421.6 583.0,422.1 584.0,423.1 584.8,423.8 585.0,424.0 585.5,424.4 586.0,424.7 587.0,425.5 588.0,426.1 588.3,426.3 589.0,426.8 590.0,427.5 590.1,427.6 591.0,428.2 592.0,429.0 593.0,429.8 594.0,430.6 594.5,431.0 595.0,431.4 595.3,431.7 596.0,432.2 597.0,432.8 598.0,433.4 598.8,433.8 599.0,433.9 600.0,434.2 601.0,434.4 602.0,434.6 602.5,434.7 603.0,434.7 604.0,434.9 604.2,434.9 604.6,434.9 605.0,435.0 606.0,435.1 606.7,435.1 607.0,435.2 608.0,435.3 609.0,435.4 609.2,435.4 610.0,435.5 611.0,435.7 611.7,435.8 612.0,435.9 613.0,436.1 614.0,436.3 614.2,436.4 615.0,436.6 616.0,436.9 617.0,437.3 617.5,437.4 618.0,437.6 619.0,438.0 620.0,438.4 620.8,438.7 621.0,438.8 622.0,439.2 623.0,439.7 623.3,439.8 624.0,440.1 625.0,440.5 626.0,441.0 626.7,441.3 627.0,441.4 628.0,441.8 629.0,442.2 630.0,442.6 630.8,443.0 631.0,443.0 631.7,443.3 632.0,443.4 633.0,443.8 633.8,444.1 634.0,444.2 635.0,444.7 636.0,445.1 637.0,445.6 637.5,445.8 638.0,446.1 639.0,446.6 639.2,446.7 640.0,447.0 641.0,447.5 641.7,447.9 642.0,448.0 643.0,448.5 644.0,449.0 645.0,449.4 646.0,449.9 647.0,450.3 648.0,450.7 649.0,451.0 650.0,451.4 651.0,451.7 652.0,451.9 653.0,452.1 653.3,452.2 654.0,452.3 655.0,452.4 656.0,452.5 656.7,452.5 657.0,452.5 658.0,452.4 658.3,452.4 659.0,452.3 660.0,452.2 660.8,452.0 661.0,452.0 662.0,451.8 663.0,451.5 663.3,451.4 664.0,451.2 665.0,450.8 666.0,450.5 667.0,450.1 668.0,449.7 668.3,449.6 669.0,449.3 670.0,448.9 670.8,448.5 671.0,448.4 672.0,448.0 673.0,447.6 673.3,447.5 674.0,447.2 675.0,446.8 676.0,446.3 676.7,445.9 677.0,445.8 678.0,445.2 679.0,444.7 679.3,444.5 680.0,444.1 681.0,443.5 682.0,442.9 683.0,442.2 683.3,442.1 684.0,441.6 685.0,441.0 685.2,440.9 686.0,440.4 686.7,440.0 687.0,439.8 688.0,439.3 688.3,439.1 688.5,439.0 689.0,438.7 690.0,438.1 691.0,437.4 692.0,436.6 692.5,436.1 693.0,435.6 693.3,435.2 693.5,435.0 694.0,434.4 694.3,434.1 695.0,433.2 695.8,432.1 696.0,431.9 696.4,431.3 696.7,430.9 697.0,430.5 697.5,429.9 697.7,429.6 698.0,429.2 699.0,427.9 700.0,426.6 700.2,426.3 701.0,425.4 702.0,424.3 702.7,423.7 703.0,423.4 703.3,423.2 703.8,422.8 704.0,422.7 704.8,422.2 705.0,422.0 706.0,421.3 707.0,420.7 708.0,420.1 708.5,419.8 709.0,419.6 710.0,419.0 711.0,418.5 711.8,418.1 712.0,418.1 713.0,417.6 713.3,417.5 713.5,417.4 714.0,417.3 715.0,416.9 715.2,416.9 715.8,416.7 716.0,416.6 716.6,416.5 717.0,416.4 718.0,416.2 719.0,416.0 719.3,415.9 720.0,415.8 721.0,415.5 721.7,415.4 722.0,415.4 722.5,415.3 723.0,415.2 723.3,415.1 724.0,415.0 724.2,415.0 725.0,414.9 726.0,414.8 726.7,414.7 727.0,414.7 728.0,414.6 729.0,414.6 729.2,414.6 729.4,414.6 730.0,414.6 731.0,414.6 732.0,414.7 733.0,414.8 733.3,414.8 734.0,414.9 734.7,414.9 735.0,415.0 736.0,415.1 737.0,415.3 738.0,415.4 739.0,415.6 740.0,415.8 741.0,416.0 742.0,416.1 742.7,416.3 743.0,416.3 743.3,416.4 744.0,416.5 745.0,416.7 746.0,416.9 746.7,417.0 747.0,417.1 748.0,417.3 749.0,417.6 750.0,417.8 751.0,418.1 751.3,418.2 752.0,418.4 753.0,418.7 753.3,418.9 754.0,419.1 755.0,419.5 756.0,420.0 756.7,420.4 757.0,420.5 758.0,421.2 758.3,421.4 759.0,421.9 759.2,422.1 760.0,422.7 761.0,423.6 762.0,424.5 763.0,425.4 763.3,425.7 764.0,426.3 764.2,426.5 765.0,427.3 765.5,427.8 766.0,428.3 766.7,429.0 767.0,429.4 768.0,430.5 769.0,431.7 769.2,431.9 769.5,432.3 770.0,432.9 771.0,434.1 772.0,435.4 772.5,436.0 773.0,436.7 773.3,437.0 774.0,437.9 775.0,439.2 775.2,439.4 776.0,440.4 776.7,441.3 777.0,441.7 778.0,443.0 779.0,444.3 780.0,445.6 780.5,446.3 781.0,447.0 782.0,448.3 783.0,449.6 783.3,450.0 784.0,450.9 785.0,452.1 785.5,452.7 785.8,453.1 786.0,453.3 786.7,454.1 787.0,454.5 787.5,455.0 788.0,455.5 788.3,455.8 789.0,456.6 789.2,456.8 790.0,457.6 791.0,458.5 791.7,459.2 792.0,459.5 793.0,460.4 793.3,460.7 794.0,461.3 794.5,461.8 795.0,462.2 796.0,463.1 796.7,463.7 797.0,463.9 797.5,464.3 798.0,464.8 798.3,465.0 798.8,465.4 799.0,465.6 799.7,466.2 800.0,466.4 800.5,466.8 801.0,467.2 801.3,467.5 801.5,467.6 802.0,468.1 802.5,468.5 803.0,468.7 803.3,468.7 804.0,468.8 805.0,468.9 806.0,469.0 806.7,469.1 807.0,469.1 807.5,469.1 808.0,469.2 808.3,469.2 808.8,469.2 809.0,469.2 810.0,469.2 811.0,469.3 812.0,469.3 813.0,469.3 813.8,469.3 813.8,484.0" fill="#335893"/>
<polyline points="479.0,299.4 480.0,300.2 480.4,300.5 481.0,299.8 482.0,298.6 482.1,298.4 483.0,303.3 483.3,305.0 484.0,308.8 485.0,314.2 485.4,316.4 486.0,316.3 487.0,316.1 487.5,315.9 488.0,315.7 489.0,315.3 490.0,314.9 490.4,314.7 491.0,316.5 492.0,319.6 493.0,322.7 493.3,323.6 494.0,325.8 494.2,326.4 495.0,326.7 496.0,327.0 496.7,327.2 497.0,327.3 498.0,327.5 499.0,327.6 500.0,327.8 500.8,328.0 501.0,328.4 502.0,330.2 503.0,332.0 503.3,332.6 504.0,332.1 505.0,331.4 506.0,331.5 506.7,331.6 507.0,331.6 508.0,331.8 508.3,331.8 509.0,331.2 510.0,330.4 510.8,329.7 511.0,330.6 512.0,335.0 512.5,337.2 513.0,339.3 513.3,340.5 514.0,341.0 515.0,341.8 516.0,342.5 516.7,343.0 517.0,343.3 518.0,344.0 519.0,344.8 520.0,345.5 521.0,347.0 521.7,348.1 522.0,348.5 523.0,350.0 523.3,350.5 524.0,349.4 525.0,347.9 526.0,346.4 526.7,345.4 527.0,344.9 528.0,343.4 528.3,343.0 529.0,344.2 530.0,345.9 531.0,347.7 531.7,348.9 532.0,348.7 533.0,348.0 534.0,347.3 534.7,346.9 535.0,346.7 536.0,346.0 536.7,345.5 537.0,344.2 538.0,339.9 539.0,335.6 539.3,334.3 540.0,331.2 541.0,326.9 541.7,323.9 542.0,323.5 543.0,322.3 544.0,321.1 545.0,319.9 545.2,319.6 545.8,318.9 546.0,317.7 547.0,311.5 548.0,305.3 549.0,299.2 550.0,293.0 550.4,294.0 551.0,295.5 551.7,297.2 552.0,296.7 553.0,295.0 553.3,294.5 554.0,293.4 555.0,291.7 556.0,290.1 556.7,288.9 557.0,288.3 558.0,286.2 559.0,284.2 559.2,283.8 560.0,282.1 560.8,280.5 561.0,279.9 562.0,276.7 563.0,273.5 563.2,272.9 563.5,271.9 564.0,274.2 565.0,278.7 566.0,283.2 566.2,283.4 567.0,284.2 568.0,285.2 569.0,286.2 570.0,286.4 570.8,286.6 571.0,286.7 572.0,286.9 573.0,288.7 574.0,290.4 575.0,292.2 576.0,291.9 576.6,291.8 577.0,291.7 577.8,291.5 578.0,291.4 579.0,293.4 580.0,295.5 580.1,295.7 580.2,295.9 581.0,296.7 582.0,297.7 582.5,298.2 583.0,298.2 584.0,298.2 584.8,298.2 585.0,298.2 585.5,298.2 586.0,301.2 587.0,307.2 588.0,311.2 588.3,312.4 589.0,315.2 590.0,319.2 590.1,319.6 591.0,322.7 592.0,326.2 593.0,329.7 594.0,338.7 594.5,343.2 595.0,342.7 595.3,342.4 596.0,341.7 597.0,344.9 598.0,348.2 598.8,347.5 599.0,347.3 600.0,346.4 601.0,344.9 602.0,343.4 602.5,342.6 603.0,343.0 604.0,343.7 604.2,343.9 604.6,344.9 605.0,345.9 606.0,348.4 606.7,350.1 607.0,350.1 608.0,350.1 609.0,350.1 609.2,350.1 610.0,348.4 611.0,346.2 611.7,344.7 612.0,344.3 613.0,342.8 614.0,341.3 614.2,340.9 615.0,341.6 616.0,342.3 617.0,343.1 617.5,343.4 618.0,343.6 619.0,344.0 620.0,344.4 620.8,344.7 621.0,345.0 622.0,346.3 623.0,347.6 623.3,348.0 624.0,348.9 625.0,350.3 626.0,351.7 626.7,352.6 627.0,352.6 628.0,352.7 629.0,352.8 630.0,352.9 630.8,353.0 631.0,353.1 631.7,353.4 632.0,353.5 633.0,354.0 633.8,354.3 634.0,353.6 635.0,350.9 636.0,354.8 637.0,358.6 637.5,360.5 638.0,360.0 639.0,359.1 639.2,358.9 640.0,360.8 641.0,363.1 641.7,364.7 642.0,365.5 643.0,368.3 644.0,371.1 645.0,373.9 646.0,378.8 647.0,383.7 648.0,383.2 649.0,382.7 650.0,382.2 651.0,378.9 652.0,375.7 653.0,372.4 653.3,371.4 654.0,372.1 655.0,373.1 656.0,374.0 656.7,374.7 657.0,374.2 658.0,372.3 658.3,371.8 659.0,369.6 660.0,366.4 660.8,363.9 661.0,363.6 662.0,362.0 663.0,360.4 663.3,359.9 664.0,358.8 665.0,357.2 666.0,355.5 667.0,353.8 668.0,352.0 668.3,351.5 669.0,350.3 670.0,348.6 670.8,347.2 671.0,347.0 672.0,346.2 673.0,345.3 673.3,345.1 674.0,344.5 675.0,343.6 676.0,342.8 676.7,342.2 677.0,341.0 678.0,337.2 679.0,333.4 679.3,332.2 680.0,329.0 681.0,324.5 682.0,320.0 683.0,315.5 683.3,314.1 684.0,310.9 685.0,306.4 685.2,305.5 686.0,305.2 686.7,305.0 687.0,304.8 688.0,304.5 688.3,304.4 688.5,304.3 689.0,303.2 690.0,301.1 691.0,298.9 692.0,296.2 692.5,294.9 693.0,293.5 693.3,292.7 693.5,292.2 694.0,298.0 694.3,301.4 695.0,300.3 695.8,299.0 696.0,298.6 696.4,298.0 696.7,302.0 697.0,306.1 697.5,312.8 697.7,315.5 698.0,316.1 699.0,318.1 700.0,320.1 700.2,320.5 701.0,320.0 702.0,319.3 702.7,318.9 703.0,318.3 703.3,317.8 703.8,316.9 704.0,316.5 704.8,315.1 705.0,316.4 706.0,321.4 707.0,321.7 708.0,322.0 708.5,322.2 709.0,321.4 710.0,319.9 711.0,318.4 711.8,317.2 712.0,315.0 713.0,304.3 713.3,301.1 713.5,298.9 714.0,299.3 715.0,300.0 715.2,300.1 715.8,297.5 716.0,296.6 716.6,294.0 717.0,292.2 718.0,287.9 719.0,283.5 719.3,282.2 720.0,277.3 721.0,270.4 721.7,265.5 722.0,264.9 722.5,263.9 723.0,262.9 723.3,262.3 724.0,260.9 724.2,260.5 725.0,259.2 726.0,257.5 726.7,256.4 727.0,257.5 728.0,261.1 729.0,264.8 729.2,265.5 729.4,264.8 730.0,262.5 731.0,258.8 732.0,255.0 733.0,251.3 733.3,250.1 734.0,247.5 734.7,244.9 735.0,243.2 736.0,237.7 737.0,232.1 738.0,226.6 739.0,221.0 740.0,215.5 741.0,210.6 742.0,205.6 742.7,202.2 743.0,201.8 743.3,201.5 744.0,200.6 745.0,199.4 746.0,198.2 746.7,195.9 747.0,194.8 748.0,191.5 749.0,191.1 750.0,190.7 751.0,190.3 751.3,190.2 752.0,187.4 753.0,183.4 753.3,182.2 754.0,172.9 755.0,159.7 756.0,146.5 756.7,137.2 757.0,137.8 758.0,139.8 758.3,140.4 759.0,141.8 759.2,142.2 760.0,148.7 761.0,156.8 762.0,164.9 763.0,173.1 763.3,175.5 764.0,179.3 764.2,180.4 765.0,184.7 765.5,187.4 766.0,204.5" fill="none" stroke="#7baaf7" stroke-width="2.6" stroke-linejoin="round"/>
<polyline points="765.5,186.2 766.0,190.5 766.7,194.3 767.0,196.7 768.0,204.9 769.0,213.0 769.2,214.6 769.5,215.9 770.0,218.2 771.0,222.6 772.0,227.1 772.5,229.3 773.0,230.1 773.3,230.6 774.0,231.7 775.0,233.2 775.2,233.5 776.0,234.8 776.7,235.9 777.0,237.3 778.0,241.8 779.0,246.4 780.0,250.9 780.5,253.4 781.0,256.0 782.0,261.0 783.0,266.1 783.3,267.6 784.0,271.8 785.0,277.8 785.5,280.8 785.8,282.6 786.0,284.0 786.7,288.9 787.0,291.0 787.5,294.5 788.0,298.0 788.3,300.1 789.0,300.3 789.2,300.3 790.0,300.5 791.0,300.7 791.7,300.9 792.0,302.7 793.0,308.8 793.3,310.6 794.0,314.8 794.5,317.9 795.0,320.9 796.0,321.4 796.7,321.8 797.0,321.9 797.5,322.2 798.0,322.4 798.3,322.6 798.8,327.5 799.0,329.5 799.7,336.4 800.0,339.3 800.5,345.9 801.0,352.4 801.3,356.4 801.5,359.0 802.0,372.4 802.5,379.0 803.0,385.6 803.3,389.5 804.0,389.3 805.0,389.0 806.0,388.7 806.7,388.5 807.0,388.4 807.5,388.1 808.0,387.9 808.3,387.8 808.8,388.5 809.0,388.8 810.0,390.1 811.0,391.5 812.0,392.8 813.0,394.2 813.8,395.3" fill="none" stroke="#f07b72" stroke-width="2.0" stroke-linejoin="round"/>
<polyline points="765.5,186.2 766.0,189.7 766.7,193.5 767.0,195.9 768.0,204.1 769.0,212.2 769.2,213.8 769.5,215.1 770.0,217.4 771.0,221.8 772.0,226.3 772.5,228.5 773.0,229.3 773.3,229.8 774.0,230.9 775.0,232.4 775.2,232.7 776.0,234.0 776.7,235.1 777.0,236.5 778.0,241.0 779.0,245.6 780.0,250.1 780.5,252.6 781.0,255.2 782.0,260.2 783.0,265.3 783.3,266.8 784.0,271.0 785.0,277.0 785.5,280.0 785.8,281.8 786.0,283.2 786.7,288.1 787.0,290.2 787.5,293.7 788.0,297.2 788.3,299.3 789.0,299.5 789.2,299.5 790.0,299.7 791.0,299.9 791.7,300.1 792.0,301.9 793.0,308.0 793.3,309.8 794.0,314.0 794.5,317.1 795.0,320.1 796.0,320.6 796.7,321.0 797.0,321.1 797.5,321.4 798.0,321.6 798.3,321.8 798.8,326.7 799.0,328.7 799.7,335.6 800.0,338.5 800.5,345.1 801.0,351.6 801.3,355.6 801.5,358.2 802.0,369.4 802.5,376.0 803.0,382.6 803.3,386.5 804.0,386.3 805.0,386.0 806.0,385.7 806.7,385.5 807.0,385.4 807.5,385.1 808.0,384.9 808.3,384.8 808.8,385.5 809.0,385.8 810.0,387.1 811.0,388.5 812.0,389.8 813.0,391.2 813.8,392.3" fill="none" stroke="#fcd04f" stroke-width="2.0" stroke-linejoin="round"/>
<line x1="801.4" y1="380" x2="801.4" y2="426" stroke="#88b2f8" stroke-width="1.6"/>
<polyline points="766.0,202.6 766.7,207.5 767.0,209.6 768.0,216.6 769.0,223.6 769.2,225.0 769.5,227.1 770.0,230.1 771.0,236.1 772.0,242.1 772.5,245.1 773.0,248.1 773.3,249.9 774.0,254.1 775.0,257.5 775.2,258.2 776.0,260.9 776.7,263.2 777.0,264.3 778.0,267.6 779.0,271.0 780.0,274.4 780.5,276.1 781.0,278.4 782.0,283.0 783.0,287.6 783.3,289.0 784.0,292.2 785.0,296.8 785.5,299.1 785.8,300.9 786.0,302.1 786.7,306.4 787.0,308.2 787.5,311.3 788.0,314.3 788.3,316.1 789.0,320.4 789.2,321.6 790.0,325.0 791.0,329.2 791.7,332.2 792.0,333.5 793.0,337.7 793.3,339.0 794.0,342.0 794.5,344.1 795.0,345.8 796.0,349.3 796.7,351.7 797.0,352.8 797.5,354.5 798.0,356.2 798.3,357.3 798.8,359.0 799.0,359.7 799.7,362.1 800.0,370.0 800.5,383.1 801.0,391.1 801.3,395.9" fill="none" stroke="#88b2f8" stroke-width="1.5"/>
<polyline points="744.0,201.6 745.0,200.4 746.0,199.2 746.7,196.9 747.0,195.8 748.0,192.5 749.0,192.1 750.0,191.7 751.0,191.3 751.3,191.2 752.0,188.4" fill="none" stroke="#f28880" stroke-width="2.6"/>
<polyline points="161.0,469.3 162.0,467.9 163.0,466.5 163.7,465.5 164.0,466.1 165.0,468.1 165.6,469.3 166.0,468.4 167.0,466.0 168.0,467.7 168.9,469.3 169.0,469.2 170.0,468.2 171.0,467.1 172.0,466.1 172.1,466.0 173.0,464.9 174.0,463.6 175.0,464.0 175.9,464.4 176.0,464.4 176.4,464.6 177.0,467.7 177.3,469.3 178.0,468.9 179.0,468.4 180.0,467.9 180.1,467.9 181.0,468.8 182.0,469.8 182.4,470.2 183.0,468.3 184.0,465.2 184.8,462.7 185.0,462.9 186.0,463.7 187.0,464.5 187.1,464.6 188.0,465.8 189.0,467.1 189.9,468.3 190.0,468.0 191.0,464.6 192.0,461.3 192.7,459.0 193.0,459.8 194.0,462.4 195.0,465.0 196.0,460.1 197.0,455.1 198.0,450.2 198.3,448.7 199.0,452.1 200.0,456.9 201.0,461.7 201.1,462.2 202.0,462.2 203.0,462.2 204.0,462.2 205.0,462.2 205.8,462.2 206.0,462.4 207.0,463.2 208.0,464.1 208.6,464.6 209.0,464.6 210.0,464.6 211.0,464.6 211.4,464.6 212.0,462.8 213.0,459.9 213.3,459.0 214.0,458.5 214.2,458.4 215.0,457.8 216.0,457.2 216.1,457.1 217.0,452.9 217.9,448.7 218.0,449.0 219.0,451.9 219.8,454.3 220.0,454.2 221.0,453.8 222.0,453.4 223.0,453.0 224.0,452.6 224.5,452.4 225.0,450.0 226.0,445.2 227.0,440.4 227.8,436.5 228.0,437.2 229.0,440.9 229.6,443.1 230.0,441.1 231.0,436.0 232.0,430.9 233.0,433.1 233.8,434.9 234.0,435.4 235.0,437.6 236.0,439.9 236.6,441.2 237.0,440.0 238.0,437.0 239.0,434.0 239.4,432.8 240.0,431.9 241.0,430.4 241.3,430.0 242.0,423.0 242.3,420.0 243.0,287.5 243.2,249.6 244.0,249.6 244.6,249.6 245.0,318.2 245.6,421.0 246.0,421.3 246.7,421.7 247.0,422.2 248.0,423.8 249.0,425.3 249.3,425.8 250.0,423.9 251.0,421.2 252.0,418.6 252.7,416.7 253.0,415.6 254.0,412.1 255.0,408.5 256.0,405.0 257.0,363.9 257.6,339.2 258.0,341.4 259.0,347.1 260.0,352.7 261.0,358.3 261.8,390.0 262.0,388.0 263.0,378.2 263.5,373.3 264.0,376.3 265.0,382.2 266.0,388.2 266.7,392.3 267.0,394.1 267.7,398.3 268.0,393.8 269.0,378.6 270.0,363.5 271.0,348.3 272.0,355.4 272.5,359.0 273.0,362.6 274.0,369.7 275.0,376.9 275.2,378.3 276.0,376.7 277.0,374.7 278.0,372.6 278.3,372.0 279.0,370.6 279.3,370.0 280.0,374.8 281.0,381.7 282.0,373.6 283.0,365.5 284.0,357.4 284.3,355.0 285.0,356.4 286.0,358.4 286.8,360.0 287.0,358.5 288.0,351.2 289.0,343.9 289.3,341.7 290.0,349.2 291.0,360.0 291.7,354.8 292.0,352.5 293.0,345.0 294.0,337.5 295.0,330.0 296.0,330.5 297.0,331.0 298.0,331.5 298.3,331.7 299.0,334.9 300.0,339.6 300.8,343.3 301.0,340.2 301.7,329.2 302.0,324.5 302.5,316.7 303.0,318.4 304.0,321.7 305.0,325.0 306.0,316.6 306.7,310.8 307.0,312.5 308.0,318.2 309.0,323.9 309.2,325.0 310.0,320.2 311.0,314.1 312.0,308.0 312.5,305.0 313.0,306.0 314.0,308.0 314.7,309.4 315.0,310.0 316.0,306.6 317.0,303.2 318.0,299.9 319.0,296.5 319.2,295.8 320.0,297.0 321.0,298.5 321.7,299.6 322.0,300.0 322.5,300.8 323.0,299.6 324.0,297.3 325.0,295.0 326.0,295.8 327.0,296.5 328.0,297.3 328.3,297.5 328.7,298.7 329.0,299.6 330.0,302.6 330.8,305.0 331.0,304.6 331.7,303.1 332.0,302.4 333.0,300.2 333.3,299.6 334.0,298.1 335.0,295.9 335.8,294.2 336.0,295.1 337.0,299.5 337.5,301.7 338.0,298.4 339.0,291.9 340.0,285.3 341.0,291.2 341.7,295.4 342.0,297.2 342.7,301.3 343.0,300.7 344.0,298.6 345.0,296.6 345.3,296.0 346.0,296.7 347.0,297.7 348.0,298.7 349.0,295.5 350.0,292.4 351.0,289.2 352.0,286.0 353.0,301.9 353.3,306.7 354.0,298.7 355.0,287.3 356.0,275.9 356.7,268.0 357.0,264.6 357.4,260.0 358.0,263.1 359.0,268.2 360.0,273.3 361.0,278.5 361.3,280.0 362.0,286.1 363.0,294.7 363.3,297.3 364.0,296.5 365.0,295.3 366.0,294.1 366.7,293.3 367.0,294.1 368.0,296.8 368.7,298.7 369.0,298.7 370.0,298.7 371.0,298.7 372.0,298.7 372.7,298.7 373.0,295.3 373.3,291.9 374.0,284.0 375.0,298.6 376.0,313.3 376.7,305.8 377.0,302.6 378.0,292.0 379.0,281.4 380.0,270.7 381.0,281.1 382.0,291.4 382.7,298.7 383.0,297.5 384.0,293.4 385.0,289.4 386.0,285.3 386.7,288.4 387.0,289.7 388.0,294.2 388.7,297.3 389.0,297.7 390.0,299.1 391.0,300.4 392.0,301.8 392.7,302.7 393.0,301.9 394.0,299.3 395.0,296.7 396.0,294.1 397.0,291.5 397.3,290.7 398.0,289.5 399.0,287.9 400.0,286.2 401.0,284.5 401.3,284.0 402.0,283.3 403.0,282.3 404.0,281.3 405.0,274.4 406.0,267.5 406.7,262.7 407.0,264.4 408.0,270.0 409.0,275.6 409.3,277.3 410.0,275.6 411.0,273.1 412.0,270.7 413.0,270.2 414.0,269.7 415.0,269.2 415.5,268.9 416.0,268.7 416.7,256.9 417.0,251.8 418.0,235.0 418.7,223.2 419.0,228.0 420.0,244.0 421.0,260.0 421.7,261.4 422.0,262.0 423.0,264.1 423.2,264.5 424.0,262.5 425.0,260.0 426.0,257.5 426.2,257.0 427.0,257.2 428.0,257.4 429.0,257.7 429.2,257.7 430.0,258.5 431.0,259.5 431.5,260.0 432.0,261.0 433.0,263.1 433.7,264.5 434.0,262.5 435.0,256.0 436.0,249.5 436.7,252.8 437.0,254.3 437.5,256.7 438.0,259.0 438.2,260.0 439.0,254.8 439.7,250.2 440.0,251.9 440.5,254.8 441.0,257.7 442.0,263.5 442.7,267.5 443.0,265.8 443.5,263.0 444.0,260.3 445.0,254.7 446.0,258.0 446.5,259.6 447.0,261.2 448.0,264.5 448.3,264.8 449.0,265.5 449.5,266.0 450.0,266.5 451.0,267.5 452.0,271.0 452.5,272.8 453.0,274.5 453.3,275.6 454.0,278.0 455.0,278.0 456.0,278.0 457.0,278.0 458.0,279.5 459.0,281.0 460.0,282.5 461.0,283.2 462.0,283.8 463.0,284.5 464.0,285.2 464.5,285.5 465.0,285.7 466.0,286.0 466.7,286.2 467.0,286.3 467.5,286.5 468.0,286.7 469.0,287.0 470.0,285.8 471.0,290.6 471.7,294.0 472.0,295.4 473.0,300.3 473.3,301.7 474.0,301.6 475.0,301.4 475.8,301.2 476.0,300.9 477.0,299.1 478.0,297.2 478.3,296.7 479.0,297.2 480.0,298.0 480.4,298.3 481.0,297.6 482.0,296.4 482.1,296.2 483.0,301.1 483.3,302.8 484.0,306.6 485.0,312.0 485.4,314.2 486.0,314.1 487.0,313.9 487.5,313.8 488.0,313.5 489.0,313.1 490.0,312.7 490.4,312.5 491.0,314.3 492.0,317.4 493.0,320.5 493.3,321.4 494.0,323.6 494.2,324.2 495.0,324.5 496.0,324.8 496.7,325.0 497.0,325.1 498.0,325.3 499.0,325.4 500.0,325.6 500.8,325.8 501.0,326.2 502.0,328.0 503.0,329.8 503.3,330.4 504.0,329.9 505.0,329.2 506.0,329.3 506.7,329.4 507.0,329.4 508.0,329.6 508.3,329.6 509.0,329.0 510.0,328.2 510.8,327.5 511.0,328.4 512.0,332.8 512.5,335.0 513.0,337.1 513.3,338.3 514.0,338.8 515.0,339.6 516.0,340.3 516.7,340.8 517.0,341.1 518.0,341.8 519.0,342.6 520.0,343.3 521.0,344.8 521.7,345.9 522.0,346.3 523.0,347.8 523.3,348.3 524.0,347.2 525.0,345.7 526.0,344.2 526.7,343.2 527.0,342.7 528.0,341.2 528.3,340.8 529.0,342.0 530.0,343.8 531.0,345.5 531.7,346.7 532.0,346.5 533.0,345.8 534.0,345.1 534.7,344.7 535.0,344.5 536.0,343.8 536.7,343.3 537.0,342.0 538.0,337.7 539.0,333.4 539.3,332.1 540.0,329.0 541.0,324.7 541.7,321.7 542.0,321.3 543.0,320.1 544.0,318.9 545.0,317.7 545.2,317.4 545.8,316.7 546.0,315.5 547.0,309.3 548.0,303.1 549.0,297.0 550.0,290.8 550.4,291.8 551.0,293.3 551.7,295.0 552.0,294.5 553.0,292.8 553.3,292.3 554.0,291.2 555.0,289.5 556.0,287.9 556.7,286.7 557.0,286.1 558.0,284.0 559.0,282.0 559.2,281.6 560.0,279.9 560.8,278.3 561.0,277.7 562.0,274.5 563.0,271.3 563.2,270.7 563.5,269.7 564.0,272.0 565.0,276.5 566.0,281.0 566.2,281.2 567.0,282.0 568.0,283.0 569.0,284.0 570.0,284.2 570.8,284.4 571.0,284.5 572.0,284.7 573.0,286.5 574.0,288.2 575.0,290.0 576.0,289.7 576.6,289.6 577.0,289.5 577.8,289.3 578.0,289.2 579.0,291.2 580.0,293.3 580.1,293.5 580.2,293.7 581.0,294.5 582.0,295.5 582.5,296.0 583.0,296.0 584.0,296.0 584.8,296.0 585.0,296.0 585.5,296.0 586.0,299.0 587.0,305.0 588.0,309.0 588.3,310.2 589.0,313.0 590.0,317.0 590.1,317.4 591.0,320.5 592.0,324.0 593.0,327.5 594.0,336.5 594.5,341.0 595.0,340.5 595.3,340.2 596.0,339.5 597.0,342.8 598.0,346.0 598.8,345.3 599.0,345.1 600.0,344.2 601.0,342.7 602.0,341.2 602.5,340.4 603.0,340.8 604.0,341.5 604.2,341.7 604.6,342.7 605.0,343.7 606.0,346.2 606.7,347.9 607.0,347.9 608.0,347.9 609.0,347.9 609.2,347.9 610.0,346.2 611.0,344.0 611.7,342.5 612.0,342.1 613.0,340.6 614.0,339.1 614.2,338.8 615.0,339.4 616.0,340.1 617.0,340.9 617.5,341.2 618.0,341.4 619.0,341.8 620.0,342.2 620.8,342.5 621.0,342.8 622.0,344.1 623.0,345.4 623.3,345.8 624.0,346.7 625.0,348.1 626.0,349.5 626.7,350.4 627.0,350.4 628.0,350.5 629.0,350.6 630.0,350.7 630.8,350.8 631.0,350.9 631.7,351.2 632.0,351.3 633.0,351.8 633.8,352.1 634.0,351.4 635.0,348.8 636.0,352.6 637.0,356.4 637.5,358.3 638.0,357.8 639.0,356.9 639.2,356.7 640.0,358.6 641.0,360.9 641.7,362.5 642.0,363.3 643.0,366.1 644.0,368.9 645.0,371.7 646.0,376.6 647.0,381.5 648.0,381.0 649.0,380.5 650.0,380.0 651.0,376.7 652.0,373.5 653.0,370.2 653.3,369.2 654.0,369.9 655.0,370.9 656.0,371.8 656.7,372.5 657.0,372.0 658.0,370.1 658.3,369.6 659.0,367.4 660.0,364.2 660.8,361.7 661.0,361.4 662.0,359.8 663.0,358.2 663.3,357.7 664.0,356.6 665.0,355.0 666.0,353.3 667.0,351.6 668.0,349.8 668.3,349.3 669.0,348.1 670.0,346.4 670.8,345.0 671.0,344.8 672.0,344.0 673.0,343.1 673.3,342.9 674.0,342.3 675.0,341.4 676.0,340.6 676.7,340.0 677.0,338.8 678.0,335.0 679.0,331.2 679.3,330.0 680.0,326.8 681.0,322.3 682.0,317.8 683.0,313.3 683.3,311.9 684.0,308.7 685.0,304.2 685.2,303.3 686.0,303.0 686.7,302.8 687.0,302.6 688.0,302.3 688.3,302.2 688.5,302.1 689.0,301.0 690.0,298.9 691.0,296.7 692.0,294.0 692.5,292.7 693.0,291.3 693.3,290.5 693.5,290.0 694.0,295.8 694.3,299.2 695.0,298.1 695.8,296.8 696.0,296.4 696.4,295.8 696.7,299.8 697.0,303.9 697.5,310.6 697.7,313.3 698.0,313.9 699.0,315.9 700.0,317.9 700.2,318.3 701.0,317.8 702.0,317.1 702.7,316.7 703.0,316.1 703.3,315.6 703.8,314.7 704.0,314.3 704.8,312.9 705.0,314.2 706.0,319.2 707.0,319.5 708.0,319.8 708.5,320.0 709.0,319.2 710.0,317.7 711.0,316.2 711.8,315.0 712.0,312.8 713.0,302.1 713.3,298.9 713.5,296.7 714.0,297.1 715.0,297.8 715.2,297.9 715.8,295.3 716.0,294.4 716.6,291.8 717.0,290.0 718.0,285.7 719.0,281.3 719.3,280.0 720.0,275.1 721.0,268.2 721.7,263.3 722.0,262.7 722.5,261.7 723.0,260.7 723.3,260.1 724.0,258.7 724.2,258.3 725.0,257.0 726.0,255.3 726.7,254.2 727.0,255.3 728.0,258.9 729.0,262.6 729.2,263.3 729.4,262.6 730.0,260.3 731.0,256.6 732.0,252.8 733.0,249.1 733.3,247.9 734.0,245.3 734.7,242.7 735.0,241.0 736.0,235.5 737.0,229.9 738.0,224.4 739.0,218.8 740.0,213.3 741.0,208.4 742.0,203.4 742.7,200.0 743.0,199.6 743.3,199.3 744.0,198.4 745.0,197.2 746.0,196.0 746.7,193.7 747.0,192.7 748.0,189.3 749.0,188.9 750.0,188.5 751.0,188.1 751.3,188.0 752.0,185.2 753.0,181.2 753.3,180.0 754.0,170.7 755.0,157.5 756.0,144.3 756.7,135.0 757.0,135.6 758.0,137.6 758.3,138.2 759.0,139.6 759.2,140.0 760.0,146.5 761.0,154.6 762.0,162.7 763.0,170.9 763.3,173.3 764.0,177.1 764.2,178.2 765.0,182.5 765.5,185.2 766.0,187.9 766.7,191.7 767.0,194.1 768.0,202.3 769.0,210.4 769.2,212.0 769.5,213.3 770.0,215.6 771.0,220.0 772.0,224.5 772.5,226.7 773.0,227.5 773.3,228.0 774.0,229.1 775.0,230.6 775.2,230.9 776.0,232.2 776.7,233.3 777.0,234.7 778.0,239.2 779.0,243.8 780.0,248.3 780.5,250.8 781.0,253.4 782.0,258.4 783.0,263.5 783.3,265.0 784.0,269.2 785.0,275.2 785.5,278.2 785.8,280.0 786.0,281.4 786.7,286.3 787.0,288.4 787.5,291.9 788.0,295.4 788.3,297.5 789.0,297.7 789.2,297.7 790.0,297.9 791.0,298.1 791.7,298.3 792.0,300.1 793.0,306.2 793.3,308.0 794.0,312.2 794.5,315.3 795.0,318.3 796.0,318.8 796.7,319.2 797.0,319.3 797.5,319.6 798.0,319.8 798.3,320.0 798.8,324.9 799.0,326.9 799.7,333.8 800.0,336.7 800.5,343.3 801.0,349.8 801.3,353.8 801.5,356.4 802.0,362.9 802.5,369.5 803.0,376.1 803.3,380.0 804.0,379.8 805.0,379.5 806.0,379.2 806.7,379.0 807.0,378.9 807.5,378.6 808.0,378.4 808.3,378.3 808.8,379.0 809.0,379.3 810.0,380.6 811.0,382.0 812.0,383.3 813.0,384.7 813.8,385.8" fill="none" stroke="#553c99" stroke-width="2.3" stroke-linejoin="miter" stroke-miterlimit="3"/>
<line x1="161" y1="484.5" x2="814" y2="484.5" stroke="#15152a" stroke-width="1.1"/>
<text x="72.70" y="85.4" class="ax" textLength="80.6" lengthAdjust="spacingAndGlyphs">$40,000,000</text>
<text x="72.70" y="186.0" class="ax" textLength="80.6" lengthAdjust="spacingAndGlyphs">$30,000,000</text>
<text x="72.70" y="286.6" class="ax" textLength="80.6" lengthAdjust="spacingAndGlyphs">$20,000,000</text>
<text x="72.70" y="387.2" class="ax" textLength="80.6" lengthAdjust="spacingAndGlyphs">$10,000,000</text>
<text x="137.70" y="487.8" class="ax" textLength="15.6" lengthAdjust="spacingAndGlyphs">$0</text>
<text x="256.4" y="500.5" text-anchor="end" class="xl" transform="rotate(-32 256.4 500.5)">2019/04/01</text>
<text x="389.0" y="500.5" text-anchor="end" class="xl" transform="rotate(-32 389.0 500.5)">2019/07/01</text>
<text x="523.0" y="500.5" text-anchor="end" class="xl" transform="rotate(-32 523.0 500.5)">2019/10/01</text>
<text x="657.0" y="500.5" text-anchor="end" class="xl" transform="rotate(-32 657.0 500.5)">2020/01/01</text>
<text x="789.6" y="500.5" text-anchor="end" class="xl" transform="rotate(-32 789.6 500.5)">2020/04/01</text>
<text x="31.3" y="49.7" class="title" textLength="500.5" lengthAdjust="spacingAndGlyphs">DeFi Annualized Earnings (30 Day Average)</text>
<text x="472.3" y="567.7" class="axt" textLength="30.6" lengthAdjust="spacingAndGlyphs">Date</text>
<text transform="translate(44 387.9) rotate(-90)" class="axt2" textLength="167.2" lengthAdjust="spacingAndGlyphs">Annualized Earnings</text>
<rect x="847.6" y="74.40" width="14.4" height="14.2" rx="2" fill="#674ea7"/>
<text x="871.6" y="86.00" class="leg" textLength="33.66" lengthAdjust="spacingAndGlyphs">Aave</text>
<rect x="847.6" y="101.18" width="14.4" height="14.2" rx="2" fill="#fcd04f"/>
<text x="871.6" y="112.78" class="leg" textLength="15.60" lengthAdjust="spacingAndGlyphs">0x</text>
<rect x="847.6" y="127.96" width="14.4" height="14.2" rx="2" fill="#f07b72"/>
<text x="871.6" y="139.56" class="leg" textLength="36.12" lengthAdjust="spacingAndGlyphs">dYdX</text>
<rect x="847.6" y="154.74" width="14.4" height="14.2" rx="2" fill="#7baaf7"/>
<text x="871.6" y="166.34" class="leg" textLength="72.24" lengthAdjust="spacingAndGlyphs">Compound</text>
<rect x="847.6" y="181.52" width="14.4" height="14.2" rx="2" fill="#46bdc6"/>
<text x="871.6" y="193.12" class="leg" textLength="60.74" lengthAdjust="spacingAndGlyphs">Synthetix</text>
<rect x="847.6" y="208.30" width="14.4" height="14.2" rx="2" fill="#ff6d01"/>
<text x="871.6" y="219.90" class="leg" textLength="56.63" lengthAdjust="spacingAndGlyphs">Uniswap</text>
<rect x="847.6" y="235.08" width="14.4" height="14.2" rx="2" fill="#34a853"/>
<text x="871.6" y="246.68" class="leg" textLength="46.79" lengthAdjust="spacingAndGlyphs">Bancor</text>
<rect x="847.6" y="261.86" width="14.4" height="14.2" rx="2" fill="#fbbc04"/>
<text x="871.6" y="273.46" class="leg" textLength="38.57" lengthAdjust="spacingAndGlyphs">Kyber</text>
<rect x="847.6" y="288.64" width="14.4" height="14.2" rx="2" fill="#ea4335"/>
<text x="871.6" y="300.24" class="leg" textLength="39.40" lengthAdjust="spacingAndGlyphs">Augur</text>
<rect x="847.6" y="315.42" width="14.4" height="14.2" rx="2" fill="#1c4587"/>
<text x="871.6" y="327.02" class="leg" textLength="41.02" lengthAdjust="spacingAndGlyphs">Maker</text>
</svg></body></html>
